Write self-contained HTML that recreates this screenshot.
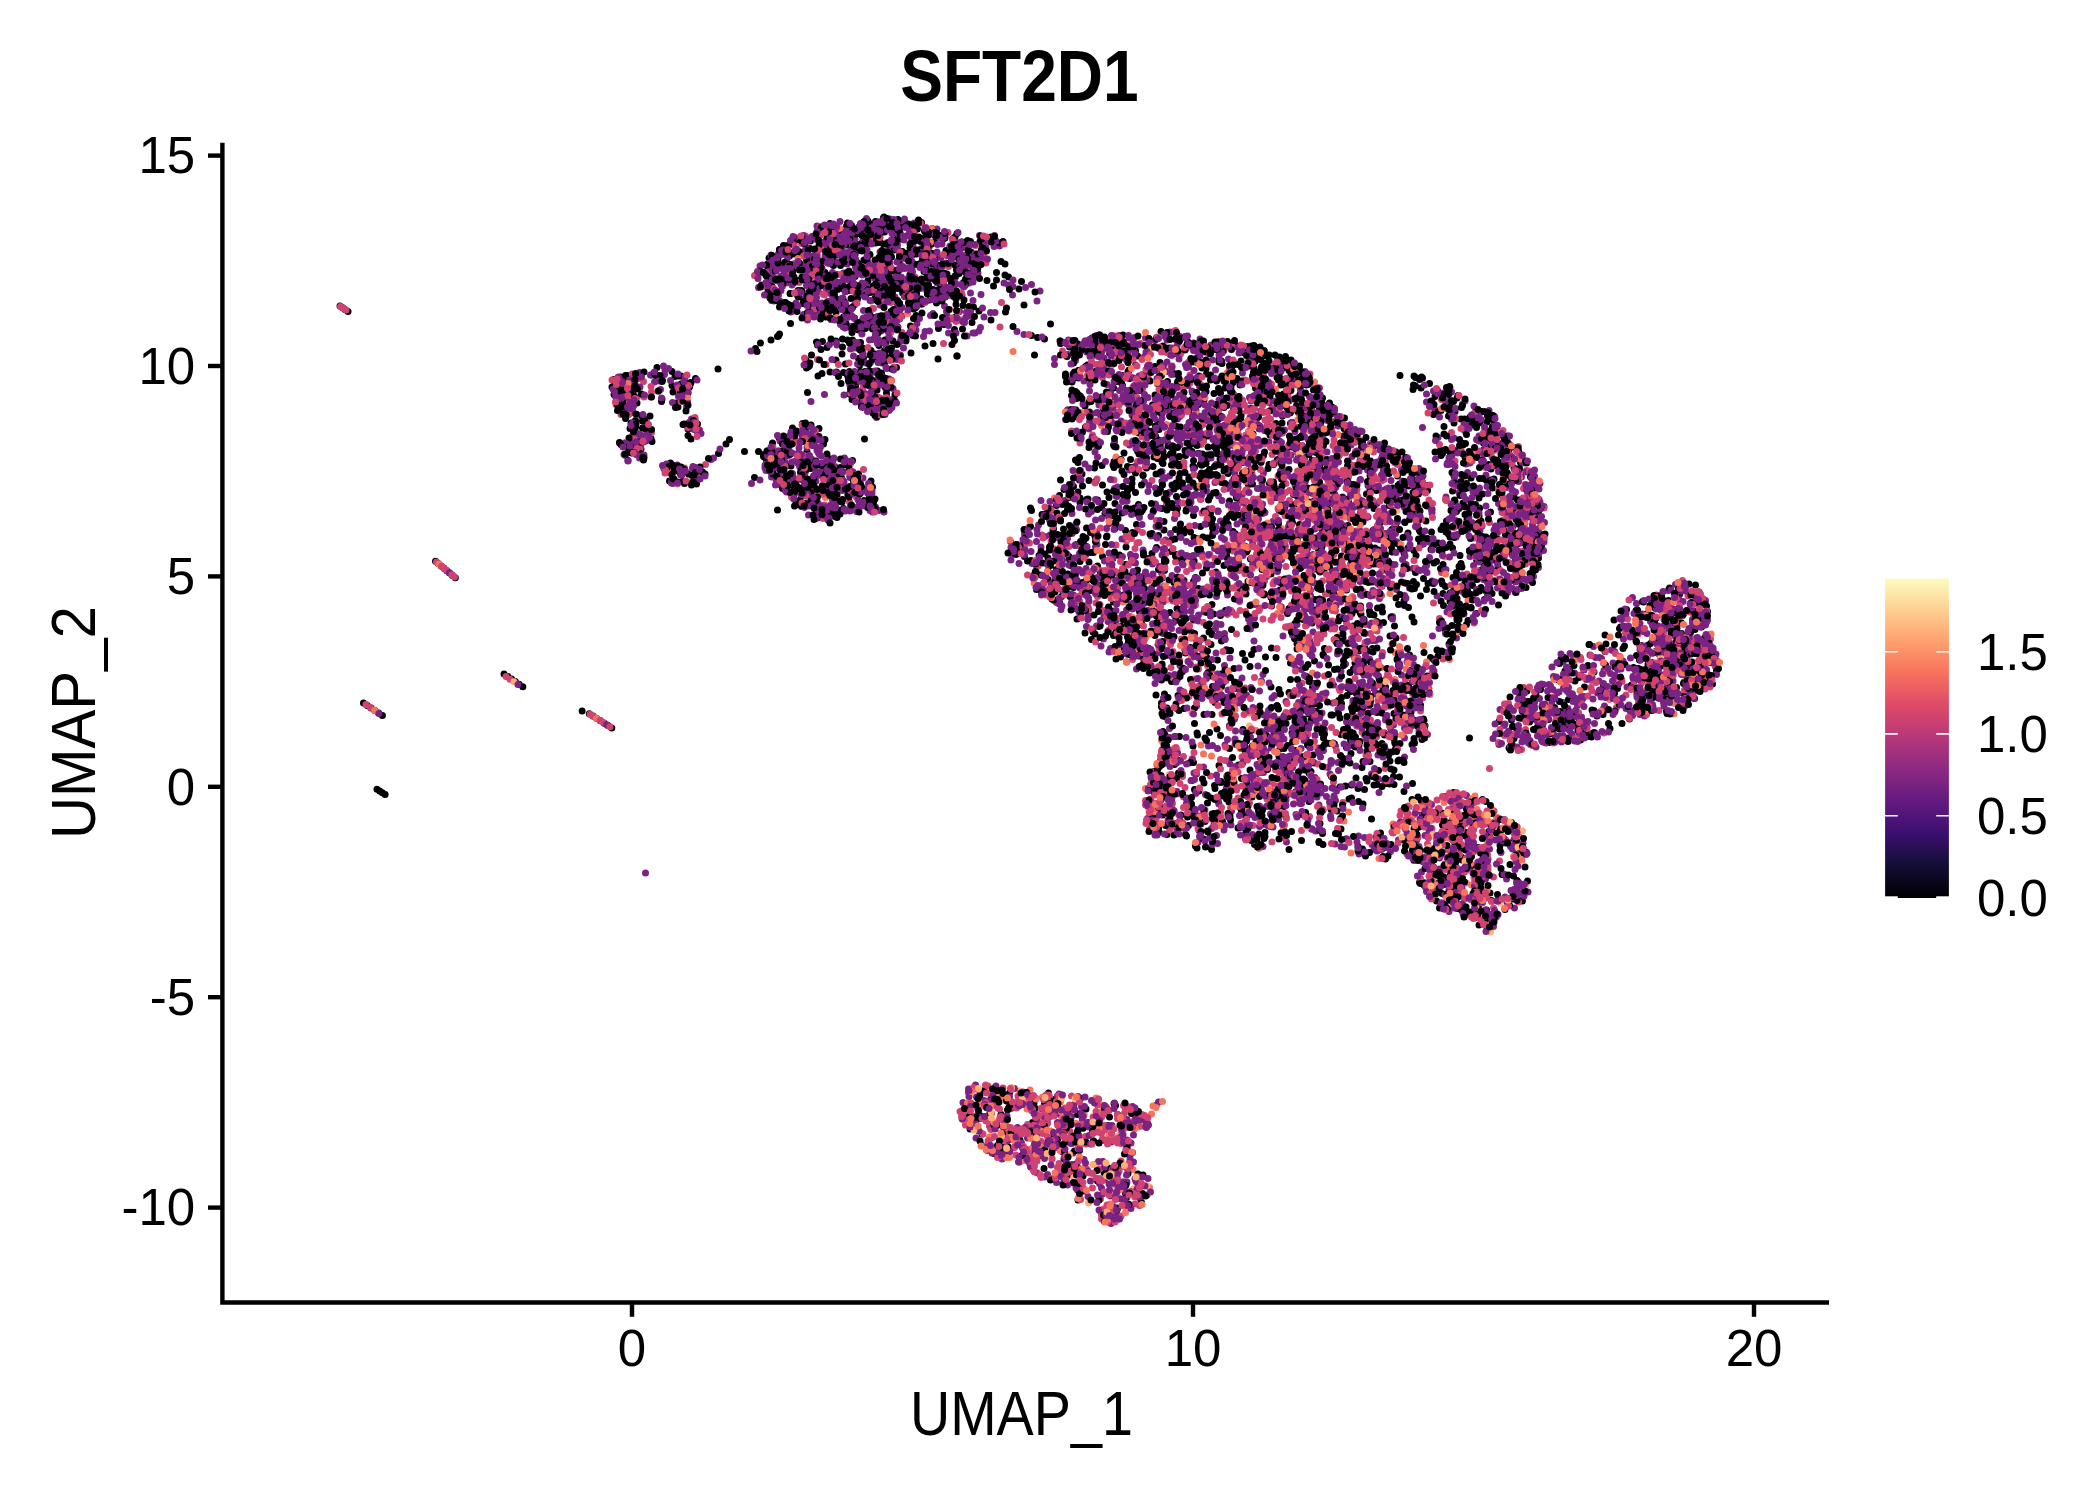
<!DOCTYPE html><html><head><meta charset="utf-8"><style>html,body{margin:0;padding:0;background:#fff;overflow:hidden}svg{display:block}text{font-family:"Liberation Sans",sans-serif}</style></head><body><svg width="2100" height="1500" viewBox="0 0 2100 1500"><rect width="2100" height="1500" fill="#fff"/><defs><linearGradient id="mg" x1="0" y1="1" x2="0" y2="0"><stop offset="0" stop-color="#000004"/><stop offset="0.1" stop-color="#140E36"/><stop offset="0.2" stop-color="#3B0F70"/><stop offset="0.3" stop-color="#641A80"/><stop offset="0.4" stop-color="#8C2981"/><stop offset="0.5" stop-color="#B73779"/><stop offset="0.6" stop-color="#DE4968"/><stop offset="0.7" stop-color="#F7705C"/><stop offset="0.8" stop-color="#FE9F6D"/><stop offset="0.9" stop-color="#FECF92"/><stop offset="1" stop-color="#FCFDBF"/></linearGradient></defs><g fill="none" stroke-linecap="round" stroke-width="7.00"><path stroke="#000004" d="M837 476.5h0m371.5 23.5h0m152.5 114.5h0m-67.5 16h0m-366-338h0m736 372.5h0m-803-293.5h0m771.5 258.5h0m-636.5 457h0m466.5-520h0m-290-82h0m-551.5-108h0m388-100h0m256 175h0m15.5-80h0m243 144.5h0m-528.5 577h0m211.5-702h0m199.5 108.5h0m-13.5 29.5h0m-191 126.5h0m77.5-261h0m121.5 348.5h0m-584.5-263h0m469.5-26h0m-629.5-79h0m780.5 478h0m-91.5-425h0m-133.5 202.5h0m-157.5-102.5h0m277.5 186.5h0m-205-168h0m92.5 142.5h0m78.5-46h0m-303 510h0m329.5-721h0m24.5 255.5h0m-476-200.5h0m-81.5-214h0m412 73.5h0m-561.5 102h0m250.5-200h0m-4.5 148.5h0m580 122h0m166 117h0m-556-17.5h0m568.5 88.5h0m-484.5 76h0m180-49h0m20.5-71h0m-524.5-146h0m-218.5-120.5h0m491.5-54h0m82 437.5h0m135.5-262.5h0m-4.5-45.5h0m-331.5 625h0m482-225h0m-173.5-478h0m179 121.5h0m-20 103.5h0m-170 230h0m-414-512h0m212.5 27.5h0m-305.5 86h0m460.5 11.5h0m-93-40h0m-72.5 54.5h0m-106-225h0m245.5 191.5h0m-139 688h0m-1-587h0m293.5-69h0m-134-14.5h0m-64.5 220.5h0m-30-42h0m151-217h0m153 164h0m-651.5-309.5h0m-106 158.5h0m171.5-70h0m820 229h0m-275 92.5h0m-167.5-290.5h0m-161-39.5h0m-193-94h0m431.5 255.5h0m-462-260h0m173 897.5h0m-158.5-654.5h0m-51-200h0m538.5 188.5h0m34 265.5h0m-69-50h0m186.5-269h0m-664-152.5h0m128.5-42.5h0m-350.5 141h0m743 283.5h0m-499-165.5h0m340.5-11.5h0m-278-238h0m238 247.5h0m353.5 334h0m-152-172.5h0m-70-280.5h0m8 259.5h0m-420-422h0m639.5 317.5h0m-687-251.5h0m323 511.5h0m-140.5-505.5h0m-79-53.5h0m274 589.5h0m-343-498.5h0m523.5 203.5h0m289 84h0m-290 162.5h0m-541.5-537h0m303.5 196.5h0m-342.5-148h0m154.5-32h0m193.5 193h0m-130.5 715h0m-51.5-853h0m251.5 339.5h0m-44-141h0m319 12.5h0m-348-138.5h0m35.5 362.5h0m-31.5-370.5h0m308.5 41.5h0m-282.5 143h0m-83 35.5h0m147.5 201.5h0m-278.5-490h0m631.5 344.5h0m-386-292.5h0m246 224h0m-448.5-31h0m126 102.5h0m-76 487.5h0m493-415.5h0m-416-124.5h0m-298-238h0m378 38.5h0m281.5 507h0m-444.5-566h0m-190.5 42.5h0m-63 65.5h0m388.5 394.5h0m111.5-143.5h0m-121.5-247h0m-308.5-188h0m-50 186.5h0m410 234.5h0m93-157h0m-47.5-115.5h0m-11.5 158h0m337.5 149.5h0m-453.5-311h0m-364.5-89h0m80.5 80.5h0m-52 24.5h0m509 81h0m25 224h0m-537-224h0m266.5-77.5h0m305 322h0m-568.5-527h0m633.5 421.5h0m-335 559.5h0m208-688h0m90-134h0m-240 143.5h0m-232.5-290.5h0m339.5 305h0m226.5 204h0m-568.5-511.5h0m197 193.5h0m-462.5-53.5h0m104 86.5h0m907.5 238h0m-736-445.5h0m501 645.5h0m-249.5-436h0m82 341.5h0m-476.5-414h0m478.5 404h0m-195-395h0m-101 711h0m245-598h0m99 283.5h0m-141.5-378.5h0m293 171h0m-392 550.5h0m67.5-341.5h0m-385-507h0m417 173.5h0m28.5-103h0m-336-73h0m379.5 64h0m-82.5 268.5h0m142-189.5h0m194 467h0m-308-386.5h0m-35.5-56h0m-247.5-163.5h0m204 329.5h0m79-247.5h0m287 518.5h0m-172.5-361.5h0m-260.5-19.5h0m22 33h0m301.5 14.5h0m-195.5-168.5h0m41 11h0m170.5 197.5h0m-57.5-11h0m139-22.5h0m-350.5-156h0m72.5 391.5h0m86-240h0m-16-102.5h0m398.5 182h0m-189 194.5h0m-212-348.5h0m-133.5 134.5h0m148-239h0m-128.5 381h0m-96.5-187h0m-253.5-267h0m477 406h0m-338.5-467h0m88 897.5h0m-179-789h0m602.5 123h0m-405 660.5h0m385-288h0m-362.5-476h0m211 58h0m-172 678.5h0m-4-726.5h0m500.5 232h0m-273.5 135.5h0m6.5-60h0m63.5-191.5h0m-159 288.5h0m76-382h0m-217.5 797h0m-264.5-891.5h0m384 410.5h0m-443.5-480.5h0m618 516.5h0m-223-298.5h0m-245.5-205h0m-293 162h0m292-179.5h0m141.5 289h0m188-167h0m-71 192.5h0m-115-158.5h0m-382.5-19h0m181-6h0m451 94.5h0m-493-172h0m-37 209.5h0m910 107h0m-656-14.5h0m161-61.5h0m172 197.5h0m83 112.5h0m-614.5-517.5h0m302 38.5h0m550.5 274h0m-824.5-354.5h0m445.5 457h0m-537-471h0m618.5 261h0m-487.5-269.5h0m127 300.5h0m40.5-65h0m-290-208.5h0m417 412h0m126.5-146.5h0m149.5-119h0m-298.5 5.5h0m27.5 237h0m-409-441h0m658.5 186.5h0m-200.5 338.5h0m-640-350.5h0m183-156.5h0m301.5 188.5h0m466 275h0m-171-112.5h0m-407.5 508.5h0m671.5-492.5h0m-382 56h0m-529-394.5h0m118 96.5h0m385.5 451h0m177.5-7.5h0m-284-385h0m325 10h0m-632.5 43h0m541.5 93.5h0m-409-327h0m317.5 118h0m-184 211.5h0m188.5-81h0m253 172h0m-324.5-201h0m-170 680h0m-199-912.5h0m456 205h0m63.5-8.5h0m-228 173h0m138 9h0m99.5 88.5h0m-505-463h0m434 404h0m76-110h0m-540.5-222h0m277 170h0m28.5 29h0m-37.5 77h0m-125.5 516h0m-16.5-856h0m213 99.5h0m118.5 94.5h0m-214 13h0m385 462h0m-624-641h0m787 319h0m-497.5-200.5h0m117 78.5h0m116.5-33h0m-89.5-9h0m-220.5 697.5h0m62.5-630.5h0m-9.5-138.5h0m-485.5 48h0m590 5.5h0m-221 709.5h0m565.5-402.5h0m-272 7h0m337.5-88.5h0m-455 176.5h0m123.5-357h0m333 146h0m-565.5-134.5h0m331.5 209.5h0m-351.5-87h0m117.5-176h0m245 298.5h0m-57.5-78.5h0m-53-65h0m-14.5-78h0m267 154h0m-777-166h0m89.5-249h0m193 317h0m-418.5-121h0m1056 223h0m-846.5-168.5h0m396-109h0m-619 66h0m505.5 725h0m-330-865h0m649 547.5h0m-271-360h0m-380-72.5h0m456 295h0m-38 82h0m66-80.5h0m27.5 112h0m194-254h0m-447-232.5h0m100 446h0m12.5-95h0m311-253h0m-6 471h0m-53.5-49h0m-570-472.5h0m486.5 368.5h0m-67 68h0m52-280h0m128-48h0m117.5 237h0m-265.5 55h0m-176-362h0m169.5-51h0m370 239.5h0m-130 98h0m-860-245.5h0m356 117h0m-261.5-148h0m433.5 146h0m-361-344h0m546.5 255h0m-304.5 681h0m360.5-307.5h0m-37-73h0m-547-429h0m643.5 517.5h0m-171.5-50h0m-266 260.5h0m617.5-417h0m-386.5-260h0m-179.5 135.5h0m209.5 271h0m-434.5-573h0m-122-5h0m499 285h0m-79.5-136h0m-50 371.5h0m-248-436h0m527.5 248h0m-553-265h0m361.5 490.5h0m-196.5-231h0m285.5-111.5h0m-55-43h0m-101.5 341h0m-96-394h0m107 464h0m-30.5-222.5h0m365.5 237.5h0m-45.5-356.5h0m-313.5-79h0m203 90h0m-158 153h0m-385.5-341h0m400 466.5h0m17-418h0m47 142.5h0m-181-163h0m293 315.5h0m-504.5-412.5h0m91.5 843.5h0m370-650.5h0m-497.5-59.5h0m28.5 32.5h0m458.5 316.5h0m102-200.5h0m-586-27h0m-91-32.5h0m510 239.5h0m-458-390h0m67.5-1h0m-20-97h0m16.5 129.5h0m247.5 133h0m-302-191.5h0m523.5 377h0m-484-164h0m653 396h0m-622-649h0m450 180h0m-576.5-162.5h0m54.5 238h0m599.5 76h0m-302.5 610h0m260-334.5h0m-389-586.5h0m104.5 78.5h0m3 152.5h0m-329-245h0m609 586h0m-321.5-340h0m312 88.5h0m-203.5-139.5h0m-23 105h0m68.5-177.5h0m84 154h0m-34 200.5h0m239-200.5h0m-375-75.5h0m-27-50h0m-9 755h0m279.5-549.5h0m-43 194.5h0m125.5-298h0m-292.5 221.5h0m-549.5-348.5h0m495-31.5h0m-37 26.5h0m36 197h0m405.5-108.5h0m-256.5 248h0m56-229h0m-322.5-250h0m520.5 241h0m-227 237.5h0m-168-379h0m-483 44h0m239 106.5h0m152 54h0m138.5 190.5h0m498-100h0m-210.5-178h0m164 240h0m-577 463.5h0m299-677h0m-118.5 31h0m-425-240h0m629.5 544h0m-103.5-244.5h0m-468-176h0m616 93.5h0m-636 25.5h0m71.5-175h0m559 107h0m-69 42.5h0m-458-230.5h0m47.5 876.5h0m-153-901h0m485 268h0m42 277h0m-27-314.5h0m-231 125h0m425 263.5h0m-267.5-464h0m18.5 344.5h0m-481.5-304.5h0m278 697h0m232.5-561h0m265.5 174h0m16-51h0m89.5-74h0m-717-257h0m95.5 743.5h0m86-595h0m176 95h0m336 44h0m-359.5-264.5h0m277 362.5h0m-419-93h0m-255-321h0m526.5 366.5h0m-607-205h0m531-71h0m-151 202h0m443 35.5h0m53 10.5h0m-192.5-200h0m-218-88.5h0m-448.5-76h0m639 121.5h0m40.5 274h0m-683-349.5h0m400 121h0m260.5 124.5h0m-149-90h0m-34.5 207h0m-100-364.5h0m159 375.5h0m-689.5-255.5h0m537 124h0m312 122h0m-73-254h0m-168 324.5h0m91-133.5h0m53.5-127.5h0m-403 577.5h0m156-338h0m275.5-260.5h0m-213 324h0m98-207h0m-202 8h0m427.5 46h0m-394-119.5h0"/><path stroke="#7B2382" d="M1165.5 787h0m22.5-401.5h0m-117.5 172.5h0m190 214.5h0m-446.5-455.5h0m103 6.5h0m229.5 324h0m116-117h0m-122.5 76.5h0m161 141.5h0m-413.5-506h0m-108.5 208.5h0m-136.5 4.5h0m608 63.5h0m254.5 205h0m-390 449h0m563.5-512h0m-380-292.5h0m-53 155.5h0m94 155h0m43.5 78h0m131 82.5h0m-167.5-117.5h0m-208 400.5h0m246-648.5h0m19 230h0m265.5-92h0m-314-71h0m-469.5-153h0m33-102.5h0m-92-39h0m502.5 165.5h0m202.5 72h0m-664-79h0m529.5 94h0m-556.5-174.5h0m455.5 344.5h0m-46-251.5h0m93.5 118.5h0m-260.5 577h0m604-456h0m-532.5-222h0m224.5 95h0m-107.5 217h0m207.5-176h0m-201.5-158h0m83.5 37h0m304 151h0m-798.5-382.5h0m547 481.5h0m-427.5-452.5h0m130 248.5h0m-469-64h0m712 422h0m-117-338h0m-11 309h0m-375-591.5h0m788 479h0m-227.5-200h0m187 150.5h0m-288-183h0m202 86h0m-891-169.5h0m1069 294.5h0m-515.5-25.5h0m-46.5-29h0m564 41.5h0m-412.5 104.5h0m398-181h0m-828.5-339.5h0m-13-24.5h0m800.5 441.5h0m-337-182h0m-452-235.5h0m569.5 600h0m9-57h0m-274.5-426h0m212 295h0m-65.5-236.5h0m400.5 226.5h0m-404.5-204.5h0m-71-100h0m298.5 221.5h0m-172 65.5h0m-21.5 39h0m-203.5 475.5h0m327-343h0m-233.5-135h0m59.5-221.5h0m85 56h0m71.5 341h0m235.5-248.5h0m-662-323h0m-89.5 50h0m757 297.5h0m-310-190.5h0m-248 58h0m-316.5 2h0m281.5-134.5h0m39.5 750.5h0m-182-883.5h0m211 582h0m241-329h0m-138.5 30h0m438.5 171.5h0m-295-116.5h0m-11.5 154h0m-427.5 374.5h0m304-738h0m234 218h0m-332.5-172.5h0m-308-116h0m615.5 615.5h0m-92-401.5h0m-137 240.5h0m80.5-249h0m-533.5-256h0m515 515.5h0m-21-207h0m-345.5-286h0m-174.5 26.5h0m682.5 107.5h0m37.5 459h0m-376.5-442.5h0m80 215.5h0m-45.5-206h0m361 476h0m-419-295h0m-97.5-294.5h0m452 590.5h0m-521-654.5h0m53.5 24.5h0m-128 188h0m833 155.5h0m-113 57.5h0m-933.5-271h0m711.5 253h0m-155.5 148h0m491-201.5h0m-18.5 24.5h0m-340-177.5h0m-71.5 179.5h0m87.5-87h0m-81 222.5h0m121-9.5h0m107.5 124h0m127.5-216h0m-58 75.5h0m-89-274.5h0m-348.5-124h0m79 366h0m-360-479.5h0m535.5 618h0m-63.5-116h0m-62 109h0m292-270h0m-5.5-79.5h0m-444.5 26h0m451 19.5h0m-703.5-23h0m694.5-25.5h0m-122 228h0m268-49h0m-878.5-367.5h0m24.5-10.5h0m424 409h0m60-70h0m-246.5 489.5h0m631.5-475.5h0m-301 60h0m-592.5-236h0m374.5 115h0m-548.5-123.5h0m767.5 277.5h0m141.5-236.5h0m-647.5-238h0m-38 54.5h0m505.5 160.5h0m-38 305h0m-179.5-221.5h0m-47 571h0m611-446h0m-605-89.5h0m531 23.5h0m-351.5 179h0m203.5-301.5h0m-819.5-101.5h0m923 339.5h0m9-75.5h0m-280.5-212h0m-450-192.5h0m670.5 463h0m-74-176.5h0m-138-77h0m-17.5-70h0m-498.5 41.5h0m310-27h0m13 782.5h0m223.5-532.5h0m349.5-55h0m-471.5-175h0m161.5 93h0m-24 16.5h0m-145.5 43h0m-345.5-340h0m244.5 250h0m291.5 201h0m-445.5-401h0m117 826h0m-299.5-822.5h0m449 473.5h0m-29-212h0m269-89h0m-13.5 175h0m48.5 201.5h0m-415-455h0m158 136h0m-272 617.5h0m69-601.5h0m628 144.5h0m-337.5-167h0m30 182h0m-103.5 98h0m-115.5 333.5h0m518.5-515h0m-514.5-204.5h0m-226-124h0m613 446h0m-262.5 67h0m-80-302.5h0m-62 157.5h0m129-116.5h0m-127 580h0m552.5-432.5h0m-231-159h0m-553-300.5h0m-24 135.5h0m485 218h0m175 121.5h0m-290.5-339.5h0m-424-102.5h0m677.5 194.5h0m-13-4h0m-140 17.5h0m-106 350h0m-611.5-372h0m1061.5 177h0m-389-9.5h0m-229-249.5h0m-216.5 19.5h0m791 323h0m-336-213.5h0m-693-77h0m578 418h0m64.5-357.5h0m-70-130h0m309 161.5h0m-610.5-189.5h0m597.5 603.5h0m-665-524h0m461.5 393.5h0m-28.5-240h0m216.5 31.5h0m-259-97h0m-359.5-217h0m324.5 71h0m-49 302.5h0m155.5-52.5h0m386.5 89h0m-548.5-61h0m359-35h0m-152.5 5h0m336.5 101.5h0m-371.5 128.5h0m-0.5-175.5h0m10.5-21h0m372.5-20h0m-113 118.5h0m-654-467h0m-49-8h0m-165 190.5h0m-21.5-45h0m417-12h0m396 554.5h0m-602-611.5h0m407 81h0m-348.5-135h0m369.5 471.5h0m-417.5-448h0m795.5 307h0m-515.5 84.5h0m25.5-24.5h0m67.5 159.5h0m-466-340.5h0m355-99h0m-267-149h0m323.5 301h0m97-94.5h0m-499 72h0m708-3h0m-392-91.5h0m196 124h0m351 132h0m-566 558h0m271.5-664h0m256.5 129h0m-377.5-260h0m243 391h0m11-237.5h0m-273-88h0m301 190.5h0m-117 173h0m80 21.5h0m-247.5-525.5h0m35 159.5h0m-130 239h0m288-235.5h0m35.5 66h0m-40-119.5h0m-134 14.5h0m-188.5 647.5h0m28-613h0m167 92.5h0m-383.5-309h0m330.5 444h0m416.5-73.5h0m-55-40h0m-207 246h0m268-180.5h0m-664-404h0m-47.5-19.5h0m119 276.5h0m-237-221.5h0m251 803h0m-253-615.5h0m826 171.5h0m-478-201h0m-172 665.5h0m249-675h0m-80 121h0m123-120h0m-25.5 60h0m-108.5-141.5h0m144 119.5h0m-224 708h0m2.5-22h0m-192.5-892.5h0m164.5 46h0m223 396.5h0m228-204.5h0m-224.5 27.5h0m-282.5 597.5h0m-232-734.5h0m58-147h0m258 156.5h0m252 75.5h0m80.5-53h0m-301.5 2h0m273.5 380h0m119.5-341h0m-367.5 276.5h0m484.5-182h0m-421-168h0m-158.5 92h0m300 313h0m-303 316h0m-107.5-868h0m533 555h0m-247.5-439h0m-278-100.5h0m-68.5-81.5h0m626 525.5h0m-652-369.5h0m280.5 278h0m-281.5-329.5h0m7.5 91h0m618.5 106h0m-220.5 240h0m-217-384h0m547 338h0m-218.5 27h0m-239-253.5h0m-247-198h0m324 482.5h0m-50.5-334.5h0m-403.5-143h0m295 887.5h0m-283.5-930h0m349.5 952.5h0m345.5-667.5h0m-182 164h0m-448-472.5h0m700 506.5h0m-132.5-58h0m71-106.5h0m-222-88.5h0m-52.5 321.5h0m117.5-208h0m-35.5 17.5h0m216 133.5h0m-85-166h0m-145.5 4h0m-248 3h0m126.5 4h0m-525.5-134h0m149-13h0m462 292h0m-470-435.5h0m741 209h0m-211 85h0m150.5-68h0m105 196h0m-409 59.5h0m80.5-364h0m-61.5-81h0m288 276h0m-340-271h0m412.5 173h0m-562.5-242h0m302 95.5h0m-446 136h0m53-212h0m696 444.5h0m61-78h0m-122.5 233.5h0m-79.5-49.5h0m-178.5-153h0m458-29.5h0m-762.5-383.5h0m-195-7h0m119 129h0m211-34.5h0m567.5 302h0m-215.5 212.5h0m-160-465h0m-139.5 167.5h0m-92.5-47.5h0m-87 575.5h0m641-440h0m-733.5-308h0m536 477h0m-318.5-220.5h0m582.5 39h0m-893-194h0m457.5 10h0m172 61.5h0m-47-75h0m-745.5-68.5h0m885.5 317.5h0m4-253h0m-276-9.5h0m-94 127h0m387-74.5h0m-678-201.5h0m90 15.5h0m-147-30.5h0m343.5 162h0m100.5 345.5h0m-115-195h0m-238.5-178h0m419.5 154h0m-148 235h0m273.5-111.5h0m-188-242h0m-124.5-102h0m326.5 537.5h0m124-152.5h0m-395.5-278.5h0m194.5 378.5h0m-468.5-541h0m31-30.5h0m-82.5-28.5h0m370 273h0m23.5-73.5h0m143.5 205h0m-61-57.5h0m-674.5-148.5h0m555 2.5h0m139-23.5h0m-234.5 770h0m-36.5-32h0m79-542h0m365.5-17h0m-212.5-107.5h0m-76-85h0m95.5 129h0m-210.5-160.5h0m556.5 288.5h0m-507.5 164.5h0m-307-577h0m139.5 861h0m-139-816h0m703 418.5h0m-507.5 401h0m34.5-579.5h0m467 21h0m-344.5-168h0m-1 57h0m204 251h0"/><path stroke="#D04371" d="M1192 599h0m-19 52.5h0m395 16.5h0m-446.5 456.5h0m261.5-561.5h0m195.5 151.5h0m-300.5-164h0m-462.5-119.5h0m637 388h0m-268-170h0m-302-331.5h0m522.5 504.5h0m-318.5 347h0m-453.5-786h0m198.5-124h0m662 563.5h0m-682-330.5h0m453 89h0m96.5-150h0m-241-79.5h0m548 269h0m-161.5-105.5h0m-366 97.5h0m36.5-208h0m85-2h0m97 104.5h0m-39-59.5h0m-208 769.5h0m266.5-632.5h0m-44.5-144.5h0m191 83h0m-35.5 290.5h0m20-359.5h0m-252.5-29h0m109 249.5h0m-231 529.5h0m6-604h0m111-127h0m16 16h0m46.5 31h0m234 222h0m-287-205.5h0m-346.5-259.5h0m458.5 448.5h0m-93-5.5h0m-5-356.5h0m-240 749h0m194.5-327h0m114.5-236h0m272 158h0m-450.5-154h0m59-1h0m92 227h0m-160.5 48h0m407.5-98.5h0m-245-315.5h0m-312.5 730.5h0m135-736.5h0m332.5 215.5h0m-103.5 10.5h0m220.5 54h0m-72.5 147.5h0m7-350.5h0m-565.5 627h0m313-395h0m83.5-222.5h0m-176.5 31.5h0m79.5-125h0m-282 708h0m47-562.5h0m403 309h0m-294.5-246.5h0m98.5-206.5h0m115.5 79.5h0m-101 349.5h0m453-214h0m-432 151.5h0m225 154.5h0m34.5-452.5h0m-145.5 197h0m112.5 209.5h0m-304.5-446.5h0m58-64.5h0m107 99.5h0m132 358.5h0m-402-479h0m-149.5-67.5h0m255.5 105.5h0m262 456h0m-458 311.5h0m447.5-578h0m-403.5-6.5h0m416.5 267h0m-32-135h0m-95.5-165.5h0m-514.5-100h0m175.5 653.5h0m533.5-336.5h0m168.5-137.5h0m-364-113h0m203.5 60h0m-58 260h0m-223-387.5h0m455 167.5h0m-466.5-107h0m9.5 97h0m75.5 159.5h0m-437-387h0m572.5 530.5h0m-199-509h0m-387-82h0m-227.5 96h0m768 443.5h0m35.5-8h0m-414.5 337h0m118.5-565.5h0m-140.5-52.5h0m-209.5-308h0m518 382.5h0m-138.5-221.5h0m323.5 62h0m-93 255h0m-100-176.5h0m-434-306.5h0m139 869.5h0m624-432.5h0m-790-212h0m472.5 347h0m20.5-270.5h0m-226 574.5h0m50.5-362h0m355.5-233h0m-99.5 167h0m-175.5-209h0m-483-191h0m446 383.5h0m87.5-299h0m81 206h0m-141-141.5h0m-123-81.5h0m166.5 194h0m104 130h0m58.5 135.5h0m-206.5-347h0m-93-45h0m38 207.5h0m-112 543h0m270-729.5h0m-194.5 23h0m-123.5 635h0m88.5 106h0m207.5-711.5h0m-355-175.5h0m364.5 199.5h0m-209 110.5h0m267.5 45h0m-43 60h0m-283 398.5h0m311-661.5h0m-193 191.5h0m535.5 3h0m-352-74.5h0m-179-129h0m-268.5-209h0m341 127h0m-253.5 707.5h0m251.5-741h0m-39.5 211.5h0m-403.5-285.5h0m474.5 439.5h0m119.5-33h0m-257.5-302h0m133.5 229.5h0m251 138.5h0m-337.5-94.5h0m-124.5 459h0m379-224h0m-149.5-424.5h0m-128 336.5h0m300.5-381.5h0m46 465.5h0m-249.5-482.5h0m-37 113h0m70 170.5h0m-134.5-249h0m175.5 136.5h0m94 229.5h0m-338-396.5h0m117.5 415h0m442.5-211.5h0m-310.5-117.5h0m167.5 364.5h0m-42-55h0m-271 13.5h0m171.5-125.5h0m-89-141h0m-414.5-50h0m377 301h0m-108.5-414h0m210.5 222h0m295 91h0m-268.5 41h0m-191.5 50.5h0m89-205.5h0m-72-69h0m116 213h0m10.5-208.5h0m94 212h0m-308-105.5h0m24.5-172.5h0m-283.5-125.5h0m511 248h0m-250.5-29h0m-37 592.5h0m282-677h0m9.5-14h0m-216 330h0m133-306.5h0m119.5 253.5h0m116.5-36h0m-674-185.5h0m-212.5-105h0m481.5 822h0m192-575.5h0m-64.5-108.5h0m120 220h0m-176.5-150h0m-85.5-245.5h0m138 397.5h0m-2.5-155.5h0m-165 4h0m400 197h0m-288 1.5h0m68-395.5h0m-45 287.5h0m78.5-300h0m-30.5 351.5h0m185.5-88.5h0m-95-112.5h0m141.5 222h0m-148.5-167.5h0m-28-83.5h0m-27-34h0m-111.5 109h0m142.5-130.5h0m159 354.5h0m-303-215.5h0m124-149h0m-75-107h0m101.5 113.5h0m-20 28h0m18-29h0m-220 757.5h0m305.5-361h0m-318-425h0m250.5 112.5h0m328.5 134h0m-450.5-114.5h0m107-87h0m-64.5 70.5h0m225.5-77h0m-727.5-191.5h0m416.5 97.5h0m-63.5 760.5h0m338.5-538h0m-56 107h0m-36-149.5h0m-288.5 584.5h0m112.5-499h0m425 32h0m-753.5-283.5h0m411.5-36.5h0m-149.5 45.5h0m68-7.5h0m-156.5 743h0m226.5-306.5h0m99-212h0m-245-251h0m75 262h0m101.5 149.5h0m-162.5 442h0m-62-70h0m396-685h0"/><path stroke="#F6735C" d="M989 1093h0m-94-857.5h0m-69.5 262h0m553.5 16.5h0m-299 683.5h0m201.5-669h0m-120.5-146.5h0m360 151.5h0m59 157h0m85.5-47h0m-283.5 57h0m86-100.5h0m207 97.5h0m-243 135h0m-286.5-44h0m365-80h0m-400 468h0m141.5-660.5h0m-96.5 260.5h0m369-254.5h0m-479.5 595.5h0m4.5-20.5h0m371.5-290h0m-420 326h0m474-337h0m-373 309.5h0m288-512h0m-255-161.5h0m213.5 136h0m-199 233.5h0m300.5-7.5h0m72 66h0m-396.5 352.5h0m124-499.5h0m268 121h0m-13-14h0m-403.5 292h0m202-531h0m-76-208h0m-88.5 754h0m432.5-433.5h0m-178 130.5h0m-175-482.5h0m130.5 470.5h0m156.5-264.5h0m-423.5 621.5h0m161-601h0m71-95h0m-154.5-103.5h0m153.5 303.5h0m-81-163.5h0m-98.5-149.5h0m338.5 525h0m-423.5 248.5h0m401.5-474h0m-304-21.5h0m253.5 61h0m-251 418.5h0m106-770.5h0m8 232h0m215 230.5h0m-82-157h0m-60.5-172.5h0m-460-244.5h0"/><path stroke="#FDAF74" d="M1311 761h0m-204.5 407.5h0m142.5-736.5h0m-229.5 659h0m52 84.5h0m95.5-359.5h0m-165.5 323.5h0m550-436.5h0m-438 468.5h0m56-397h0m25-213.5h0m-98 603.5h0m-24-23h0m-73 8h0m526.5-264h0m-26 17.5h0m-366.5 286h0m27.5-589.5h0m27-37h0"/><path stroke="#000004" d="M1310.5 555.5h0m110-12.5h0m-35.5-78h0m-319.5-91h0m150.5 74.5h0m259 454h0m227.5-289h0m-50.5 2h0m-502-234.5h0m-431.5 72.5h0m407 111h0m3 32.5h0m455.5 139h0m-278-0.5h0m76-149.5h0m-188.5-70.5h0m-125.5-105.5h0m-115.5-158.5h0m367 230.5h0m167-1.5h0m-622-233.5h0m172 342.5h0m-123.5-254h0m447 406h0m-382.5-466.5h0m420.5 210.5h0m-235-22h0m290.5 329h0m26-325h0m75 240h0m-391.5-256h0m-92 114h0m247-95h0m-74.5-47.5h0m168.5 194h0m-577.5-381h0m636.5 242h0m49.5-15.5h0m-383-106.5h0m281.5 471h0m-60-81.5h0m138-315h0m-728-172.5h0m506 477.5h0m54.5-330.5h0m142.5 438.5h0m-288.5-228h0m-365.5-324h0m274.5 839.5h0m-281.5-893h0m588 522h0m118-29.5h0m-109.5-147h0m-125.5 144.5h0m-423.5-254h0m399.5-77h0m260 113.5h0m-405.5 45h0m-85 538h0m-158-592.5h0m670 214.5h0m177-45h0m-235.5-149.5h0m-713-252h0m111 58h0m540.5 52.5h0m-625 126.5h0m24-235.5h0m379.5 216h0m-3 93h0m-71-105h0m-183-186.5h0m318 238h0m-386-130.5h0m-54.5 110.5h0m293.5 105h0m104-136.5h0m423.5 185.5h0m-764.5-400h0m802 335h0m-590.5-67h0m174 230h0m136-258h0m-42-69.5h0m-253 77h0m265.5 237.5h0m-347 395h0m418-597h0m-25 177.5h0m-80.5-5.5h0m124.5-97.5h0m50.5-181.5h0m-210.5 213h0m-208-201.5h0m-265.5 45.5h0m628 319.5h0m-328.5-180.5h0m441 93h0m-63.5 104h0m-309-25h0m-211.5-562.5h0m-91.5 139h0m434 219.5h0m169 300.5h0m190-267h0m-350 143h0m334.5-164h0m10.5 27h0m-731.5-401.5h0m396.5 459.5h0m120.5 162.5h0m-268-322.5h0m81-40h0m412 164h0m-489.5 73.5h0m291-270.5h0m-718 7h0m651.5 268h0m-282-105.5h0m40 187h0m184-188.5h0m90-209.5h0m-163.5-11h0m136.5 94h0m-37.5 194.5h0m-303-127h0m112-169h0m337 290.5h0m-398.5-181.5h0m304.5 67.5h0m-102 122h0m139.5-205h0m-211 301h0m-400.5-524.5h0m436 211.5h0m-67-139.5h0m-11 35.5h0m-384-131h0m587 309.5h0m212.5 85h0m-421.5-297.5h0m-388.5-107h0m277 103.5h0m-308-89.5h0m56.5-4.5h0m321 257.5h0m281 350h0m230.5-274h0m-362-124.5h0m-487 21.5h0m117-125h0m560 212h0m-218-198.5h0m-523.5 97h0m711 443.5h0m-239-360h0m-183 616.5h0m255.5-354h0m-623.5-336.5h0m619 134h0m-41.5 208h0m-13-458h0m-535 84h0m-90.5-23.5h0m761 266.5h0m-219.5-200.5h0m263 385h0m-7.5-196.5h0m-232-211h0m-520 10h0m830-28.5h0m-386.5-88.5h0m60.5 275h0m194-82h0m-334 42h0m-363.5-122h0m396 52h0m61 668h0m49-747h0m298 133.5h0m-386.5-229.5h0m384 113h0m6.5-47h0m-320 167h0m-353.5-64h0m335.5 115h0m-324-394h0m681 312h0m-138-59.5h0m311.5 133.5h0m-514.5 86h0m72-154h0m-395.5-182.5h0m423.5 388.5h0m183-356h0m-440.5 688h0m202.5-279h0m290 60.5h0m27-379.5h0m-646-199h0m269.5 488h0m390-59h0m-172.5 36.5h0m73.5-109.5h0m22 184h0m-602.5-517h0m-206.5 56h0m752 111h0m-553.5-209.5h0m662.5 223.5h0m-402.5 716.5h0m568.5-533h0m-702 417h0m728-465.5h0m-842-227.5h0m-100 43.5h0m471.5 248h0m-13-172h0m-378-286h0m690 323.5h0m-652-221.5h0m754.5 353h0m-639.5-434.5h0m430.5 270.5h0m-136 260h0m381.5-172.5h0m-778-316.5h0m483 160.5h0m152 255.5h0m-882.5-344h0m558 220h0m91.5-180.5h0m-281 131h0m192 169h0m-90-339h0m200.5 154.5h0m77-46h0m-277 98.5h0m-234-194.5h0m-19.5 118.5h0m381 248.5h0m-369.5-379.5h0m302 265.5h0m38 94.5h0m62.5-367.5h0m22 121.5h0m-617-96.5h0m685 54h0m-183.5-1.5h0m230.5 86h0m-254 124h0m231.5-179.5h0m-114.5-70.5h0m93.5 85h0m-197 334.5h0m-3-270.5h0m350-53.5h0m-95.5-98h0m-295 3h0m-129 731.5h0m441-526h0m-623-370h0m787.5 408.5h0m-447.5 85h0m19-342.5h0m233 280h0m-139.5-312h0m194 470h0m8-378.5h0m-38.5 77.5h0m244 143h0m-393 60.5h0m-19-364.5h0m79 65.5h0m184 259.5h0m-337 97.5h0m268.5-200.5h0m-5.5 23.5h0m-579-388h0m336 539.5h0m246-186h0m52.5-42h0m-668-143.5h0m235.5 12h0m253.5 294.5h0m78-19.5h0m-67.5-254h0m147.5 15h0m-596.5-156h0m160.5 194h0m134 228h0m-188-400h0m345 490h0m-266-431.5h0m443 335.5h0m-443-275h0m111 229h0m169.5-13.5h0m132.5-37.5h0m-634-166h0m182.5 683h0m112-290h0m541-151.5h0m-844-304h0m409 460h0m39-425h0m-425-66h0m-56-66h0m463 444h0m77-201.5h0m331.5 122.5h0m-611.5-91.5h0m329 191.5h0m-223-382h0m416.5 302.5h0m-810-160.5h0m653.5 139.5h0m-514.5-409h0m122.5 345.5h0m238 43h0m8-4h0m-175-248h0m327 40h0m60.5 147.5h0m-423.5-221h0m322 400.5h0m-26-239.5h0m-94.5 12.5h0m-69.5-40.5h0m241 36h0m184.5 177h0m-965.5-301h0m549 148.5h0m271.5-10h0m-671-274.5h0m487 173.5h0m-150 15h0m-323-212.5h0m651 225h0m-306-22.5h0m155.5 157h0m-119.5-97h0m-134-139.5h0m50 250h0m491 113h0m-423 130h0m73-440h0m247.5 105h0m-81-31.5h0m-62.5 221.5h0m71.5-275h0m-633-166h0m385 279.5h0m41.5 312h0m218.5 54h0m12-320.5h0m-293.5 14.5h0m12.5-155h0m-140 52h0m158-143h0m-44.5 110.5h0m-339.5-174.5h0m246 908.5h0m-4.5-733.5h0m117.5 275.5h0m461.5-35h0m-147 22h0m-541.5 409h0m173-654h0m301 409.5h0m-264.5-148h0m60.5-351.5h0m108 140.5h0m157-70h0m-639.5-221h0m810 398.5h0m-481.5-72h0m-341.5-100.5h0m465.5 23.5h0m-320.5 661.5h0m476-317h0m-616.5-533.5h0m300.5 538.5h0m-541-436h0m527 271h0m199.5-30.5h0m107-36.5h0m-66.5 21h0m38.5-141h0m-377.5-142.5h0m-64-97.5h0m509.5 347.5h0m-182.5 204h0m-457-515.5h0m816.5 436h0m-800.5-440.5h0m311.5 422.5h0m-341.5-443h0m385.5 187h0m-344-32h0m304.5 264h0m283.5 161h0m-814-391h0m994.5 204.5h0m-531.5-142.5h0m407.5 215h0m-118 132.5h0m-443.5-557.5h0m150.5 274h0m26.5 73h0m441 37h0m-345-101.5h0m-90 84.5h0m164.5-214.5h0m44.5 275h0m-234-256h0m442.5 247h0m-930.5-289h0m408.5 134h0m97-154.5h0m-454 79h0m538.5-1.5h0m27 348.5h0m208.5-15.5h0m-10.5 67.5h0m-346-255.5h0m387.5-209h0m-712 39h0m66.5-166.5h0m202.5 815.5h0m224.5-639.5h0m-176.5 115.5h0m216 128.5h0m-11-29h0m222 14h0m-3 147.5h0m-723-587h0m622 466.5h0m-25.5-84.5h0m-46-207.5h0m-24.5 156h0m-390.5-329h0m-236.5 227.5h0m615.5 181.5h0m-394-400.5h0m570 302h0m-116.5 175.5h0m-33-203.5h0m-531.5-234.5h0m367 309h0m164-82h0m-290 638h0m268.5-481.5h0m-160-34h0m538.5 1h0m-283-106h0m-775-154.5h0m678.5 56h0m-494.5-200h0m220.5 88h0m-199.5 139h0m-196.5-82.5h0m283.5-48h0m-100-73.5h0m219.5 320h0m440.5 327h0m-234.5-553.5h0m439 329.5h0m-622.5 473.5h0m-240.5-888.5h0m645 269h0m-814.5-182h0m799 158h0m197.5 138h0m-196 140h0m-608.5-513h0m321 164.5h0m186.5 62h0m-482.5-158.5h0m106.5 743h0m469.5-564.5h0m-41 269.5h0m-242-304.5h0m534.5 125h0m-519.5 64.5h0m189-153h0m-217.5 64.5h0m195-102h0m-202.5 153h0m29 26h0m-27 125h0m168.5-120h0m-131-277h0m134.5 57h0m370.5 179h0m-204.5-78.5h0m-54.5 317.5h0m-71.5-270.5h0m20-28.5h0m-238 40.5h0m112 25h0m-394-404.5h0m301.5 367h0m232 220h0m-387.5 320.5h0m94-581.5h0m604 91h0m-388.5-260.5h0m-188.5-5h0m-263.5-38.5h0m273 264.5h0m185-212.5h0m-217.5 762.5h0m195.5-378.5h0m352-131.5h0m-456-218.5h0m65.5-74.5h0m34 29.5h0m248 136h0m-252-111.5h0m-32 345h0m-376.5-366.5h0m608.5 67h0m-384 108h0m346.5 297h0m-473.5 241.5h0m-161.5-598h0m555 194h0m123.5-173h0m-55 274.5h0m5.5-185h0m-19 229.5h0m-286-347.5h0m73.5 62h0m-102-110.5h0m553 196h0m23.5 32.5h0m-563-65.5h0m195.5 220h0m314-151.5h0m-225-219.5h0m-387.5 83h0m82.5-20.5h0m-196-183h0m552.5 110h0m-297.5-115h0m85 121.5h0m-272.5-210.5h0m126.5 254.5h0m173 217.5h0m238-155.5h0"/><path stroke="#7B2382" d="M899.5 255h0m-46.5 133.5h0m25.5-11h0m658.5 350.5h0m-670.5-444.5h0m699.5 426h0m-711.5-404.5h0m404.5 403.5h0m-72.5-341h0m199 195h0m-496.5-225h0m-248.5 39.5h0m652 358h0m-471.5-259.5h0m306 25.5h0m98 244h0m241.5-159h0m-648.5-83h0m421 40h0m-130 641h0m-159-937.5h0m-126.5 241.5h0m541 349.5h0m-487-494h0m87-74h0m-65.5-19h0m481 595h0m-70.5-449h0m-20 127h0m340.5 187.5h0m-570.5 419h0m472-613.5h0m-8.5 12h0m-247.5-95.5h0m148.5 373.5h0m30 95.5h0m-649-662.5h0m95 30h0m371 328h0m-551-148.5h0m192-187.5h0m-31.5 42h0m-61 151h0m423-81.5h0m270 476h0m-369.5-299h0m-167.5-286.5h0m725.5 337.5h0m-584.5-177h0m3.5-71h0m296.5 349.5h0m-502.5-372.5h0m237 471h0m505.5-167h0m3.5-24.5h0m-767.5-338.5h0m271.5 428h0m-28.5-136h0m236.5 77.5h0m-176 54.5h0m-171.5-161h0m93-192h0m100 501.5h0m272.5 71h0m-108-65.5h0m-219.5-97h0m-184-496h0m284 257.5h0m123.5 334h0m-525-344h0m402 171h0m-177-120h0m-445.5-106.5h0m271-207h0m664.5 471.5h0m-620-428.5h0m462.5 391h0m-434.5 425.5h0m340.5-608h0m-391.5-227h0m-155.5 15.5h0m349.5 901h0m-301.5-674.5h0m670 410h0m-215-446.5h0m37.5 277h0m-103 68.5h0m-19-406h0m-243.5-171.5h0m360.5 275h0m-194-178.5h0m144.5 437h0m411.5-81h0m-345 82.5h0m65-278h0m-254-67h0m506 204.5h0m-66 102h0m-429 41.5h0m-459-310.5h0m731.5 261.5h0m25.5-340.5h0m-162 374.5h0m178.5 33.5h0m-382.5-414.5h0m60 230h0m301.5 295h0m-183-514.5h0m-551.5 68h0m115.5-227.5h0m506.5 471h0m-715-317h0m856.5 500h0m-433.5-385.5h0m-139.5-279h0m395.5 538h0m-425.5-387.5h0m657.5 174.5h0m-644-226h0m538 368.5h0m-410.5-394h0m474.5 560h0m17-297h0m-539-295.5h0m678 437h0m-269-166.5h0m96 23.5h0m-35.5-147.5h0m-418.5 730.5h0m-90-872h0m-226.5 162.5h0m144.5-167h0m473.5 433.5h0m-424-297.5h0m183.5 181.5h0m228.5-83h0m-263.5 623h0m1-530.5h0m296-80h0m343.5 145.5h0m-471.5-67h0m66.5-17h0m-377.5-308h0m275.5 135.5h0m241 441.5h0m84-312.5h0m-333-156.5h0m-283.5-88h0m243 856.5h0m44-713h0m-42.5 777h0m-215-919.5h0m340.5 356.5h0m-152.5 547h0m-156-909h0m-318 132.5h0m540.5 264.5h0m288-69.5h0m-661.5-324.5h0m504 476h0m-523-500h0m-139.5 130h0m862 513h0m-74.5-163.5h0m-346 429.5h0m181.5-399h0m-388-502.5h0m845.5 409h0m-121-17h0m-280 132h0m-323.5 348h0m126.5-785.5h0m-3.5 0.5h0m385.5 136h0m-218.5 275h0m418.5-136.5h0m-296 130h0m-626.5-502.5h0m117 42.5h0m83-24h0m273 414.5h0m50 17h0m-113.5-368.5h0m310.5 578.5h0m-26-392h0m-592-270.5h0m436.5 532h0m-199.5-287.5h0m93-20.5h0m80.5-85h0m-11.5 119.5h0m219.5-7h0m-297 50h0m-514-152h0m155.5 108.5h0m435 282h0m-166-448.5h0m-252.5 48h0m-28-154.5h0m406.5 250.5h0m-234.5 651.5h0m-1.5 20h0m685.5-548.5h0m-877.5-168h0m417.5 333h0m-262.5 343.5h0m-29.5-843h0m132.5 78.5h0m321 427.5h0m-50-326.5h0m170.5 109.5h0m-878.5-174.5h0m189-157h0m464 555h0m95.5-190h0m317.5 27h0m-670.5 532.5h0m281-416h0m81-254h0m-129.5 71h0m-91.5-64.5h0m455.5 166.5h0m-1000-257.5h0m914 101.5h0m-232.5 110.5h0m-69 115.5h0m32.5-14h0m-379-417.5h0m470.5 200h0m193 233h0m-781-255.5h0m79.5-93.5h0m691 357.5h0m-370.5-84.5h0m-135-84h0m95.5-157.5h0m134 336.5h0m-180-410.5h0m68.5 453h0m63-383h0m122.5 156h0m-148 27.5h0m-360.5-300h0m279.5 847.5h0m273-579h0m-145.5 119.5h0m-600-242h0m726 282h0m-284-326.5h0m427 104.5h0m28.5 246.5h0m-290.5 30.5h0m11-383.5h0m-418.5-146.5h0m307.5 90.5h0m321 527.5h0m-601.5-472h0m424 189h0m-432.5-89.5h0m666-30h0m-743.5-198.5h0m697.5 624.5h0m-392.5 270.5h0m125.5-463.5h0m-103-86h0m140.5 101h0m-406-475.5h0m-212 151.5h0m481.5 809h0m537-539.5h0m-233.5 204h0m-54-279h0m-211.5 543.5h0m-338-691h0m65.5-99h0m300.5 173.5h0m125 0.5h0m-162-2.5h0m77.5-76.5h0m-407.5 25.5h0m679.5-45h0m-633-115.5h0m19-16.5h0m663 236.5h0m-19 235h0m-401.5-406h0m290.5 314.5h0m-566.5-335h0m501 293.5h0m164-70.5h0m-102 181.5h0m-107.5-103.5h0m-111.5-260h0m-91.5-10.5h0m-311.5 108h0m65.5-236.5h0m784.5 490h0m-804-222h0m155.5-235h0m122.5 163h0m-194-166.5h0m375 106h0m159.5 251h0m-376 555h0m244-661.5h0m-36 237h0m-188-154h0m-214.5-266h0m-9-97.5h0m475 306.5h0m61.5 155h0m-597.5-226h0m473.5-94.5h0m-428.5-104.5h0m276.5 326h0m204-129h0m18.5 153.5h0m-115.5 128h0m429-120.5h0m-827-345h0m630 529.5h0m-581.5-581h0m477 425h0m-545.5-367h0m-22.5 213h0m352-114h0m126.5 141.5h0m145.5 198.5h0m-313-208.5h0m-164.5-225h0m730.5 390h0m-272-13h0m-115.5-110h0m-236 40.5h0m23.5 522.5h0m100.5-750.5h0m520 286h0m-736-376h0m565.5 312.5h0m149.5 88.5h0m-362 19h0m-168.5-278.5h0m381 429h0m0.5-140.5h0m-419.5 512.5h0m540-587h0m-15.5 55.5h0m-807.5-237.5h0m666 460.5h0m54.5-426.5h0m-531.5-198.5h0m-12.5 801h0m-190.5-607h0m619.5 356.5h0m-598-544.5h0m-14 210.5h0m419.5 32.5h0m-541-115h0m198.5-200h0m463.5 342h0m-487-72h0m399.5 77h0m-350-236h0m183.5 8h0m468.5 370.5h0m-109-216h0m-799-113h0m283.5-97h0m113.5 236h0m55-96h0m252 252.5h0m-50-212.5h0m248.5 253.5h0m78.5-16h0m-563.5 490h0m-54.5-86.5h0m540-379h0m-390-321.5h0m194.5 289.5h0m-320 482h0m211.5-526h0m-351-413h0m139.5 357.5h0m199.5-246.5h0m-393.5-112.5h0m126.5 26h0m369 484.5h0m127.5-305h0m-345.5 769h0m-111.5-46.5h0m119.5-786h0m495.5 299.5h0m-113-198.5h0m-360.5-2.5h0m-197.5-216.5h0m-89.5 123h0m571 415.5h0m-485-547.5h0m286 104h0m-186.5 251h0m55-115.5h0m457.5 245.5h0m-899-250.5h0m606 307h0m-150.5-364.5h0m41.5 66h0m-131.5 33h0m-3 614h0m289.5-350.5h0m-202-392.5h0m45 424.5h0m-395.5-550.5h0m536 381h0m-31.5 128h0m-467.5-295h0m442-122h0m-20.5 124h0m281.5 102.5h0m-117.5 147h0m-54 111h0m-162-216h0m-26.5-6.5h0m-339.5-321h0m541 306.5h0m-350.5 510.5h0m-150.5-834.5h0m35.5-37.5h0m172 93h0m483.5 389.5h0m-470-165h0m109.5 37h0m-283.5-292.5h0m203.5 28.5h0m-206-33.5h0m504 370h0m63 241h0m-770-434.5h0m265-170h0m-77-35h0m421 282.5h0m-433.5-247h0m72-68h0m405.5 328h0m-251-236.5h0m486 363.5h0m-418.5 80.5h0m-306.5-484h0m610.5 234h0m-318 85.5h0m320.5-162.5h0m-362.5-44.5h0m-179-160.5h0m183 878h0m386.5-679h0m-197.5 66.5h0m175 395h0m-693.5-622h0m34.5-60h0m652 291.5h0m-142.5 279h0m-458.5-534.5h0m-246 124.5h0m372-140h0m704 429h0m-896.5-179h0m491-123.5h0m-40 170.5h0m245-81.5h0m-350-49h0m-324.5 30.5h0m856 147.5h0m-831.5-334h0m509.5 469h0m14.5 48h0m177.5-89.5h0m-383.5-61.5h0m355.5-35h0m-202-44h0m292.5 106h0m-456.5 185h0m-303.5-359.5h0m543 51h0m-329.5-26h0m-10.5 647.5h0m399.5-731.5h0m-336.5 139h0m424-49.5h0m-298 80.5h0m172.5-65.5h0m-606.5-265h0m34 17h0m594 610h0m114.5-155h0m115-88h0m-281.5-182h0m-246.5-56h0m-348-90h0m-174.5 87h0m608 140.5h0m17-100h0m319 272.5h0m-131-154.5h0m-190-150.5h0m9 129.5h0m48-160.5h0m193.5 181h0m73 104.5h0m-52.5 164.5h0m-261.5-316h0m-194.5-151.5h0m212 218h0m45.5 35h0m-35-122h0m-339-213.5h0m-93.5 182h0m330 60.5h0m25-132h0m516.5 267.5h0m-463-29h0m-155.5-280.5h0m-31.5 10.5h0m-26-64h0m446.5 558h0m-278-154.5h0m-68.5 504h0m497-503.5h0m-839.5-430.5h0m497 181h0m-104.5 51.5h0m-265-218h0m449 570.5h0m-551.5-607h0m188.5 866h0m-159-792h0m306 105.5h0m257.5 270h0m-142.5 135h0m396.5-200.5h0m-777.5-219h0m-86 75.5h0m406 82h0m42.5-41h0m-290-201.5h0m-341.5 88.5h0m880.5 69h0m-404.5-75h0m566.5 257h0m-176.5-114h0m-413.5 27h0m-438-141.5h0m647 43h0m-23.5-14h0m234.5 361.5h0m-196-88h0m-172-332.5h0m336.5 443.5h0m140-160h0m-739.5-196.5h0m367 320.5h0m165.5-269h0m-593-290.5h0m889.5 372.5h0"/><path stroke="#D04371" d="M1143.5 421h0m-77 692h0m284-549h0m-125-104.5h0m147.5 179h0m-142.5 169.5h0m203-205h0m99.5-93h0m-599-249.5h0m744 442.5h0m-240 106h0m-309.5-463.5h0m56 265h0m318.5-90.5h0m13 377.5h0m-727-454.5h0m439.5-99.5h0m109 485h0m-194-445h0m179.5 153h0m-204 635h0m159-695.5h0m-185.5-41h0m255.5 170h0m277.5 28h0m-248.5-117h0m333.5 123h0m-271-20.5h0m-56.5-35h0m302.5 28.5h0m-105 45.5h0m-109.5 173h0m-122.5-353.5h0m157.5 363.5h0m-514.5 296.5h0m475.5-563h0m-2.5 325h0m-105-341.5h0m318.5 26h0m-434.5-72.5h0m24.5 294.5h0m-8.5-271.5h0m-260 620.5h0m292-442.5h0m-191.5-290.5h0m157.5 102h0m313.5 197h0m-399-365h0m-1 34h0m-48.5 167h0m121.5 158h0m-79 79.5h0m-147 302h0m144-697.5h0m350.5 140.5h0m-233 180.5h0m-439-445h0m188.5 252.5h0m320.5 53.5h0m-91-195h0m-116 3.5h0m112.5 144.5h0m27.5-100.5h0m239.5 105h0m-509 568.5h0m258.5-316h0m279.5-80h0m-194 33h0m-602.5-468h0m296.5 265.5h0m262.5-90.5h0m-295 648h0m437-207.5h0m-89.5-428.5h0m-239.5 78.5h0m1-191.5h0m-71.5 252.5h0m-107.5-335.5h0m581 229h0m-446.5 633h0m100.5-372h0m-238.5-479h0m184 153.5h0m-30.5 765.5h0m265-738.5h0m79.5 380.5h0m-342.5 360.5h0m14.5-838h0m360 520h0m181.5-247h0m-178.5 187h0m-494-568h0m623 457h0m-369-205h0m26.5 248.5h0m-170-332.5h0m-133.5-101h0m526.5 535h0m-369 335h0m211-596.5h0m83 100h0m-53.5-229.5h0m-317 71h0m-247.5-271.5h0m584.5 485h0m-278.5 463h0m42.5-554h0m-85.5 514h0m242.5-644.5h0m-241 636.5h0m193-324.5h0m400.5-161h0m-227 4.5h0m-328.5 438.5h0m267-386.5h0m-198 11.5h0m-49 446h0m280.5-482h0m-62.5-264.5h0m368 235.5h0m-582.5-62h0m201-143.5h0m11 135h0m-309.5 520h0m342-583h0m-168.5 93.5h0m103 87.5h0m156.5 108.5h0m69.5-308h0m-710-38h0m345 308h0m-31.5-155.5h0m146.5-49h0m125 128h0m-179-376.5h0m97 190.5h0m221 149h0m-717-191.5h0m319 632h0m505.5-471h0m-514.5 0.5h0m179.5-94.5h0m77 4h0m-41.5-80h0m-161 86.5h0m351.5-42.5h0m-273-131.5h0m-223 720h0m243.5-625h0m54.5-19h0m-160.5 186.5h0m213.5 173h0m-121-213h0m-88-153h0m156 223.5h0m-341 466.5h0m509.5-682.5h0m-63 395h0m-622.5-351h0m133.5-267.5h0m445 574.5h0m-88-317h0m402.5 155h0m-498.5-314.5h0m89.5 438.5h0m-129.5-444.5h0m412.5 324.5h0m-435.5 159.5h0m203-331h0m-49.5 238h0m63-290h0m-57.5 113.5h0m-67 253.5h0m54.5-293.5h0m404 171.5h0m-426.5-282h0m158.5 442h0m-400 296.5h0m-222-869h0m446.5 311h0m200 242.5h0m-134.5-355h0m-181.5 330h0m174-417h0m338.5 213.5h0m-402.5 107.5h0m-445-247h0m367-24h0m156 344h0m-143-184h0m241.5 75h0m-92-130h0m-282 56h0m121.5-196.5h0m469.5 276h0m-263.5-156.5h0m-265.5 96h0m-420.5-144.5h0m-72-72.5h0m743.5 46h0m149.5 96h0m-593.5-268h0m566.5 633h0m-134-213h0m43.5-235.5h0m-333 672h0m54-3h0m-118.5 5h0m-62-790h0m354 416h0m-211.5 384.5h0m-5.5-767h0m-195-77h0m323.5 131h0m44-10.5h0m385 213.5h0m-730-340h0m521 564h0m-777.5-466h0m641.5 347h0m-444-412h0m498 188.5h0m-87 92.5h0m-311.5-312.5h0m706 386h0m-456-2.5h0m111.5-305h0m328 315.5h0m-253 79h0m-494-545h0m449.5 277h0m87 343.5h0m-272-265h0m354-122h0m-128 60.5h0m-152-148.5h0m-238 744.5h0m254.5-623.5h0m84 316.5h0m51.5-211h0m-12.5-149h0m-525.5-119.5h0m561.5 391h0m-33.5-243h0m-198-84.5h0m-93.5 52.5h0m57.5 18.5h0m233 258.5h0m7.5-58.5h0m-77.5 98.5h0m-67-362h0m-95.5 714.5h0m303-209h0m-118-295h0m-277 498.5h0"/><path stroke="#F6735C" d="M1205.5 562.5h0m-151-64.5h0m421 351h0m-324 265h0m517.5-468.5h0m-220.5 192.5h0m-305 277h0m357.5-683h0m-475 660.5h0m-143.5-712.5h0m151.5 203h0m165.5 12.5h0m-8.5 63h0m155 103h0m-78.5-238.5h0m-151.5-66h0m279 222.5h0m-427.5 423.5h0m350.5-488h0m162.5 285.5h0m-374.5 206h0m23.5-472.5h0m-6.5-32h0m38.5 138.5h0m-336-478.5h0m306.5 851.5h0m224-616.5h0m-55.5 120h0m-134 24h0m316 252.5h0m-130-189.5h0m338-75.5h0m-224.5 195h0m-132-202.5h0m162.5 196.5h0m-241-375h0m40.5 318.5h0m-151.5 360.5h0m175.5-607h0m-65 51.5h0m-225 524h0m266.5-607.5h0m-236 619.5h0m461-560.5h0m-716.5-305h0m233.5 884.5h0m73-755.5h0m197.5 232h0m-516-358h0m603.5 235h0m-295-131.5h0m-35 839h0m283-695.5h0m170-9h0m-226-104.5h0m-120.5 304.5h0m292.5 235h0m-86.5-54h0m-19-333.5h0m-350.5 632.5h0m160-419.5h0m305 79h0m-378.5 281h0m64.5-284h0m95.5-83.5h0m216 68h0"/><path stroke="#FDAF74" d="M1054 1177.5h0m379.5-302h0m-151.5-397h0m219 357.5h0m-393 300.5h0"/><path stroke="#000004" d="M1368 725.5h0m-149-363.5h0m191.5 339h0m-647-246.5h0m397-105.5h0m120.5 381.5h0m-144.5-206h0m60-80h0m293.5 38h0m-430.5 13h0m390 395.5h0m-355-423h0m43.5-24.5h0m-300.5-203h0m290 250.5h0m547.5 212h0m-354.5-217h0m-179-66h0m358.5 425.5h0m-190-420h0m-99 219h0m-83.5-7.5h0m-92.5-64h0m72-81h0m354.5 390.5h0m-101-340h0m33.5 227.5h0m-303.5-217.5h0m392.5 302h0m-15.5 6h0m-321-392.5h0m117.5 88h0m-491.5-113h0m523 5.5h0m-417-63.5h0m284 430h0m514.5-155.5h0m-543-20.5h0m-307-326h0m559 470.5h0m269.5-111.5h0m-213.5-120.5h0m31 1.5h0m-161 276h0m-415.5-461.5h0m-79-22.5h0m370 462h0m-336-499h0m506.5 543h0m-255.5-294.5h0m72.5-182.5h0m117.5-8h0m-448-64h0m343.5 99h0m50.5 364h0m212.5 87h0m-299-318.5h0m-19.5 46.5h0m-276.5-335h0m-192 223.5h0m640.5 255h0m-72-258.5h0m271 61.5h0m-431.5-107.5h0m17.5-7h0m340.5 93.5h0m-596.5-240h0m174 844.5h0m171-337h0m36.5-364h0m131.5 352.5h0m142.5-188.5h0m45-79.5h0m-442.5 146h0m74.5 99h0m538.5-100.5h0m-595.5-230.5h0m50 85h0m138.5-122.5h0m64 335h0m-1-116h0m84.5 40h0m-68 19h0m-528-180h0m437.5-101h0m144 527.5h0m-550.5-652h0m411.5 122h0m-151 830h0m90.5-807.5h0m-142-9h0m78 132h0m81.5-25.5h0m-159.5 77.5h0m352 39h0m-138-220.5h0m-91 224h0m177.5-99h0m-126 231h0m297.5-77.5h0m-270.5 134.5h0m-20.5-261.5h0m71 28h0m-535.5-131h0m764 240.5h0m-640-369.5h0m548.5 547.5h0m-699-410h0m389-104.5h0m451.5 295.5h0m-322-250.5h0m-537-35h0m311.5 47h0m-30.5 202h0m-159-292h0m258 210h0m301 111h0m-366.5-280.5h0m-201-110.5h0m425 137.5h0m-194 227h0m-474.5-200h0m723.5 37.5h0m-1.5 208h0m-455-322h0m227 27h0m376.5 240.5h0m-130.5-124.5h0m-92 343.5h0m-471.5-563.5h0m452 107.5h0m431.5 284h0m-211.5-123.5h0m-232 229.5h0m-405.5-260.5h0m100.5-205h0m380.5 330h0m-550.5-308.5h0m687.5 293h0m-188.5 9.5h0m-40.5-205.5h0m-195.5-99.5h0m-179 91.5h0m350.5 184.5h0m-379.5-252.5h0m570.5 141h0m-523.5-139h0m40.5-37.5h0m283.5 407h0m405.5-1.5h0m-914-298.5h0m531.5 394.5h0m-85.5-390.5h0m-22 100h0m-203-165h0m161.5 276h0m397-94h0m37.5 74.5h0m-292.5-136h0m-373.5-181h0m421.5 304h0m53-147h0m-364-135.5h0m-126 180.5h0m-70.5 10h0m630.5 218h0m-221-165.5h0m48.5 156.5h0m-297-350.5h0m-90.5 103.5h0m605.5 218h0m-321-294h0m171 34h0m-128.5 428h0m-267.5-439.5h0m270.5 249.5h0m147 97.5h0m72-63h0m58-160.5h0m-150 283h0m81-31h0m-431.5-517.5h0m447 526.5h0m-23-23.5h0m-0.5-84h0m145.5 168h0m-85-453.5h0m106 139.5h0m-360 245h0m-337-485h0m372 218h0m-102 40h0m-462.5-125.5h0m538 344h0m-38.5-265.5h0m310-36h0m-252 54h0m-370.5-69.5h0m531.5 303h0m-248.5-390.5h0m157 23.5h0m-405 6.5h0m844 294.5h0m-221.5-60h0m-403-26h0m51.5-242.5h0m-82.5 808.5h0m418.5-246h0m-615-601h0m623.5 244.5h0m-350-121.5h0m364 13.5h0m-511.5-120.5h0m545 558h0m167.5-294h0m-174.5-42h0m163 147h0m-213-136h0m-589-70h0m631 107.5h0m-666-233h0m487.5 85.5h0m152 10h0m-310.5 261h0m109.5 62h0m-451-334.5h0m385-8h0m447 215.5h0m-975.5-258.5h0m875.5 335h0m-574-478.5h0m346.5 269.5h0m-8 44h0m-462.5-270h0m10.5-12.5h0m391 534h0m-181 385.5h0m242.5-615h0m218.5 141.5h0m-248.5-63.5h0m-505.5-212h0m495-73h0m-311-71.5h0m393.5 542.5h0m30.5-158.5h0m81.5 124.5h0m-263 34.5h0m20.5-380h0m-421-167h0m566 391.5h0m-478.5-433.5h0m380.5 198.5h0m178-61h0m-209 408h0m-327.5-564.5h0m232 539h0m-282-272.5h0m74.5-211h0m288 64h0m-16 368h0m33-296.5h0m421.5 265.5h0m33.5-97h0m-597.5 524.5h0m288.5-487.5h0m-175.5-193h0m227 381.5h0m-170.5-35h0m423-187.5h0m-598-256.5h0m-24 144.5h0m57.5-19h0m208-37h0m-529.5-120h0m-3.5-75h0m549.5 264h0m135.5-70h0m-11.5 15.5h0m-21.5 177.5h0m-182.5 178h0m-114-400h0m104 29h0m-427.5 36.5h0m551.5 313h0m-167-227h0m1-33.5h0m-84-109h0m131-60h0m219 124h0m-492-236h0m297.5 281.5h0m110-57h0m-417 660.5h0m274-772h0m-374-63.5h0m576.5 159h0m-255.5 162.5h0m64-154.5h0m-423.5 34.5h0m627-82.5h0m-212-56.5h0m261 352.5h0m-211 135h0m-228.5-314.5h0m331-151h0m-245 183.5h0m489.5 117.5h0m-448.5-116.5h0m-347.5-245.5h0m360 233h0m188.5-62h0m-248.5 226.5h0m94 125h0m53-200.5h0m-40 85h0m-110.5-46h0m-248.5-412.5h0m-87.5-17h0m-18.5 195.5h0m498 98.5h0m380.5 62h0m-450 199.5h0m-389-513h0m655 173.5h0m-377.5-63h0m234 403.5h0m-448-496h0m432.5 420h0m-146-255h0m75.5 91.5h0m31.5-9h0m-375.5-212h0m715 302h0m-88.5 18h0m-398 39.5h0m127.5-10.5h0m52.5-242h0m-228 146h0m536 113.5h0m-821-198.5h0m66.5-117h0m416 325.5h0m-13 56h0m98.5-316.5h0m-83.5 49h0m-70.5 235.5h0m-80.5-98h0m166.5-235.5h0m-278 690h0m21.5-718.5h0m27 818h0m92.5-789h0m274.5 195h0m-143-187h0m-473.5-47.5h0m639 80h0m-421 135.5h0m550 101.5h0m-459 140h0m-294-446.5h0m183.5 176h0m-163.5-330.5h0m825.5 453.5h0m-36.5 12h0m-21.5-25h0m-228.5-89.5h0m-550.5-292.5h0m206.5 864.5h0m85.5-756.5h0m137.5 42.5h0m162 386.5h0m70-254.5h0m-322.5-94h0m317.5 247.5h0m-304.5-9.5h0m-287-353.5h0m-147.5-89h0m403.5 75h0m91.5 11.5h0m181.5 250.5h0m-203-256.5h0m-168.5 187h0m-42.5-7.5h0m203.5-111.5h0m256 477h0m-291-413h0m229 392.5h0m-249-512.5h0m-18 306h0m252-8h0m-28-163.5h0m-512-181h0m458 520.5h0m106.5-341h0m-597-172h0m613 499.5h0m-401.5 342h0m220.5-414.5h0m-151.5-117h0m-293.5-160.5h0m172 682.5h0m-402-769h0m487.5 45h0m398.5 35h0m-688-90.5h0m546.5 413.5h0m-554-551.5h0m703.5 259h0m-207 260.5h0m-142.5-196h0m-6-26h0m-277-282h0m550 328.5h0m-60-136.5h0m38 209.5h0m-128-176h0m-399.5-216.5h0m-22.5 139h0m5.5-159.5h0m329.5 201h0m239-28.5h0m-173.5-24.5h0m156 457h0m-508-562h0m140 294.5h0m195.5-120h0m-473.5-162h0m885.5 389.5h0m-456.5-311h0m253.5 172h0m-554-318h0m722 397h0m-237.5 54.5h0m-374.5 465.5h0m490-683h0m-467-128.5h0m427.5 173h0m4-63.5h0m-24 105h0m85-47h0m-67.5 89h0m-677-258h0m470 238.5h0m220 165.5h0m67.5-19.5h0m-248 61h0m352-65.5h0m-842.5-417h0m639.5 115h0m-172.5 245h0m-196-171.5h0m396.5 427.5h0m-6-64h0m-742-480h0m317 739h0m457-514.5h0m-138.5-109h0m-437.5-169h0m570.5 530.5h0m-44.5 47.5h0m-505.5-590.5h0m111.5 268h0m-13.5-216h0m441 468h0m-412 288.5h0m-219-647h0m128.5-193.5h0m562.5 281.5h0m-445-20h0m90.5-150h0m297 141h0m-242.5 10.5h0m68.5 107.5h0m-622.5-166.5h0m809 358h0m-189 7.5h0m2.5-103h0m-426.5-366.5h0m364 441h0m-188-251h0m247.5 6h0m-244.5-15h0m422 354h0m-628.5-430h0m52-195.5h0m-39-51h0m648.5 323h0m-19.5 368.5h0m-373.5-569.5h0m361 127h0m-791.5-49.5h0m653.5 86h0m70.5 74h0m-4.5 97h0m-32.5-221.5h0m-180.5 169h0m56-162.5h0m159-8.5h0m-159 120h0m-225.5-44.5h0m634 142.5h0m-536-345.5h0m287 171.5h0m-321 84.5h0m-287-111.5h0m441.5 35.5h0m-160.5 613h0m-171-841.5h0m234.5 171.5h0m261 190.5h0m-745.5-249.5h0m446.5 208h0m-254-289h0m43-90h0m623 296.5h0m20-5.5h0m-269 129h0m-55-197.5h0m333 283.5h0m-750.5-482.5h0m-10 27.5h0m696.5 154.5h0m-692-150.5h0m306 52h0m259.5 316h0m182.5-105.5h0m-206.5-9.5h0m-661-57h0m139 2.5h0m93-190h0m392.5 166h0m-498.5-218.5h0m493.5 308.5h0m359.5 150h0m-293-125h0m-33-163.5h0m166.5 143.5h0m-206 221.5h0"/><path stroke="#7B2382" d="M1079 612h0m-244-126.5h0m534.5 165.5h0m43.5 198.5h0m-724-427h0m743 122h0m-349-140.5h0m-228.5-32.5h0m249 267.5h0m212.5-111h0m-153 282.5h0m371.5-102h0m-438-363.5h0m138 215h0m70.5-188.5h0m-223.5 735h0m54-741.5h0m552 274.5h0m-1046-265h0m1059 243.5h0m-316.5-72h0m-670.5-88h0m555.5 32h0m-633.5-46.5h0m257.5-41.5h0m306 0h0m51 136h0m287.5 10h0m-302.5 191h0m133.5-33h0m35.5-199h0m-633-252h0m519 514h0m-71.5-350h0m-25.5 76.5h0m168 70.5h0m36 149h0m-504-326.5h0m438 430h0m-163.5-376.5h0m-256.5-195h0m259 85h0m168.5 142h0m-525.5-186.5h0m266.5 837.5h0m518-432h0m-715.5-330h0m659 159h0m-269 176h0m-397-426.5h0m301 346h0m-27.5 171h0m-285.5-435.5h0m580.5 40h0m-392 204h0m-18.5-20.5h0m72.5-115h0m300.5 103h0m-329 36.5h0m377-163h0m-664.5-169.5h0m394 340h0m329 109.5h0m-368.5-65h0m-523.5-274.5h0m211-137h0m-136.5 178h0m706.5 50h0m-185 154h0m-54.5-251h0m-215-117h0m189 387.5h0m-99.5-101.5h0m52.5-73.5h0m249-42h0m-177 22h0m485.5 260.5h0m-357.5-307.5h0m113.5 80h0m-245 102h0m-296-182h0m-51.5 25.5h0m590.5 395.5h0m-336 335.5h0m151.5-693h0m36.5 376.5h0m-426-552h0m245.5 295.5h0m-30.5 10.5h0m484.5-79.5h0m-251.5 38h0m8 43h0m-268-46.5h0m0 538.5h0m261-507h0m-420.5-326.5h0m660 308.5h0m-644-236.5h0m248 47.5h0m-69 742h0m395.5-715h0m-508.5-118.5h0m306.5 190h0m282.5-1h0m-361-136h0m535 329.5h0m-403.5-182.5h0m-246.5 18.5h0m219-59.5h0m354.5 174.5h0m-986.5-202h0m30 55h0m756 15h0m252.5 152.5h0m-845-381.5h0m225.5 883h0m-255-669h0m425.5 318.5h0m149-114.5h0m4.5-115.5h0m-80-81h0m-108.5-133h0m-57-6.5h0m-484 37.5h0m412 185h0m467.5-26.5h0m-41 5h0m-439.5 22.5h0m154.5 51h0m74-182.5h0m-443 50.5h0m507 107h0m-396-324h0m578.5 250.5h0m-188-54.5h0m-221 164h0m181.5-112h0m366.5 170h0m-882-195.5h0m265.5 635h0m210.5-374.5h0m336-99.5h0m-417-26h0m186-119.5h0m-276-134h0m395.5 497h0m-325.5-526.5h0m-7 492h0m155-326.5h0m-166.5-89.5h0m380.5 153h0m-66.5-111h0m-566-231h0m566 613h0m-75 13.5h0m-83.5-336h0m193.5-28.5h0m-242 268.5h0m-485-483h0m578 230.5h0m-508.5-158h0m442 403.5h0m-70.5-63h0m-325.5-326.5h0m175.5 159h0m614.5 97.5h0m-518 203.5h0m323.5 46h0m-369.5-346h0m434 40.5h0m-711-88.5h0m258 650.5h0m-234.5-625.5h0m529.5 227h0m-605.5-445.5h0m362.5 366h0m460 80.5h0m-450-64.5h0m-300-381.5h0m220 65h0m-151.5-96h0m-272.5 200h0m1044 260h0m-25-100.5h0m-788.5-234h0m821.5 247.5h0m-354.5 90h0m-266-176h0m225 264.5h0m-16.5-252.5h0m-39.5-1h0m-26.5 4h0m233.5-19.5h0m86.5 10h0m-403.5 604h0m-158.5-880.5h0m265 290.5h0m-362-328h0m-67 80h0m236.5 822h0m475.5-234.5h0m-369.5-65h0m142-92.5h0m-313.5-499.5h0m322.5 369.5h0m-501-163h0m318.5-51.5h0m170.5-24.5h0m-69.5 155h0m-22-67.5h0m81.5 22.5h0m-424.5-209h0m651.5 245h0m-733-211h0m106.5 97.5h0m267.5-1h0m375 340.5h0m-707-250h0m248.5 643h0m82.5 64h0m-351-892h0m341 274.5h0m-178.5-324h0m-17 34.5h0m-292 149.5h0m744 287.5h0m-37.5 41h0m-205-169.5h0m-7.5-195h0m-333.5-140h0m157.5-19h0m522 606.5h0m-376.5-502h0m73.5 56h0m142.5 163.5h0m-42.5-176h0m191 472h0m-600-477.5h0m362.5 306h0m62-245.5h0m-133 230h0m-19-96h0m-264.5-258h0m232.5 251.5h0m124.5 254.5h0m-30.5 17h0m131.5-319h0m-71 282h0m-295 307.5h0m287.5-509.5h0m-270.5-370h0m581.5 420h0m-255.5-31h0m-216.5-266.5h0m579.5 225.5h0m-808-76.5h0m304.5-94.5h0m-70 238h0m-311.5-357h0m466 445.5h0m-308-482h0m275.5 355h0m-382-360.5h0m206.5 335h0m-281-101.5h0m543.5-97h0m62.5 87h0m-22-20h0m-352 685.5h0m228.5-737h0m-181.5-39h0m61.5 246h0m-265.5-102h0m61.5-239h0m268.5 505h0m75.5-352.5h0m253.5 14h0m-619.5-173h0m160.5 849.5h0m425-498.5h0m-90.5-151h0m-125 25.5h0m46 94.5h0m201-71h0m-173 276.5h0m349.5-124.5h0m-631.5 486h0m-236.5-857h0m512 127.5h0m-360.5-84.5h0m-123.5-18.5h0m542 377h0m-297.5 476.5h0m589.5-520.5h0m-243.5 20.5h0m92 183.5h0m-628-527.5h0m169.5 211.5h0m20.5 77h0m288.5-51.5h0m-151-132h0m-141-89h0m150 376h0m-63 87.5h0m64-17h0m68-292h0m-215.5 122h0m316.5-114h0m-518-240.5h0m-6 146h0m-51.5-128.5h0m622.5 136.5h0m43-2.5h0m-389.5-77.5h0m400 558h0m-55.5-251h0m-111 124.5h0m-110-9.5h0m263.5-222h0m-341 249h0m-38.5-164.5h0m-426-216.5h0m828.5 440h0m-414.5-432h0m280.5 44.5h0m151.5 65.5h0m-458-175.5h0m244.5 403.5h0m-177-378h0m290 138h0m-522-239h0m470.5 573h0m124-298h0m3-100.5h0m-192 93.5h0m-80-64.5h0m-334-200h0m491 339h0m-393-370.5h0m270.5 580.5h0m210-296h0m-223.5 33.5h0m-38 238.5h0m194.5-234h0m-644-102h0m133.5-173.5h0m403 259h0m-429.5-141.5h0m216-70.5h0m-264.5-79h0m312.5 858.5h0m-305-653h0m742.5 239h0m-509-365.5h0m604 348h0m-198.5 226h0m-623.5-521.5h0m507.5 168h0m148-73h0m-311.5 292h0m-90.5 439.5h0m273-757h0m-34.5 35h0m-493-114h0m-78-82.5h0m674.5 269h0m-71-83h0m-176 67h0m-355-158.5h0m137.5 750h0m-86-910h0m-14.5 96h0m785.5 279h0m-0.5 18.5h0m-188.5 268.5h0m-158.5-274h0m198-88.5h0m-358 93h0m443.5 46.5h0m-79.5 169.5h0m-484 310h0m204-704.5h0m195-11.5h0m-82-1h0m-124.5 264.5h0m109-178h0m-209-128h0m-499-12h0m-12 2.5h0m577.5 456.5h0m-7-61.5h0m-348-500h0m679.5 174.5h0m-390 651.5h0m-260-880h0m659.5 302h0m51.5 168.5h0m-257.5-224h0m-444.5-215h0m398 202.5h0m-191-117h0m122.5 1.5h0m-152.5 193h0m310.5 158.5h0m-86-292.5h0m15 143.5h0m-51 238.5h0m128-121h0m-731.5-223h0m596.5-43h0m-376 103.5h0m776 212h0m-752-383h0m417.5 133h0m-344.5-216h0m740.5 418h0m-410.5 115.5h0m164-315.5h0m-353-120.5h0m60 404h0m376-232.5h0m-475.5 73h0m273 50.5h0m-12 109.5h0m-50 66h0m433-144h0m-863.5-192h0m387-83h0m179.5 190.5h0m-440.5-342h0m260.5 479.5h0m93-227.5h0m-701-95.5h0m688.5-5.5h0m109.5 337.5h0m-15-139h0m-32-57.5h0m-293.5 47.5h0m406-156.5h0m-206.5 390.5h0m-159-174.5h0m272-132.5h0m137 4.5h0m-56.5 323.5h0m-302.5-425h0m-536.5 19.5h0m699 26h0m-322.5 636h0m450-252h0m-570.5-434.5h0m419.5 29.5h0m-203.5-23h0m217 296h0m270 20.5h0m-487.5 446h0m116.5-740h0m148 126h0m-256-7h0m420.5 18h0m-454-23h0m231 36.5h0m-117-79.5h0m98 283.5h0m-438.5-555.5h0m26 272h0m573-2.5h0m-269 57h0m290 304.5h0m-524.5-536.5h0m767 322h0m-900.5-363.5h0m445 473.5h0m-578-291.5h0m604.5 305.5h0m-182.5-162.5h0m373-62.5h0m-180.5-5h0m181 331.5h0m-599-658.5h0m-261 173h0m260-78.5h0m430.5 204h0m325 156h0m-313-141h0m-43.5 275.5h0m88.5-177.5h0m118.5 189h0m223-153h0m-614.5-232h0m-242 73.5h0m500 89h0m-414.5-319h0m497 355h0m-119-252.5h0m-451-148.5h0m364 414.5h0m-78.5-158h0m-18.5-85h0m-311 46.5h0m513.5 95.5h0m320 69h0m-819.5-331h0m594 115.5h0m-793.5 34h0m931.5 282h0m-352-358h0m25 239.5h0m-44 213.5h0m-119-236h0m177 209h0m31.5-150h0m255-131.5h0m-488 4.5h0m610 127h0m-681-305h0m-70-48h0m363 441h0m-26.5 30h0m63-51h0m-328-375.5h0m468.5 562.5h0m-627.5-434h0m263.5 8h0m441 42.5h0m-58.5-34h0m-136-43.5h0m191.5 419h0m-636.5-501h0m363 50.5h0m-136 809h0m238-515.5h0m-109.5-237.5h0m16.5 56h0m-445.5-10h0m527.5 102.5h0m-388-347h0m562 214.5h0m-508.5 678h0m346-714.5h0m6 216.5h0m25.5-71h0m-97.5 182h0m-427.5-464h0m629 543.5h0m151-147.5h0m-566.5-179h0m-442.5-66.5h0m175.5-148.5h0m176-4h0"/><path stroke="#D04371" d="M1383 551h0m-111.5-167h0m-239.5 764.5h0m-399.5-712.5h0m495 670.5h0m555-526h0m3.5 94h0m-570 508h0m393-738.5h0m-241.5 130.5h0m204.5-113.5h0m-256 125.5h0m123 102h0m-129-340.5h0m316 160h0m-169-18.5h0m-219 148h0m23.5-19.5h0m122.5-69.5h0m433.5 114.5h0m-1101-275h0m528.5 247.5h0m-28-32h0m474.5 77h0m-445.5-238h0m187.5-32h0m-5.5 70h0m-45.5 130h0m-457.5-142.5h0m461 98.5h0m156.5 230h0m-20-314.5h0m-325.5 105.5h0m64.5 28.5h0m-36.5 506h0m135.5-652.5h0m244 266h0m-434.5-204h0m342.5 317h0m-102-417.5h0m198.5 131.5h0m-413.5 79.5h0m137.5-91h0m5 134.5h0m283-125.5h0m9.5-3.5h0m-185 27h0m282 35.5h0m-326 211.5h0m-215.5-418h0m112 416h0m56.5-374h0m-380-161h0m280.5 375.5h0m46-252h0m367.5 311.5h0m-465.5-330.5h0m288.5 172h0m223 142h0m-304.5-171.5h0m294 192.5h0m59.5-99.5h0m-349.5 113h0m-83-136h0m-245 510.5h0m-3.5-880h0m125 981h0m-438-749h0m787 319.5h0m253.5-138h0m-638-54.5h0m-57 546.5h0m379-315h0m-111.5-335h0m-126.5-157.5h0m273 349.5h0m152.5 15h0m-458.5 415.5h0m297-414.5h0m46 154h0m-102.5-346.5h0m-49 229.5h0m-13.5-296h0m231.5 105.5h0m-437-213h0m63 44h0m87 127h0m-173.5 95h0m596.5 11.5h0m-143-51.5h0m-227-151h0m140 443.5h0m264-178.5h0m-312-114h0m-9-83h0m-141.5 54.5h0m457 56.5h0m-508 104.5h0m-353-226.5h0m297.5 116.5h0m536 62h0m-471 20.5h0m29.5 147h0m458.5-113.5h0m-544-170h0m217.5 13h0m54.5 269h0m-153.5-237h0m-8.5-135h0m-195 725h0m277-369.5h0m-317.5 338h0m686-473h0m-170-145h0m-482.5 660.5h0m37-574h0m121-49h0m101 261h0m347-221.5h0m-424-138.5h0m135 108.5h0m57 240h0m-453.5 298h0m488.5-261h0m-205-124.5h0m51-91.5h0m1.5-138h0m-188.5 710h0m138.5-667.5h0m-227 577h0m-205.5-602.5h0m657.5 372h0m-125.5-160h0m82 121.5h0m-216.5-360.5h0m399.5 201h0m-281-262.5h0m-128 284h0m-569-319h0m844.5 488.5h0m-246-327.5h0m42.5 9.5h0m34.5 37h0m-66-229.5h0m81 195h0m-386-322h0m272.5 579.5h0m418-110.5h0m-362.5 35h0m-158.5 406.5h0m0 35.5h0m-277.5-691.5h0m275 735h0m149-663h0m223 299h0m-110-372h0m-50 121h0m24.5 31.5h0m4.5 50.5h0m-31.5-13h0m-121-24.5h0m-23-297.5h0m-28.5 55.5h0m107.5 183h0m-21-54.5h0m-366-300.5h0m315.5 125h0m-209.5 768.5h0m328.5-620.5h0m222.5-39.5h0m-227.5 262.5h0m-119.5 43h0m-104-231h0m197.5-1h0m386.5 84.5h0m-329.5-183.5h0m-83 101.5h0m5.5-96h0m-25.5 276.5h0m-203.5 424h0m165-583h0m-578-188.5h0m864.5 504.5h0m-441.5-317.5h0m656.5 129h0m-444-256h0m202 145h0m-629.5-73.5h0m504-10.5h0m-74-32h0m-384.5-73h0m443 22.5h0m3.5-35h0m-153 423h0m35-212.5h0m-221.5 522.5h0m79-589.5h0m80 594.5h0m-121.5-32h0m99-529h0m-466-120.5h0m673.5 127.5h0m-498.5-73h0m868.5 101.5h0m-519-6.5h0m134.5-64.5h0m-137-21h0m-275.5-201.5h0m591 513.5h0m-550-517h0m308.5 449.5h0m-243 409h0m83 42h0m173-777h0m72.5 77.5h0m-160 292.5h0m180.5-319.5h0m-176 171.5h0m153.5-126h0m-70.5-19.5h0m-471-46h0m488.5 117.5h0m223 240.5h0m-249-319h0m-173.5-61h0m298.5 41.5h0m-105 264.5h0m-132-379h0m321 449.5h0m-371 363h0m153-690.5h0m298.5 22.5h0m-70 301h0m-83-232h0m-82 17h0m-296.5 554.5h0m75.5 2.5h0m-95.5-11.5h0m597.5-459h0m-98 228h0m-386 224h0m152.5-689.5h0m422.5 173.5h0m-425.5-129.5h0m-139.5 632.5h0m-88.5-565h0m199.5 275h0m272-301.5h0m-503.5-259.5h0m364.5 229h0m-290 602.5h0m149.5-540h0m40.5 20.5h0m-365.5-302.5h0m-7 124.5h0m-29-34h0m400 109h0m417.5 228h0m-433.5-283h0m-593.5 32h0m560.5-14h0m124.5 261.5h0m-47.5-130h0m-612-93.5h0m436.5-134h0m21.5 827.5h0m-272-773h0m504.5 58h0m-117 96.5h0m-48.5-173h0m80.5 120.5h0m232 91.5h0m112 91.5h0m-390.5-328h0m-123 6h0m-105 749.5h0m699-511.5h0m-9 42.5h0"/><path stroke="#F6735C" d="M1303 637.5h0m-228.5 546h0m358-303.5h0m-293-228.5h0m65.5-254h0m-170.5 727h0m140-376.5h0m60.5-43.5h0m-48.5-356h0m-124.5 770h0m399-303.5h0m-137-328.5h0m-140-80h0m-82.5 19h0m-258.5-171h0m146.5 882.5h0m417-292.5h0m2.5-138.5h0m-55-164h0m-302 617.5h0m164.5-614h0m259-91h0m-64 363.5h0m-404 283h0m30.5 51h0m262.5-354h0m181.5 40h0m-122-152.5h0m-211 126.5h0m-24.5 371h0m183-422.5h0m-59.5-340h0m-52.5 373.5h0m249.5-237h0m-167.5 56.5h0m-76.5 131.5h0m269 114h0m81-127h0m-473 466.5h0m52-662.5h0m305.5 321h0m-608.5-550h0m418.5 500.5h0m182-117.5h0m-26.5-145.5h0m-52-38.5h0m-216 663.5h0m42-356.5h0m322-233.5h0m-454.5 517.5h0m452.5-646.5h0m-444 680.5h0m-235-842.5h0m536.5 308h0m-430-309.5h0m596.5 570.5h0"/><path stroke="#FDAF74" d="M1429 847.5h0m-283.5-213.5h0m-107.5 513h0m616-474.5h0m-565.5 530.5h0m27.5-74.5h0m-6-726.5h0m139.5 324h0m228.5 98h0m-138.5-189h0m-234.5-285.5h0m321.5 458.5h0m-315.5 382.5h0m30-845.5h0m324.5 526.5h0m-414.5 264h0m406-312.5h0m30.5 20h0"/><path stroke="#000004" d="M810 363h0m424.5 236h0m-63.5-207.5h0m-363 113.5h0m388-61.5h0m435.5 241.5h0m-144-109.5h0m-857.5-147h0m1036 215.5h0m-770-361.5h0m-60.5-35h0m407 154h0m87.5 199.5h0m-541.5-296.5h0m-118 158.5h0m600 258.5h0m-197-358.5h0m320.5 464h0m-259.5-196.5h0m9-75.5h0m-292-329.5h0m81.5 69.5h0m-110.5 193h0m356.5 337h0m237-269.5h0m-65.5-1h0m-370 537h0m655.5-450.5h0m-547-239h0m-173-176h0m597.5 650h0m17.5-364h0m-653-285.5h0m368 606.5h0m-278.5-592.5h0m283.5 168h0m206 192.5h0m-346-8h0m305.5-8.5h0m104-52h0m-245 233.5h0m-439.5-453.5h0m874 371.5h0m-178-130.5h0m-22.5 289.5h0m-193.5-401h0m145.5 165h0m-6.5-105.5h0m-245.5 122.5h0m73.5-164.5h0m-363.5-209.5h0m218.5 924h0m133-608.5h0m-279.5 534.5h0m589-378h0m-434-269h0m545 149.5h0m-667.5-73h0m514-10.5h0m130.5 98h0m-813-230h0m328.5 321.5h0m86-312h0m6 366.5h0m-25.5-414.5h0m-596 24h0m226-56.5h0m815 269h0m-987-126.5h0m599.5 253.5h0m-53-245h0m-116 188.5h0m508.5-38.5h0m-439.5 55.5h0m-311-433h0m484.5 512.5h0m-237-170.5h0m83 32.5h0m-154-127.5h0m-257-222.5h0m703.5 423.5h0m-634.5-301h0m357 267h0m-349-344h0m361.5 151.5h0m-406-190h0m104.5 25.5h0m276.5 354h0m137 100.5h0m-520.5-525h0m344 421.5h0m-291-328.5h0m533.5 572.5h0m-518-612.5h0m-92.5 206.5h0m75.5-266h0m236 199.5h0m190.5 229.5h0m-447.5-258.5h0m527.5 72h0m-315.5-84h0m216.5 435h0m-60-54.5h0m165.5-46h0m90.5-218h0m-158.5 4h0m27 116h0m-128.5 194.5h0m46-195.5h0m-145 51.5h0m334-105.5h0m-327.5 272h0m-354-342.5h0m446-128h0m-336-64.5h0m418 174h0m-400.5-216h0m32.5 10.5h0m699 330.5h0m36.5 50h0m-368.5 86.5h0m-710-345h0m738 188h0m-2-24h0m-562.5-274h0m33.5-43h0m868 438.5h0m-469 7.5h0m173-63h0m-185.5-265h0m-83.5 161h0m-320-222h0m602 275h0m-231-114h0m210 404.5h0m-506-440h0m-257.5-10h0m430 140.5h0m194.5 22h0m417 97h0m-331-163h0m-489.5-44h0m747 277.5h0m-133 113h0m-74-16.5h0m-29-48h0m-6.5-271h0m-390.5-173.5h0m482 560.5h0m113.5-193h0m-351.5-119.5h0m-569.5-150.5h0m555 142.5h0m-23.5 180h0m146-84h0m20-244h0m-152.5 204h0m282 225h0m-147-284.5h0m-141-131h0m156.5 165.5h0m-553-142.5h0m306.5 655.5h0m128.5-652h0m-137.5 25h0m103-107h0m32 120.5h0m-90 83.5h0m572.5 101h0m-530-114h0m540 21.5h0m-396-35h0m-139.5-236.5h0m31 476h0m-117.5 343.5h0m382.5-552.5h0m-47.5-79h0m-286.5 112h0m336.5-27.5h0m-351 564h0m390.5-724.5h0m-332 264.5h0m84.5-362h0m112 319.5h0m-139.5-81.5h0m-30.5-123.5h0m239.5 412.5h0m-9-152.5h0m-373.5 418h0m-138-899h0m798 423h0m-487.5 133.5h0m-93-220h0m177-124h0m-178.5 190h0m383 180.5h0m-202.5-49.5h0m139.5-115.5h0m7.5 209.5h0m-369.5-367.5h0m380.5 337h0m11-303h0m-567-303h0m-297 164h0m550 62h0m3.5-75h0m321.5 450h0m-354.5-323.5h0m157 323.5h0m-655.5-386h0m546 169.5h0m147.5-212h0m179.5 46.5h0m-175.5 143.5h0m-440.5-252h0m349.5 11.5h0m137 171h0m308 156.5h0m-555-169.5h0m141 268h0m-398.5-453h0m437.5 251h0m-92-232.5h0m173.5 356h0m-149-350h0m-428 168h0m539.5-12.5h0m-37.5-47.5h0m-121.5 80.5h0m-282.5-237.5h0m-230.5 182.5h0m372 16.5h0m421 51.5h0m-556-247.5h0m-104-71.5h0m550 519h0m316-165h0m-178.5-146.5h0m-194 331.5h0m68.5-220h0m-44 282h0m-57-325h0m201 31h0m-423 30h0m629.5 80.5h0m-180-119h0m-446.5 614.5h0m257-434h0m117.5-307h0m-576.5-105.5h0m793 373h0m-798-416h0m397 361h0m136 70h0m-51-108.5h0m-102 130.5h0m-298.5-410.5h0m-2.5-32.5h0m257 363.5h0m505-18.5h0m-99.5 99.5h0m-287.5-283.5h0m-366-142.5h0m430 417h0m-8 8.5h0m27 74h0m301.5-180h0m-616.5-232h0m2.5 209h0m555.5 54h0m-773.5-348h0m385 192.5h0m-391.5-139.5h0m537 440.5h0m-201.5-352.5h0m-6.5 195h0m460.5 79.5h0m-789.5-395h0m609.5 601h0m211.5-221h0m-310-142.5h0m-453.5-269.5h0m402.5 229.5h0m-76.5-10h0m-32.5 344h0m285-423h0m-236 330h0m-28.5-43.5h0m174.5-49h0m-147.5 77h0m-183-156.5h0m399-153.5h0m-615-169h0m312.5 319h0m-383.5-119h0m-83.5-27.5h0m582.5 166h0m106.5-49h0m-62.5-47.5h0m-60.5-38h0m71 64.5h0m-372-191h0m355.5 93h0m-156.5 258h0m-76-171h0m-308-172.5h0m-5-36.5h0m148.5-46.5h0m397.5 316.5h0m207.5 17.5h0m-99.5 2h0m-524.5-309.5h0m385.5 347h0m-209.5-164.5h0m-4-45.5h0m475 325.5h0m-355.5-161h0m142.5-74h0m-75 251h0m284-224.5h0m111 159.5h0m-830.5-376.5h0m40.5-22.5h0m796.5 352h0m-988-176.5h0m565 214h0m216.5-80.5h0m-24-202h0m-178-33.5h0m-219.5 785.5h0m306.5-626h0m-123.5 285.5h0m-15-240h0m-137-196.5h0m232 345h0m7.5 59h0m-165.5-124.5h0m-287-349h0m860 377h0m-400.5-61h0m-379-333.5h0m140.5 846.5h0m350.5-483.5h0m-349.5-242.5h0m316.5 359h0m125-249.5h0m-588.5-226h0m590.5 274h0m-676-65.5h0m122 610.5h0m471-716h0m-300.5 233.5h0m257.5 122h0m73.5 98h0m-304-202.5h0m465-38h0m-778-230.5h0m557.5 78.5h0m70.5 460h0m-253-460h0m-350-225.5h0m609 262h0m-57.5 374.5h0m-197-160h0m-150.5-313.5h0m18.5-24h0m306 81h0m-162.5 136.5h0m-65.5-6h0m242.5-110.5h0m-524.5-118h0m340 369h0m-134.5-157h0m-47-0.5h0m-155-336h0m581.5 350h0m-73-26.5h0m94-91.5h0m-137 72h0m-501-261.5h0m519.5 174.5h0m-185-46.5h0m196.5 444.5h0m53-410.5h0m200 276.5h0m-398 81h0m-65.5-262.5h0m-541-76h0m1059.5 139h0m-120.5 134.5h0m-464-280h0m232 301h0m-524-406h0m472.5 100.5h0m189.5 157.5h0m-801.5-175h0m272.5-107.5h0m387 311.5h0m82.5 97h0m-2.5-188.5h0m-83 114.5h0m236 60.5h0m-774-205.5h0m772.5 159h0m-668-324.5h0m254 21.5h0m-242.5-133.5h0m539.5 660.5h0m-4.5-398.5h0m-3.5-101.5h0m-380 167h0m-12.5-51h0m399.5 391h0m-252-182h0m-424.5-407.5h0m627.5 261.5h0m-442.5-232.5h0m689.5 337h0m-421.5 84.5h0m-422-316h0m51-35h0m-235-11h0m501.5 778h0m382-309h0m-395.5-426h0m194.5 63.5h0m-129 32h0m-376.5-232.5h0m296.5 336h0m137-259h0m-67.5-30.5h0m-290-90h0m187 870h0m-185-755h0m369.5-19.5h0m230 534.5h0m-60.5-183h0m-93-3h0m-520.5-406h0m608.5 276.5h0m-162.5-138.5h0m239.5 491.5h0m-358-340.5h0m223.5 203.5h0m-150-441h0m473.5 317.5h0m-33.5-52h0m-368.5-256h0m-3.5 11.5h0m12.5 19.5h0m82 83.5h0m-254.5-135h0m233 462.5h0m-297 307.5h0m-128-840.5h0m574 301.5h0m-680.5-70.5h0m343.5 278.5h0m36 72.5h0m208-382.5h0m19 419.5h0m-10.5-500h0m-316 182.5h0m11-196.5h0m150 440h0m-332.5-578.5h0m272.5 221h0m244.5 140h0m-574.5-186h0m505 156.5h0m-64-119.5h0m4.5 256h0m224.5-142.5h0m-299.5-161.5h0m67 200h0m147.5 265h0m-134-376h0m78.5 275.5h0m278.5-98h0m-488.5-321h0m-232-37.5h0m-17-5.5h0m511.5 116h0m-268.5 255.5h0m-44.5-219.5h0m60.5-90h0m-342 35h0m582 260h0m-215.5 165.5h0m-89.5-175.5h0m238-32.5h0m19.5-26h0m-178-68.5h0m-23.5-42h0m-275-196.5h0m304.5 501.5h0m-384-289h0m25.5-119h0m251-24.5h0m9 775.5h0m192.5-707.5h0m-526-155.5h0m179 17h0m276 68.5h0m-97.5 228.5h0m64 49.5h0m-68.5-14h0m-35 558h0m174-612.5h0m-208-66.5h0m428.5 231h0m-385-358h0m209.5 266.5h0m-400.5-348h0m-36.5 111h0m631.5 131h0m-653-297h0m206.5 168.5h0m255 103h0m-513.5-196.5h0m273.5 278h0m-36 600h0m462-335.5h0m-459.5 295h0m401-663.5h0m-124 15h0m-131.5-60.5h0m-517 43h0m169.5-221h0m668 437.5h0m-297.5-3.5h0m-65.5 419h0m485-404h0m-717.5-453h0m405 426h0m-141 142.5h0m-344-580h0m367 138h0m-48.5 332.5h0m5-207h0m331 82h0m-262.5-159.5h0m159.5 320.5h0m265.5-67.5h0m-205.5 182h0m-183.5-331h0m226.5 373h0m-108-139h0m-194.5-350.5h0m-347.5 84h0m534 249h0m-146-321.5h0m434 261.5h0m-155.5 142h0m-370-237h0m-103.5-13.5h0m190.5 54.5h0m-326-403.5h0m789 472.5h0m-350-249h0m-665.5-73.5h0m533.5 465.5h0m-35.5-233h0m315.5-182h0m-657.5 90h0m289-63.5h0m324.5-43.5h0m-275 48h0m190 97h0m-131.5-210.5h0m-155.5 54.5h0m602.5 217.5h0m-679-373h0m-76 28.5h0m530 266h0m-233.5 78h0m-146-257.5h0m334 317.5h0m-474-402h0m399.5 250h0m362.5 116.5h0m-595-243h0m349.5 113.5h0m-47.5 329.5h0m-110.5-302.5h0m244 10.5h0m-28.5-64h0m-383-130h0m-204-131.5h0m379 563.5h0m-619.5-410h0"/><path stroke="#7B2382" d="M701 433.5h0m558.5 372.5h0m49.5-231.5h0m294.5 109h0m-714.5-385.5h0m594 278.5h0m-38 318.5h0m-539-607.5h0m441 551.5h0m-35.5-10h0m-680.5-423.5h0m735.5 299.5h0m-562-439.5h0m390 327h0m219 72h0m-325.5 532h0m264-740h0m-469-79.5h0m-108.5 91.5h0m300.5 77h0m-266-305.5h0m431 259.5h0m341.5 217.5h0m-315 89.5h0m49-119.5h0m-73.5-305.5h0m438.5 274.5h0m-562.5-194.5h0m58.5 301.5h0m31-49h0m-88.5-206.5h0m182-112h0m-464 85h0m620.5 406.5h0m-386-507.5h0m-258 50h0m55.5-43.5h0m-41.5-84.5h0m575 258h0m-44.5 99h0m156.5-144.5h0m-260.5-66h0m113.5 22h0m105.5-52h0m-657-152h0m251 288h0m-279.5-98h0m254 673h0m-423.5-738h0m686 349.5h0m-234-327h0m-224.5-175h0m423 321.5h0m-188.5 539h0m82-627.5h0m68 308h0m-566.5-413.5h0m505 272h0m117.5 63.5h0m171 189.5h0m199.5-224.5h0m-432.5-30.5h0m-101-260h0m-267-110.5h0m244.5 110h0m32.5 65.5h0m-361.5-166h0m801.5 384.5h0m-343-205.5h0m-298-183.5h0m142 315.5h0m-84 540.5h0m417.5-470.5h0m44.5 238h0m243.5-296.5h0m-820.5-326h0m367 422h0m-425.5-454h0m-36.5 201.5h0m179-189h0m210.5 224h0m-90-99h0m-290.5 73.5h0m65.5-132h0m447.5 98h0m330.5 181h0m-257 95.5h0m300-108.5h0m-836-350.5h0m559 606h0m272.5-152h0m-445-342.5h0m264.5 222h0m-627-186h0m616 162h0m-415.5 575.5h0m174-564.5h0m191 276.5h0m-22-169h0m113.5-145.5h0m-332-149.5h0m-68.5-15.5h0m212.5 113.5h0m-148 127.5h0m294.5-151.5h0m-509.5-125h0m574.5 190.5h0m-581.5-185h0m405 143.5h0m163.5 81.5h0m-205-11h0m-229.5-186h0m-475.5 94h0m799 375.5h0m181-128.5h0m-646.5-449.5h0m564 488.5h0m-188 86.5h0m49.5 33h0m9-143h0m-120.5 4.5h0m200 137h0m-525.5-554.5h0m431 288h0m297 67h0m-526-263h0m29 425.5h0m186.5-216h0m-244.5-165h0m123-76.5h0m-554 24h0m283-104.5h0m285 506.5h0m392-66h0m-743-405.5h0m407.5 416.5h0m-138-349.5h0m98.5 153h0m-413.5-16h0m-32.5-235.5h0m222 300.5h0m11.5 519.5h0m-271.5-654h0m341.5 706.5h0m309.5-552.5h0m-219-84.5h0m-122-98.5h0m-117.5 704h0m389.5-631.5h0m-587.5-14h0m671-32h0m-118 27.5h0m-396-222.5h0m234.5 331h0m138 78.5h0m-170.5-136.5h0m-28 27h0m404.5 317h0m-299.5-26h0m-121-288.5h0m-469.5-149.5h0m630-19.5h0m-21 100.5h0m49.5 31.5h0m16 246.5h0m-18.5-306.5h0m-113.5 176h0m50.5-271h0m119.5 107h0m-71.5 267.5h0m-12 18h0m-161-373h0m147.5 147h0m42 274.5h0m-222.5 380.5h0m593.5-557h0m-262-55h0m127-5.5h0m-397 623h0m14.5-583.5h0m173.5 24h0m-58 163h0m167.5-215h0m-155.5 224.5h0m114.5-2.5h0m-189.5-305.5h0m-304.5-164h0m456 273.5h0m-526-150.5h0m257 38h0m-261.5-168h0m103.5-30.5h0m-63.5 63.5h0m442 187h0m57.5 147h0m234-13h0m-432.5 109h0m404.5-58.5h0m31 6.5h0m-484.5 467h0m202.5-628.5h0m-41.5-5h0m-279.5-312h0m506.5 197.5h0m-645.5-214h0m336 538.5h0m79-244h0m-442.5-61.5h0m417.5-36.5h0m410 229.5h0m-259.5-99h0m-151.5-87.5h0m239.5 371h0m-618-568h0m454 514.5h0m-507-316h0m52-99h0m203 229h0m-241-85h0m171.5 627h0m368-584.5h0m-144 132.5h0m204 116.5h0m-224.5-209h0m-127.5-49.5h0m613 104h0m-454-201.5h0m-200 638.5h0m334-424.5h0m-234.5 514.5h0m-81.5-635h0m135.5 161.5h0m-41 412h0m27.5-708.5h0m-255.5-176.5h0m259 521.5h0m495-146.5h0m-75 69h0m-282-221h0m-245.5 635.5h0m555.5-442.5h0m-160 187h0m258-185.5h0m-193-142.5h0m-357.5 44.5h0m234.5 34.5h0m142.5-36h0m-232-176.5h0m-98.5 369h0m302-165.5h0m159.5 115h0m-558.5-360h0m-94 792h0m-152.5-843.5h0m309.5 390.5h0m367-148.5h0m-601.5-243.5h0m761.5 366.5h0m-353-39h0m-412-317.5h0m275 536h0m-78 298h0m22.5-600h0m-330-294.5h0m253 903.5h0m-16.5 16.5h0m522-414h0m-200.5-242.5h0m48 365h0m46.5-305h0m0.5 326h0m191.5-222h0m-405.5-147h0m199.5-82h0m-189.5 18.5h0m99 239.5h0m-709.5-314h0m603.5 448h0m114-365.5h0m88.5 126h0m-641.5-299.5h0m509 200.5h0m185.5 252.5h0m-701.5-468h0m-5-12h0m-173 198.5h0m712 238h0m286-79h0m-872-347h0m764.5 440h0m-404-306.5h0m-67 720h0m-431-708h0m453.5-69.5h0m161.5 67.5h0m-114.5 699.5h0m73.5-624h0m172.5 88h0m-90.5-47.5h0m-176.5-189h0m537 368h0m-295-50.5h0m-175.5-42.5h0m-81.5-273h0m203.5 59.5h0m400 275h0m-508-111h0m94-112.5h0m-324.5-155.5h0m405 211h0m-190-95h0m-19-11.5h0m337 25h0m-450 752.5h0m-157-876h0m245.5 109.5h0m379.5 116h0m-897-124.5h0m839 133h0m-295 142.5h0m-315.5-369h0m266 97h0m-258.5-14.5h0m279.5 123.5h0m-224-235h0m65.5-2h0m361.5 254h0m77 194.5h0m82.5-196h0m-402.5-18.5h0m381.5 362h0m-340.5-527.5h0m446.5 370h0m-912.5-252h0m817.5 137h0m-285.5 43.5h0m184.5-108h0m102 298.5h0m-520.5-588h0m390 243.5h0m109 102h0m115.5 141.5h0m-10.5-41.5h0m-117-300.5h0m-378-48.5h0m-448 112h0m448.5 123.5h0m208.5 184.5h0m-119 45h0m67.5-115.5h0m413.5 23h0m-134.5-256.5h0m-436.5 35h0m163-57h0m35.5 377.5h0m-54-15h0m-435.5-333.5h0m325.5 164.5h0m164-86.5h0m119.5 160.5h0m55.5-108.5h0m-651.5-163.5h0m905 221h0m-545.5 29.5h0m26-106h0m118.5 108h0m-10.5-28.5h0m174 248h0m-594.5-663.5h0m-57 217.5h0m513 270.5h0m-104-322.5h0m74.5 126.5h0m26 11.5h0m25.5-57h0m-507-237h0m587 314.5h0m28-87.5h0m-121.5 147h0m-388.5-319h0m732 320.5h0m-855-118h0m417.5 35h0m-461-92.5h0m604.5 4.5h0m-94.5 338h0m-152 397.5h0m-91.5-62h0m321-486.5h0m-221-286h0m30 259h0m10.5-279h0m-22.5 241.5h0m295-43.5h0m-102 186.5h0m-84 94h0m-114-9.5h0m137.5-427h0m-422-146h0m309 364h0m-302-359h0m-27 7.5h0m-21 226.5h0m5 13h0m122.5-218h0m375.5 577.5h0m-501.5-562h0m-19.5-32.5h0m251.5 170h0m-12.5 688h0m320-656.5h0m-140 96h0m279.5 198h0m-177.5-250.5h0m-66 230h0m7.5-282h0m126.5 381.5h0m246-114h0m-191 138h0m21-412h0m51 304.5h0m-352.5-321.5h0m-302.5-33.5h0m156.5 780.5h0m605-562.5h0m-316-84h0m-225.5-67.5h0m164-9h0m37 5h0m4 343h0m62-195.5h0m-98 119.5h0m-257 401h0m550-423h0m-45.5-184.5h0m-379.5 53.5h0m132.5-131.5h0m-56 124h0m-322-284h0m109.5-29.5h0m-175.5 64.5h0m395 64.5h0m170 163.5h0m283 112.5h0m17.5 13.5h0m-306.5-34h0m-40-121.5h0m-474-273.5h0m344 607.5h0m313-309.5h0m-714-259.5h0m582 582.5h0m-261.5-314h0m-244.5-263h0m-78 215h0m471.5 308h0m-169-145.5h0m165-189h0m267 259h0m-332-264.5h0m240 7h0m-201 70.5h0m129 198.5h0m-297-116h0m592.5 57.5h0m-858.5-168.5h0m749 196h0m-257.5-221.5h0m-673-58h0m339.5-157h0m-114.5 98h0m225 209h0m-87.5-260.5h0m414.5 226h0m-73.5-51.5h0m155.5 73.5h0m-402 12h0m346-113.5h0m-97-42.5h0m-558-140h0m188 812.5h0m363.5-301h0m-131-289h0m123-83.5h0m-39.5 129h0m102-53.5h0m-461.5-159.5h0m514 297h0m-223.5 0h0m434.5 69.5h0m-715-444.5h0m78 26.5h0m-205 2.5h0m53.5 5h0m283 289h0m362.5 157.5h0m-726.5-467.5h0m578.5 453h0m-38-166.5h0m-478.5-80.5h0"/><path stroke="#D04371" d="M1249 536h0m269.5-89.5h0m-208 328h0m-225 362h0m-54.5 22.5h0m-174-856h0m172 848h0m198.5-720h0m421 253h0m-317.5-63h0m-504-150h0m350-85.5h0m68-5.5h0m216.5 415h0m-280.5-194h0m-171.5 534h0m338-492.5h0m-275.5 501h0m179.5-539h0m-162.5 5h0m276.5 80h0m-189.5-349.5h0m-292.5-38h0m426.5 287.5h0m52 142.5h0m-62-279h0m367.5 218.5h0m-615.5-121.5h0m531 118.5h0m95-1h0m-583.5-100h0m264.5 152.5h0m-151-77.5h0m258-119h0m-316 131.5h0m168.5-128h0m-21-15.5h0m25.5 298h0m64.5-229.5h0m-135 109.5h0m-195-191.5h0m94-150.5h0m124 422.5h0m9.5-254.5h0m-327.5-203.5h0m474 587h0m269-305h0m-235 302.5h0m-163-401h0m-119 301.5h0m156-220h0m-183.5 19h0m247.5 100h0m-426.5 410h0m198.5-544h0m-96 39h0m228.5-88h0m-58-88.5h0m211.5 420h0m-136-250.5h0m-65.5 197h0m-382.5-391h0m487.5 322.5h0m-150-298h0m-449-152h0m889.5 365.5h0m-666 488h0m602.5-435h0m-701-359h0m486 299h0m260.5 45h0m-556-81.5h0m500.5 140.5h0m-206-271h0m-82 247.5h0m59.5-162h0m-297 552h0m406.5-307.5h0m-172-165h0m187 288.5h0m66-409.5h0m-321.5 75.5h0m287.5 260.5h0m-411.5 255h0m286.5-637h0m4.5 113h0m-586.5-119h0m464 343h0m243-292.5h0m-312.5-125.5h0m133.5 84h0m61 179h0m-255.5-46.5h0m63.5-201h0m-35.5 383.5h0m455.5-123.5h0m-189.5 154.5h0m-104-205.5h0m55-19h0m-26.5-33.5h0m-180.5 273.5h0m160.5-216.5h0m-73 161h0m60.5-190h0m-163 201h0m-9 2.5h0m475.5-89.5h0m-232 27h0m-590-266.5h0m593.5 9h0m-266.5 727h0m14.5-73h0m25.5-687h0m184 292h0m-82.5 59h0m60-211.5h0m-211.5 563h0m523.5-456.5h0m-297.5-92.5h0m-62.5 197h0m-87.5-190h0m-120-47h0m265-72h0m-211.5 693h0m533.5-556h0m-664-283h0m-195 150.5h0m-158.5-56.5h0m807 431.5h0m-154-323.5h0m235 29.5h0m-433.5 12h0m427.5-15h0m-370 211.5h0m133 26.5h0m193 23h0m-205-237h0m129.5-96h0m-300-108.5h0m-109.5 744.5h0m366-495h0m-194.5 43h0m96-276.5h0m-114.5 40h0m518.5 219.5h0m-619 508h0m382-270h0m69-400h0m-42 405.5h0m-74-200.5h0m-59-44h0m-77.5-219.5h0m-48 8.5h0m-93.5 756.5h0m-403.5-730.5h0m-68-85.5h0m1035.5 296.5h0m-341.5 52h0m60.5 104.5h0m-314 316.5h0m186-704.5h0m68 237h0m-165.5-293.5h0m210.5 446h0m137.5 1h0m-258.5-316h0m-142.5 665.5h0m43.5-585h0m305.5 228h0m-571-446.5h0m173.5 742h0m487.5-425.5h0m-88 125.5h0m-174-196.5h0m81 57h0m166.5 36.5h0m-694.5-401h0m363 115h0m194.5 377.5h0m-54-270.5h0m-29.5-112.5h0m104 91.5h0m-147 24.5h0m-237 629h0m329.5-618.5h0m-220-180h0m210.5 169h0m-295-192.5h0m203 144h0m442.5 144h0m-809-320h0m299.5 32.5h0m9 314h0m83.5-150h0m138 294h0m-264.5-179h0m145-207.5h0m-515.5-179h0m419.5 576h0m-105 398h0m387-645.5h0m-622-264h0m706 421.5h0m-141.5 158.5h0m69.5-63.5h0m-199-312h0m-57.5 14h0m-142 103h0m2-41.5h0m402.5-97h0m-321-83h0m259.5 475.5h0m-313-293h0m21.5 165h0m103-380h0m193 467h0m-28-357.5h0m-311 102h0m-297.5-361h0m82 106h0m771 332.5h0m-407.5-109.5h0m-113.5 216.5h0m389-57h0m-421.5-367h0m584.5 331h0m-359-142.5h0m81 327h0m-122.5-134h0m-103.5-365h0m308.5 339h0m-139-254h0m-228 665h0m175.5-694.5h0m372 265h0m-652 450h0m269.5-670.5h0m175 146h0m-160-159.5h0m-458 18.5h0m236.5 135h0m-278-99h0m313.5-87.5h0m251 299.5h0m-500-320h0m427.5 170.5h0m166 7.5h0m-326.5 209.5h0m-152-482.5h0m645 412h0m-564.5 409h0m153.5-407.5h0m264 145h0m-292-254.5h0m248.5 188.5h0m-358.5 310h0m98.5-679.5h0m71 0h0m30 390h0m-204-459.5h0m158.5 44h0m20.5 8h0m40 130h0m-37.5 246h0m26-142.5h0m-406.5-274.5h0m263 226.5h0m136.5-60h0m-48 78h0m-388.5-117.5h0m396.5-113h0m272 348.5h0m-246.5-301h0m-146-41.5h0m566.5 224.5h0m-594.5 518.5h0m-149-808.5h0m91.5 802h0m105.5-544.5h0m179-147h0m84 136h0m242.5 86h0m-491.5-301.5h0"/><path stroke="#F6735C" d="M1305 641h0m-92.5-233h0m-131 761h0m245-657h0m-266.5 638.5h0m19.5 6.5h0m46 50h0m320.5-393h0m-609-496.5h0m309 484h0m31-52h0m135.5-2.5h0m334.5-89h0m-316-236.5h0m-221 755.5h0m-286-946.5h0m443.5 342.5h0m-101 27h0m45 156h0m-69.5-160h0m281.5 49.5h0m-289 483.5h0m527.5-513.5h0m-409 179h0m46.5-337h0m-149.5 365.5h0m-148.5 274.5h0m297.5-347h0m60.5-311h0m-210 748h0m281.5-337h0m-359.5 317.5h0m122.5-489h0m109-150h0m344 182h0m-286-101h0m-411.5-300.5h0m153 852h0m275.5-453.5h0m-538-479.5h0m468.5 201.5h0m115.5 295h0m-76.5-238h0m-232 111h0m205-139h0m-47.5-27h0m73 125h0m-237.5-137.5h0m-337.5 44.5h0m492 283.5h0m81 73.5h0m-320 339.5h0m-147.5-874h0m233 848.5h0m356.5-252h0m-375.5-533h0m421.5 140.5h0"/><path stroke="#FDAF74" d="M1163.5 372h0m-79 742.5h0m193-335h0m-160 357h0m347.5-275h0m-124.5-282h0m-43.5 221.5h0m-194 324h0"/><path stroke="#000004" d="M1216.5 453.5h0m-42.5 381.5h0m418-125h0m-127-195.5h0m-65-139h0m-262.5 194.5h0m47.5-220h0m117 378.5h0m179.5-180h0m-387-201h0m129.5 33.5h0m38.5-11.5h0m213.5 40.5h0m-89.5 56h0m-219.5 318.5h0m199-49h0m91.5 173h0m-118.5-332.5h0m-141.5 121.5h0m159.5-212.5h0m29 279h0m41 86h0m-212-508h0m-326-97.5h0m197 897.5h0m137.5-797h0m57.5 40h0m25.5 0h0m-211 156.5h0m-136.5-268h0m450.5 274.5h0m-126 37.5h0m189 0h0m-548-341.5h0m350 556h0m246.5-100.5h0m-490.5-173h0m210.5 282.5h0m-79-145h0m-117.5 462h0m46.5 74h0m395.5-641.5h0m-125-111h0m-208 63h0m336.5 382.5h0m-338-339.5h0m31-66h0m139.5-89.5h0m30.5 228h0m-152.5-99.5h0m116.5 88h0m-506-122h0m603 367h0m-458-566.5h0m577.5 195.5h0m-110 230.5h0m-338.5-86h0m55-242.5h0m318 506.5h0m-277-82h0m324.5-265.5h0m-655.5-263.5h0m235.5 324.5h0m-73.5-63.5h0m462.5 344h0m6-38h0m-134.5-308.5h0m-131.5 276h0m-60.5-148.5h0m-327.5-356.5h0m610 530h0m-631-606h0m311.5 341.5h0m159.5-42.5h0m-394-156h0m331.5 431h0m197.5-335h0m225.5 154h0m-410.5 151h0m326-54.5h0m-245.5 39.5h0m-630.5-365.5h0m198.5-6h0m650 163h0m-331 257h0m48.5-343.5h0m-367.5-119.5h0m835 323.5h0m-445.5 45.5h0m-471-224.5h0m-21.5-243h0m-144.5 120h0m472.5 24h0m228.5 8h0m-146 387h0m-403-545h0m428 581.5h0m-363.5-586h0m15 133h0m321.5 30h0m34 377.5h0m51-115h0m-185.5 427.5h0m327-379.5h0m-333.5 464h0m328.5-678.5h0m-512-123.5h0m-5-40.5h0m435 63.5h0m184.5 73.5h0m-610.5-227h0m5.5 8.5h0m143 304.5h0m650.5 116h0m-316-118.5h0m93.5 16.5h0m-549-276h0m142 228h0m380 296.5h0m-602.5-524h0m587.5 238.5h0m-319 577h0m-365-665.5h0m133.5-128h0m-68.5-29.5h0m891 371h0m-26-17h0m-299 95.5h0m58-84h0m-660-368h0m348.5 179.5h0m-261-120.5h0m243 240h0m390-156.5h0m-89 149h0m-476-327h0m418.5 225h0m145 7h0m-276-67.5h0m464 249h0m-601.5-299h0m-220.5-40.5h0m-61 159h0m486 236h0m-12.5-38h0m-454.5-345h0m49-79.5h0m298.5 302.5h0m-65.5 61.5h0m-25-273.5h0m551.5 311.5h0m-313-254h0m276 255h0m-811.5-365h0m559.5 340.5h0m-74-153.5h0m180.5 96.5h0m-78.5 77h0m-12-47.5h0m-483.5-287.5h0m361 175h0m-378-251.5h0m589 319h0m-99 107.5h0m160.5-119.5h0m134 54h0m-460.5 213h0m-376-560.5h0m73 96.5h0m532.5 239h0m250 31h0m-367.5 116h0m-146 457h0m-119.5-47h0m504-454h0m-205-279.5h0m-36.5 157h0m113.5 92.5h0m-23-123.5h0m-168-89h0m209.5 235.5h0m-222-227h0m-2.5-68h0m-224-149h0m-120.5 125h0m421.5-14.5h0m212 209.5h0m44 134.5h0m-347.5-128h0m-119.5 11.5h0m-423-204h0m329-84.5h0m-162-45h0m875.5 384h0m-311-145h0m161 387h0m-654-378.5h0m438.5-42h0m-59 103.5h0m212-33.5h0m-187 259h0m90.5-235h0m-39 35.5h0m61-88.5h0m-564-198.5h0m525 257.5h0m-414.5-264h0m743.5 346.5h0m-463 17h0m-162.5-68h0m656.5 64h0m-246-61.5h0m-300 218h0m-249-558.5h0m795 400.5h0m-147 33.5h0m-349.5 1h0m319-127h0m-381 255.5h0m15-468h0m-284.5-131.5h0m-92 35h0m603 373h0m-78-122h0m252 195.5h0m-640.5-409h0m8.5-19.5h0m534.5 542h0m-514-579.5h0m34 8.5h0m171 266.5h0m-18.5 44.5h0m58.5-185h0m84 211h0m-210.5 1.5h0m292-99h0m-437-191.5h0m524 552.5h0m-63-295.5h0m-26 187.5h0m-737.5-274h0m55.5 9.5h0m207.5-158.5h0m414 72h0m-61 134.5h0m-82-36.5h0m31.5 281h0m266 59.5h0m-366-269.5h0m121.5 236h0m75-260.5h0m247.5 37h0m-257.5 17.5h0m116 135.5h0m52.5 105h0m-227.5-445h0m304.5 337h0m-274 125.5h0m191.5-276h0m208 127h0m-416-234h0m-48.5 240.5h0m-344.5-463h0m161 6.5h0m375 427h0m4 118h0m-503-529h0m686 468h0m-765-225.5h0m511.5-61.5h0m9 345.5h0m-128.5-332.5h0m-277.5-153.5h0m248.5 418h0m1-332h0m97.5 359.5h0m70.5-274h0m-116-65h0m204 72h0m91.5 103.5h0m188.5 111.5h0m-181.5-169.5h0m-516.5 568h0m302-333.5h0m368.5-94h0m-434.5 137h0m-24-406h0m-406 94.5h0m665-65h0m-589.5-42.5h0m676.5 331h0m-745.5-452.5h0m552 197h0m-145.5 218h0m88-219.5h0m-112.5-62h0m-103 748.5h0m-298-661.5h0m682.5 435h0m179.5-273.5h0m-402.5-279.5h0m61 138.5h0m-145 152.5h0m-104 523h0m618.5-527h0m-750-368.5h0m250 373h0m434 51.5h0m-537.5-230.5h0m-14.5 35.5h0m138.5-149.5h0m-322-136h0m532 605.5h0m-306-437.5h0m-256-118h0m294 548h0m-34.5-186.5h0m446 93.5h0m-480-374h0m-238-114.5h0m351.5 242.5h0m507 205h0m-439.5-175h0m135.5 10.5h0m244.5 146h0m-765.5-371h0m-220 76h0m869 161h0m-388-90.5h0m385 57h0m-48 324h0m-801-440.5h0m700.5 117h0m-293 691h0m361.5-783h0m-659.5 51h0m509-84h0m-454-5.5h0m616 499h0m-338.5-355h0m-278-175h0m473 460.5h0m-390.5-548h0m223 331h0m68.5-88h0m439 182.5h0m-158.5-248.5h0m-189.5 75h0m-33 21.5h0m-340-291.5h0m212 218h0m-372.5-170.5h0m876 319h0m-5.5 104h0m-671-442.5h0m110.5 294.5h0m222-120.5h0m325 208.5h0m-508-264.5h0m-223-153.5h0m159 312h0m143 37.5h0m92.5-190.5h0m368 231h0m28.5 76.5h0m-929-346h0m606.5 419h0m119-180h0m-146.5 156.5h0m-265.5-237.5h0m60-96h0m95-11.5h0m-37 400.5h0m33.5-406.5h0m193.5 229h0m-482-393.5h0m336 173.5h0m230.5 147.5h0m-29 1h0m-70 226.5h0m-619-307h0m142-210.5h0m-112 223h0m640 159h0m-379-114h0m533.5 107.5h0m-774.5-393.5h0m466 164h0m-174 190h0m159-84h0m278 190h0m147-95.5h0m-536.5-189.5h0m194 203h0m3 161.5h0m-398-499.5h0m-94 217.5h0m268.5-122h0m-13 247.5h0m34 69.5h0m136-282h0m-498 75.5h0m359 219h0m103-112.5h0m-438-83.5h0m184.5 628.5h0m492.5-662h0m-225.5 251.5h0m183.5 181.5h0m-220-529h0m-328-72h0m419.5 171.5h0m18.5 227.5h0m102-306.5h0m-345 25.5h0m-474-30h0m426-42h0m319.5 482.5h0m74-231.5h0m-544-306.5h0m299.5 433h0m-378.5-470.5h0m390.5 99h0m70.5 143.5h0m-131.5-61.5h0m-56 666h0m174.5-419.5h0m141 36h0m-136.5-2h0m192.5-170.5h0m-552-266.5h0m-62.5 120h0m329 125.5h0m-240.5-239h0m-93.5 107h0m826 215.5h0m-894-338h0m413 201.5h0m-291.5-190.5h0m-276.5 143.5h0m619 52h0m-167 69h0m-318-275.5h0m389 216h0m303.5 415h0m-260-87h0m-366-351.5h0m110-197h0m521 542h0m-598.5-544h0m194 250h0m-271-265h0m99.5 3.5h0m360 87.5h0m263 163h0m-836.5-41.5h0m479.5-73.5h0m284.5 513h0m-194.5-158h0m167.5-58.5h0m-710-219.5h0m838 217.5h0m-283-130h0m-63 230h0m255.5-196.5h0m6 308h0m-276.5-238.5h0m494-10h0m-259.5-170h0m-452.5-215.5h0m-100.5 82h0m-230.5 101.5h0m510 174h0m324.5-167.5h0m-297.5-54h0m370 324h0m-655-453.5h0m293 282.5h0m-497.5-149h0m370.5 686h0m107-647.5h0m45.5-97.5h0m322 194h0m-417.5-124.5h0m307 433h0m-296.5-327h0m389.5-62h0m-303.5-74h0m-371.5 71.5h0m245.5 705h0m183.5-367.5h0m70-229.5h0m116.5-67h0m233.5 160h0m26.5-38.5h0m-141.5 84h0m-329-136.5h0m126 103h0m-172.5-192h0m-77.5-140h0m-211-112.5h0m423 510.5h0m-53.5 26.5h0m99.5-34h0m117.5-281.5h0m-93 289h0m-431-432.5h0m496 261h0m-181.5 140h0m-182-225h0m-13 101h0m147-217h0m-114.5 11.5h0m239.5 182.5h0m103.5 287.5h0m-116-206h0m371.5 21h0m-844-160.5h0m-20.5-4.5h0m397.5-147h0m-444 73.5h0m88.5-167h0m423 427h0m-626.5-258.5h0m265-132h0m-123-65.5h0m557.5 441h0m-53.5-257h0m198 300h0m-327.5 71.5h0m75-26.5h0m-67-122h0m-131.5-93h0m-215-218.5h0m-28.5 178h0m500 136.5h0m-176.5-165.5h0m483.5 176h0m-776.5-391h0m-175.5 218.5h0m463 183h0m47.5-204.5h0"/><path stroke="#7B2382" d="M1014.5 545.5h0m505 338h0m-676.5-557h0m498 344.5h0m-34-196.5h0m375 188.5h0m-112 55.5h0m-322-310h0m371.5 210h0m-402-153.5h0m310 271h0m-645-323.5h0m467.5 276h0m-39-87.5h0m-677.5-212h0m652.5 411h0m-469-291h0m696 337h0m-689-536h0m504 457.5h0m-514.5-261.5h0m478 243h0m-429.5-466h0m276.5 363.5h0m347.5-140.5h0m188 145.5h0m-483.5 13h0m-4 139h0m7.5-147h0m-80-275h0m325.5 487.5h0m141.5-172h0m-559.5 446h0m205-445.5h0m-442-395h0m841.5 311h0m-329.5-153.5h0m179.5 443.5h0m-47.5-209.5h0m-485.5-398.5h0m425 464.5h0m-136-278h0m-272-235h0m720.5 387h0m25-9h0m-21-41.5h0m-332.5-113.5h0m-190-51.5h0m-332.5 67.5h0m533 322h0m-80-37.5h0m-419-452.5h0m794 318.5h0m-555.5 504h0m19.5-11.5h0m-222-825.5h0m530 238.5h0m-301-206.5h0m267 198h0m170 144.5h0m-780-215.5h0m919 159h0m-777-359.5h0m773.5 350h0m-408-102h0m-403-239h0m423 361h0m80.5-121.5h0m-603.5-45h0m432.5 86.5h0m32 66h0m-389-255h0m549.5 123h0m-365 24.5h0m419.5-24h0m46 65.5h0m8 297h0m-334-341h0m133-20.5h0m211.5 18.5h0m-412.5 693h0m-355-737h0m283 58h0m145.5 22h0m-158.5 578.5h0m235-398h0m-235.5 376h0m101.5-514h0m353 239.5h0m-508-516h0m-156.5 161h0m696.5 229.5h0m-97.5-130.5h0m-597-48h0m313.5 94.5h0m-33.5 7h0m-231-356h0m-22.5 77h0m453 182h0m45.5 114h0m-409.5-401h0m-74 102.5h0m295.5 440.5h0m109-284.5h0m-496-197h0m176-61h0m419 207h0m-560 0h0m321.5 211h0m229.5-108.5h0m-204.5 56.5h0m176 142h0m157-296h0m-376 179h0m371 247h0m-378-526.5h0m-12 63h0m83 348.5h0m-133-196.5h0m472 16.5h0m-57-177h0m-590.5 6h0m578 197.5h0m-642.5-113.5h0m428 11h0m316 222.5h0m-722.5-420h0m181.5 234h0m492-97h0m-726.5 35h0m630 21.5h0m91.5 31.5h0m-50.5 325h0m-181-95h0m-444-459.5h0m69-58.5h0m653 297.5h0m-718-54.5h0m340-150h0m126.5 430h0m-13.5 29.5h0m351-160h0m-17.5 44h0m-393.5-255h0m-394.5-166h0m92 41.5h0m223 83.5h0m141.5 70.5h0m-118 146.5h0m-348-318.5h0m233.5 830h0m210.5-267h0m-96.5-364.5h0m124 360h0m-385.5-565h0m-45.5 9.5h0m566 184.5h0m4 416h0m-163.5-135h0m78.5-242.5h0m5.5-69h0m-123-42h0m63.5 186h0m-243.5 568.5h0m121.5-759h0m-132 182h0m195-87.5h0m-69.5 186.5h0m-101.5-103h0m-431-176h0m714 130.5h0m174 184h0m-380.5-151h0m22-219h0m-277 22h0m-83.5 76h0m531 87h0m-507.5-85.5h0m502 276.5h0m-408-450.5h0m400.5 425h0m-243.5-126h0m531.5 129h0m-420.5-277.5h0m-103 141.5h0m100 233.5h0m-148.5 370h0m504-602.5h0m2-89h0m-21.5 427.5h0m-717.5-436.5h0m249 695h0m-107.5-927h0m259 564h0m-63-452.5h0m12.5 57h0m239 115.5h0m-484-158h0m565.5 144.5h0m205 115h0m-213 258.5h0m-548.5-643h0m-78.5 88h0m588 150.5h0m-290-130.5h0m-145-21h0m586 336.5h0m-393-139.5h0m-189.5 636.5h0m-182-679h0m359.5 309h0m9 11h0m-1.5-385.5h0m520 266.5h0m-556-3.5h0m-1.5 440h0m347-583h0m-168.5 158h0m-310 467.5h0m-62.5-894h0m161 868.5h0m597.5-482.5h0m-338.5 70h0m154.5-221.5h0m-347.5 257h0m344-292h0m167 126h0m-780.5-239.5h0m277 170h0m351.5 197h0m-409-283.5h0m397.5 462h0m-612.5-622.5h0m225 87h0m-354.5-87h0m448 271h0m334.5 186h0m-349.5-49h0m-20.5-75h0m-32.5-148h0m127.5-80.5h0m-0.5 235.5h0m95.5-67.5h0m-97.5 61h0m377.5 65h0m-567-64h0m78-261h0m489 337.5h0m-1016-221h0m613.5 21h0m121.5 73.5h0m-7-15.5h0m-557-134h0m602.5 348h0m-509-481h0m635 241h0m-689.5-286h0m583 316.5h0m-228 301h0m48-133.5h0m-333.5-389h0m413 253.5h0m28-92.5h0m-559-25h0m211 99.5h0m283.5 198.5h0m-670.5-309.5h0m719 404h0m-168-53h0m-317.5-507h0m-66 21h0m121.5-14.5h0m278 110.5h0m101.5 35h0m-203.5 742h0m-262.5-689.5h0m-55-211h0m849.5 417.5h0m-100.5-239.5h0m-43.5 97.5h0m-641.5-211h0m-29.5-83h0m878.5 421h0m-784-367h0m549 188h0m-197.5-146.5h0m357 316h0m67.5 20h0m-648.5-159h0m289.5 71.5h0m-109-183.5h0m-47.5-56.5h0m169.5 195.5h0m-197-95h0m426.5 275.5h0m-465-116h0m42.5 40.5h0m-201-401.5h0m261 393h0m-318-380h0m331.5 301.5h0m469 95h0m-411.5 34.5h0m-635.5-326h0m1037 250h0m-835-260h0m-56 82.5h0m754 20.5h0m-250.5-62h0m-532.5 69.5h0m783 219h0m-417 471.5h0m33.5-638h0m-79.5 67.5h0m445.5-66.5h0m-251.5 259h0m-41.5-216h0m-388.5-342h0m81.5-15h0m601.5 258.5h0m-217 322h0m31-274h0m166.5-59h0m15.5 437.5h0m-199-77h0m-224-477h0m303 187h0m-103-63.5h0m189.5 397.5h0m-76.5-176h0m-527.5-368h0m21-103h0m339.5 340.5h0m-593-173.5h0m643.5 390h0m-185 376.5h0m434.5-440h0m-180.5-185h0m-171 49.5h0m499.5 1.5h0m-381 211h0m-243.5-189h0m155.5-13h0m-229-337.5h0m-54-28h0m186 148h0m-194-100h0m-248.5 186h0m830-26.5h0m-343.5 174h0m259-185h0m-571.5-101h0m346 25h0m163.5 161h0m-163 166h0m108.5 31h0m125.5-200h0m248 142h0m-514-35h0m142 152.5h0m-36.5-31.5h0m-610.5-348h0m867 103h0m-447-22h0m576 196h0m-680 430.5h0m189-712h0m-14-14h0m6.5 307.5h0m105.5 70h0m113.5 96.5h0m184.5-130.5h0m-703.5-228.5h0m213-122h0m623 334.5h0m-627-354.5h0m-63.5 811h0m126-685h0m181.5 94h0m-301 575h0m320.5-608.5h0m309 145.5h0m-270.5-135.5h0m57 126h0m-551-295.5h0m826.5 284.5h0m-397.5-51.5h0m-2.5-56.5h0m69 78h0m-303-215.5h0m415 491.5h0m138.5-232.5h0m-691-416h0m305.5 513.5h0m122.5-263.5h0m306.5 153h0m-112.5 45.5h0m-746-198.5h0m300.5 25.5h0m-40 48.5h0m-215-261.5h0m451.5 476h0m164.5-366h0m-640.5 53h0m244 665h0m-95.5-58.5h0m474-224h0m29-299h0m-589-224h0m534.5 153h0m-486.5-225.5h0m447.5 276.5h0m-206.5 48.5h0m-80 535h0m240.5-549h0m-462.5-347h0m239.5 969h0m388-473h0m-326-224h0m472.5 120h0m-78 96.5h0m-69-170.5h0m-115.5-93h0m-147-53.5h0m93 89h0m-268 56h0m272 31h0m-265.5-176.5h0m104.5 431h0m-300.5-499h0m338.5 353.5h0m-263.5-367h0m178 310.5h0m-19 19h0m198-40h0m-516-366.5h0m330.5 187h0m556.5 276.5h0m-340-61h0m338.5-1h0m-893.5-341h0m698 246.5h0m-690.5-264h0m28 0.5h0m624.5 535h0m-407.5-291h0m409-32.5h0m-221 328.5h0m25-202h0m24.5 72h0m212-244.5h0m50.5 82h0m-393 70.5h0m-70-24h0m119.5 4.5h0m-73 553h0m576-454.5h0m-528-346h0m-205.5-72h0m-60.5 23.5h0m192 815h0m17.5-760h0m457 380.5h0m-378-221.5h0m192.5 55h0m232.5 107h0m-807.5-158h0m690.5-16h0m-322.5-104h0m294.5 452.5h0m-148.5-280.5h0m-391.5-287.5h0m363 394h0m221.5-217h0m-33.5 412.5h0m138-159.5h0m-539-284.5h0m323.5 106h0m92 394.5h0m171.5-326h0m-150-114h0m-257 258.5h0m34-303.5h0m25-37h0m-393.5-160h0m391 329h0m-14-61h0m245 216h0m34.5-51.5h0m-259.5-228h0m174 149h0m-38 298h0m-480.5 245h0m310.5-366h0m-254.5 407h0m-392.5-736h0m174.5-181.5h0m284.5 98h0m-284.5 98h0m481.5 252h0m10 25.5h0m-291-183.5h0m130.5-199h0m21.5 383h0m-22 394.5h0m-178.5-840h0m-157-46.5h0m-52 243.5h0m621 369.5h0m-128-285h0m433.5 109h0m-69.5 26h0m-72.5-177h0m-418 131.5h0m368.5-226h0m-194.5 342.5h0m-312 330.5h0m424.5-430h0m-213-244h0m42-81.5h0m90 131h0m-63.5-94.5h0m-629-9.5h0m357 727h0m-26-787.5h0m350.5 481h0m344-142.5h0m17-9.5h0m-793-304.5h0m446 291h0m133 213.5h0m-141.5-411h0m-209.5 162.5h0m234.5 152.5h0m-255-213h0m203 125h0m-324.5-403h0m226.5 95h0m302.5 525h0m-293-420h0m108-8h0m-94.5 187.5h0m-328-385h0"/><path stroke="#D04371" d="M1047.5 1136.5h0m-31-4.5h0m85 87h0m-485.5-814.5h0m743 141.5h0m115.5 347h0m-139-282h0m-86-154h0m-204 138h0m508 148h0m-174-12h0m300-125.5h0m-386-64h0m-279.5 563h0m-174-593h0m67.5-232.5h0m503.5 541.5h0m-370.5 354.5h0m-421-732h0m515.5 754h0m293.5-359h0m69-297h0m-305.5 52h0m-127 545.5h0m-76 2h0m357.5-551.5h0m308.5 74h0m-420 81.5h0m97.5-205h0m-116.5-58.5h0m302.5 421h0m-606-574h0m536 481.5h0m-83.5-166.5h0m84.5 225h0m-206-501.5h0m265 155h0m-318-162h0m-63 767.5h0m-1-684h0m-276 47.5h0m-186.5-23h0m809.5 362.5h0m-300.5-281.5h0m90.5 234h0m247-247.5h0m-28 290h0m-45.5-10h0m66.5-103.5h0m-111.5-127.5h0m-246 76h0m304.5-46h0m-101.5-152h0m331.5 154.5h0m-191-72.5h0m-99-39.5h0m-527.5-117h0m440.5 200.5h0m20.5 46h0m-6.5 3h0m-258.5 458.5h0m200-355h0m110-42h0m5-222.5h0m-204-121.5h0m4 111h0m-80-129h0m-15 233h0m167-134.5h0m70-16.5h0m-183.5 241h0m167.5-46.5h0m-6-170.5h0m-205 680h0m246-560h0m379 96h0m-359 20h0m-224-301.5h0m106 74.5h0m0 134h0m-368.5-187h0m610.5 52.5h0m-379.5 718h0m322.5-499h0m-308-190h0m352.5 390h0m-341.5 237.5h0m-265.5-716.5h0m413.5 35h0m404.5 218.5h0m-468.5 47.5h0m211.5 19h0m-70.5-193h0m-24-111.5h0m-161.5 264h0m-52.5 499.5h0m227.5-715.5h0m-191.5-89.5h0m352 364.5h0m-382.5 450.5h0m115.5-820h0m-68 453h0m251.5 46.5h0m-606.5-392h0m-4.5-191.5h0m686.5 555.5h0m-56 6.5h0m-208.5-224h0m63 81.5h0m-93.5-8.5h0m55-248h0m414.5 229.5h0m-376-129h0m126.5-36.5h0m-22.5-50h0m-184 323h0m221 94h0m-331.5-447.5h0m145 265.5h0m-10.5-100h0m-309.5-285.5h0m519 497h0m90-256.5h0m-226.5 34h0m116.5 250h0m5-327h0m-380 595h0m433-556.5h0m-245-70h0m5.5-68.5h0m63.5 199.5h0m-27-137h0m-477-37.5h0m598 390.5h0m-78.5-269h0m5.5-36h0m-185.5 136.5h0m196-102h0m-371 570h0m112.5-641.5h0m104.5 334h0m-36.5 311h0m-246.5-866h0m363 160h0m-30.5 126.5h0m199.5 273.5h0m-181-355h0m146.5 261h0m-181.5-24.5h0m-59 70.5h0m81.5-194h0m279 180h0m-241-102h0m-8-99.5h0m-574-131.5h0m991.5 258h0m-900-189.5h0m727.5 29h0m-120 189.5h0m201.5 28.5h0m-424.5-366h0m165 273.5h0m-160-59.5h0m332-130.5h0m-395-114.5h0m399 207.5h0m-516.5 559h0m484-254.5h0m-300-294h0m-51-179h0m92 394h0m-77-172.5h0m127.5-38h0m-170.5-30.5h0m-7.5 589h0m427-646h0m151 241.5h0m-391.5-303.5h0m-76.5 15.5h0m251 103h0m-370.5 661h0m-42-80.5h0m250-517h0m-470.5-342h0m450 474.5h0m40.5-179.5h0m-6.5 148h0m-156-132h0m-28-132h0m-12 682.5h0m134-544h0m280.5-78h0m-381.5-129h0m261.5 278h0m-158.5-64h0m53.5 140.5h0m-33.5-294h0m110 48h0m-306 28.5h0m73.5-122h0m88.5 200h0m-233 533.5h0m70.5 10.5h0m276.5-675h0m-26 283.5h0m50.5 110h0m-17-121.5h0m-99.5-351.5h0m403.5 237.5h0m-324.5-170.5h0m-464.5-177.5h0m147 894h0m-153-883h0m441.5 186.5h0m197.5 119.5h0m-52.5 279.5h0m-66-164.5h0m-100 128h0m-22.5-264h0m-41-137.5h0m-394.5-185h0m667.5 674.5h0m-635-504.5h0m309.5 409h0m130-314h0m143 316.5h0m267.5-197.5h0m-1020.5-130h0m-1.5-13h0m497-53h0m89 116h0m14 294h0m258-116.5h0m-193.5-235h0m-697.5-41h0m426 739h0m43.5-10.5h0m42-455.5h0m184-277h0m-529.5-69h0m288.5 257.5h0m-273.5-154h0m215.5 634h0m91.5 108.5h0m62.5-820h0m4 32.5h0m-64 19h0m-336 59h0m511.5 179h0m137-189h0m161 167.5h0m-259.5-122h0m9.5-75.5h0m-241.5 729.5h0m272.5-722h0m-342.5 85.5h0m97.5 223.5h0m290.5 59h0m-248-79h0m-35-350h0m-48-63.5h0m114 421.5h0m13 37.5h0m-43.5-382.5h0m278 181h0m149.5 85h0m-137 243h0m-350-376h0m377 29h0m166.5 69h0m-586 541.5h0m406-370h0m-361 365.5h0m270.5-370h0m-166.5-400h0m-99.5 239h0m194.5 98h0m-239-154h0m481 116h0m-486-141.5h0m-236.5-74.5h0m146 646h0m106.5-15.5h0m64-323.5h0m10.5-300.5h0m-197 599.5h0m143-742h0m-13-9h0m-428 76h0m435.5 678h0m207.5-636.5h0m-454-136h0"/><path stroke="#F6735C" d="M1356 577h0m-72.5 252h0m23-44h0m-150.5-182h0m74-230h0m246.5 197h0m-799-86h0m776 392.5h0m-314-254.5h0m532.5 75h0m-745-428.5h0m647.5 392.5h0m-446-122h0m517 76.5h0m-491 196h0m79.5-266.5h0m219 271h0m88-291h0m-97 277.5h0m81-304.5h0m-372 608h0m145-686.5h0m-187.5 784.5h0m242.5-638.5h0m-49.5-21.5h0m-8 22h0m10-68h0m88.5 14h0m64 327h0m16 39h0m-254.5-187h0m-289-449h0m170.5 309h0m-74 558h0m272-476.5h0m-242.5 504h0m281.5-702h0m-192.5-102h0m89 454h0m-182.5 356h0m27 3h0m87.5-721h0m341 283h0m-272.5 2h0m-303.5-481h0m341.5 368h0m25 194h0m-186.5-447.5h0m535 347.5h0m-298-192h0m-16 278h0m-333 366h0"/><path stroke="#FDAF74" d="M1040.5 1146.5h0m65.5 72h0m555-562h0m-170.5 275.5h0m-479 155.5h0m295-260.5h0m-237 327.5h0m327.5-644h0m-97.5-57h0m213 440.5h0"/><path stroke="#000004" d="M1225.5 610.5h0m-96.5 594h0m284.5-623h0m-50.5 124.5h0m-243.5-63h0m-266.5-164h0m72.5-248h0m430.5 378.5h0m88-183h0m-121 301.5h0m-49-242.5h0m-642.5-32.5h0m334-169.5h0m104.5 311h0m91.5-210.5h0m-92 100.5h0m-425.5-112.5h0m446 70.5h0m136.5 113h0m293-87h0m102.5 255h0m-304.5-40.5h0m172-126h0m-820-76h0m188.5-218h0m-37-35.5h0m510 301h0m-66-158h0m254 197.5h0m-602.5-261.5h0m441.5 158.5h0m-128.5 50.5h0m-319.5-267.5h0m215 855h0m-114 28.5h0m39-568h0m483.5 134.5h0m-457.5-118h0m-138-305h0m225.5 381.5h0m100 167.5h0m99-357.5h0m-153 3h0m121 89h0m-39.5-198.5h0m92 498h0m285-251.5h0m-385.5-64.5h0m72 204.5h0m-482-417.5h0m281.5 128h0m159.5-67h0m-21 132.5h0m376 172h0m-226.5-149.5h0m-235 148.5h0m72 121.5h0m334.5-127h0m-608.5-413h0m224 193h0m303.5 67.5h0m-369.5-189.5h0m303.5 88.5h0m-50 53.5h0m92 45h0m-132 212h0m127.5-261h0m-309.5-140.5h0m471 353.5h0m-394-91h0m262-100.5h0m-38.5 318h0m-75.5 59h0m-322.5-528h0m-143.5-112h0m164.5 276h0m255 12h0m-66-152h0m-390-90.5h0m363.5 406h0m40-267h0m-342 683.5h0m257.5-765h0m-392.5-28.5h0m318.5 349h0m265 10h0m231.5-80h0m-519 71h0m-76.5-132.5h0m240.5 184.5h0m106-48.5h0m-533-431h0m631.5 286h0m-223.5 243h0m-11-304h0m35.5 249.5h0m-126.5 79.5h0m-52-284.5h0m88-164h0m473.5 317h0m-155 68.5h0m-96.5-280.5h0m-458.5-205h0m-140 255h0m672 238.5h0m-109.5-257h0m-260.5 96.5h0m-374-284h0m585 160h0m234 190.5h0m-309 104.5h0m51-262h0m-509-113.5h0m277.5-38.5h0m277.5 286.5h0m-82.5 138h0m12.5-214.5h0m-231.5 597h0m83.5-717.5h0m297 455h0m-165.5-456h0m-52 141h0m-318.5-313.5h0m33-1.5h0m450 465.5h0m-95-330.5h0m345 216h0m-344 81h0m-81.5-91h0m-339.5-347.5h0m181.5 282.5h0m12.5 80h0m196-162h0m-70.5 94.5h0m459 173h0m-445.5-246h0m199.5 131h0m-181.5 147.5h0m-255.5-494.5h0m542.5 484h0m-645-378.5h0m537 506h0m-119.5-88.5h0m-602-288h0m876.5 239.5h0m80-70.5h0m-505-222h0m212.5 124.5h0m-10.5-71.5h0m156 78.5h0m-636.5-65.5h0m632 50.5h0m-67 301h0m-203-139h0m27-292.5h0m-182.5-7h0m418.5 507h0m-7.5-495h0m-862 32h0m1025 209.5h0m-704-413h0m468 125.5h0m-170.5 161.5h0m84.5-24.5h0m-197-45.5h0m221.5 115h0m-671.5-115.5h0m621-31.5h0m10 125h0m-188 89.5h0m349-232.5h0m-652.5-134h0m441 534.5h0m-10-163.5h0m-3.5-73h0m141-108h0m-273.5 159.5h0m-496-190.5h0m661.5 20h0m21 318.5h0m64-324h0m286 219h0m-486.5 87h0m192.5 83.5h0m-261.5-307h0m-299.5-53h0m292-6h0m-173-228.5h0m561 205.5h0m-117 191h0m-577-365.5h0m657 561h0m-120-13.5h0m114-267.5h0m-383.5-239h0m-220.5-100.5h0m824.5 384h0m-799-115.5h0m215.5 629.5h0m412-222h0m-198.5-496.5h0m103 167.5h0m-194 245.5h0m302.5-374h0m-398.5 58h0m62 266.5h0m-286-379h0m221 737h0m-422.5-650h0m748 36.5h0m-56 111h0m133-61h0m-177 262.5h0m-206-208h0m268 68h0m313.5-11h0m-740.5-435.5h0m488.5 157.5h0m251 220.5h0m-503-235.5h0m-211-143.5h0m142.5 333.5h0m-188-337h0m486 312h0m208.5 174.5h0m-738.5-430.5h0m452 241.5h0m-186.5-191h0m135 108h0m31.5-39.5h0m-99.5 32.5h0m37.5-29h0m248 51h0m-437.5 46.5h0m354 53h0m-592-300.5h0m464 287.5h0m-425.5-168.5h0m343-30.5h0m11 301h0m468.5 3h0m-248-132.5h0m-673-47h0m531 227h0m334-32.5h0m-661-399.5h0m-131 44.5h0m442.5 57h0m18.5 374.5h0m51 56.5h0m119.5-251h0m-236.5 228h0m359.5-86h0m-536.5 459h0m227.5-633.5h0m190.5-53h0m-389.5-21h0m191.5-50h0m236 137h0m-433 593.5h0m283.5-428h0m-81.5-326.5h0m-629 9.5h0m625.5 438h0m-463.5-331.5h0m497 113h0m-22.5 21h0m167.5-131h0m-46 360h0m101-395h0m-362 4.5h0m355 440.5h0m-648.5-677.5h0m168.5 901h0m-269-666h0m655.5 73h0m-350-43h0m310 209.5h0m-521.5-451.5h0m173.5 316h0m347-2.5h0m255.5 109.5h0m-272.5 20.5h0m-67.5-206.5h0m42 80.5h0m-387.5-272h0m153.5 68h0m106.5 89h0m309.5 97h0m-139 78.5h0m-309.5-128h0m301 210h0m-166.5-66.5h0m302.5 205h0m-723.5-399h0m202.5-206h0m424.5 272.5h0m-229 13.5h0m66 258h0m-448.5-501.5h0m42.5 187h0m854.5 162h0m-834.5-287h0m222.5 194h0m-155-291h0m409 176h0m-494.5-120.5h0m606 115h0m-606-69h0m525 304h0m174.5 55.5h0m-72 205.5h0m68.5-401h0m29.5 208.5h0m-679.5-443h0m386 154.5h0m-132 762.5h0m287.5-342.5h0m-335-506.5h0m-414 39.5h0m589 410h0m176.5-406.5h0m-287.5 206.5h0m-33.5-63.5h0m-84-9h0m521 157h0m-406-48h0m513-42.5h0m-205 294h0m-692-594h0m17.5 5.5h0m102.5 19h0m-81 42.5h0m59.5-4.5h0m622.5 230.5h0m-632.5-314h0m384.5 260h0m-265.5 614h0m238.5-752.5h0m244 489.5h0m53.5-23h0m-384-376h0m-17 167.5h0m189.5-115.5h0m113 195h0m36-135h0m-161 151h0m-118.5-80.5h0m173.5-35.5h0m-460.5-330.5h0m498.5 259h0m-206.5-88.5h0m211.5 32h0m-151.5-78h0m-182.5 132.5h0m237-58h0m30-84h0m99 324h0m-181.5-318h0m63.5 112.5h0m192 304h0m-108.5 23h0m139-165h0m3-117.5h0m-290-225h0m210 195.5h0m-607.5-205h0m482 395h0m-449-491h0m555.5 638h0m-456.5-564.5h0m718 370h0m-851-379h0m17-43.5h0m343.5 155h0m36.5-72h0m94.5 396h0m264-27h0m-938.5-325h0m765.5 148h0m-528.5-227h0m348.5 483h0m173-315h0m68.5 375h0m5-375h0m-668.5-14h0m597 386.5h0m-11-354h0m-278-108h0m147-13h0m-462.5 98h0m-14-3h0m404.5 349h0m199.5-336.5h0m-74.5 258.5h0m-178-134h0m-361.5-345h0m413 384.5h0m30.5 133.5h0m56-420h0m5 372h0m11.5-8.5h0m-362.5-401.5h0m557 147h0m164.5 150.5h0m-404 201h0m255.5 77.5h0m-596-601.5h0m-243 167h0m744 213.5h0m-529.5-382h0m-250 130.5h0m655 68.5h0m-424.5-83.5h0m803.5 199.5h0m-363.5 142.5h0m103-67h0m-197.5-98.5h0m-393-338h0m-4 27h0m146-5h0m540 261h0m-565.5-233.5h0m280.5 143.5h0m-342-211.5h0m421 166.5h0m18 34.5h0m-413-180.5h0m622.5 448h0m-84.5 203h0m-157.5-497h0m-455.5 71.5h0m450.5-30h0m-41.5 352.5h0m231 55h0m69.5-349h0m-414.5 0.5h0m-352.5-48.5h0m836 269h0m-261-198.5h0m114.5-24.5h0m-837-125.5h0m630.5 459.5h0m-386-615.5h0m802 426h0m-637.5-86h0m100-213.5h0m277 504.5h0m22.5-403h0m83.5-1h0m-101.5 35.5h0m69 315h0m-19.5 7.5h0m-122.5-198.5h0m374.5 58h0m-421-257.5h0m-44-38.5h0m-420.5-108h0m428 197.5h0m-441-176h0m8.5 199h0m-17.5 15.5h0m420-125.5h0m-84 243.5h0m101-255.5h0m205 214.5h0m-244-102.5h0m-58-43.5h0m-259.5-160.5h0m491.5 418.5h0m-513-435h0m203 242.5h0m-151-184h0m-123.5-73.5h0m635.5 634.5h0m-178.5-522h0m23 171.5h0m94 49.5h0m-286.5 536h0m-261-596h0m816 199.5h0m-743-441.5h0m-92.5 191h0m641 64.5h0m-313.5 96.5h0m-299.5-384.5h0m485.5 168.5h0m-39 390.5h0m60-254.5h0m-306 560h0m213-287h0m58.5-423h0m216.5 172h0m-563.5-319.5h0m169 243h0m-276.5-199h0m567 507.5h0m-534.5-468h0m466.5 343.5h0m-189-45h0m-236.5-357h0m198 916h0m-222.5-830h0m396 375.5h0m-136-343.5h0m375.5 145.5h0m-493.5-19.5h0m246.5 251.5h0m0-250h0m-26.5-130.5h0m-416-140.5h0m807.5 450h0m-1029-250.5h0m664.5 164h0m125-58h0m-607.5-290.5h0m115 19h0m207.5 375.5h0m165.5-16h0m-412.5-388h0m239 325h0m251.5 107.5h0m-3-137h0m-29.5 172h0m-506.5-412h0m471.5 203.5h0m-191.5 92.5h0m-43-109.5h0m-218.5-160h0m94.5-40.5h0m281.5 358.5h0m-398-278.5h0m543 280h0m113 239h0m-652-661.5h0m394 244h0m-3 165.5h0m-2.5-205.5h0m-11.5 364.5h0m68-74h0m-488-418h0m749 412h0m-420.5-163h0m-38.5 57.5h0m2-69.5h0m76 245.5h0m347-237.5h0m-20-105h0m-588.5-175.5h0m1 86.5h0m308.5 255.5h0m20-207h0m-130-6h0m451 298h0m-496-98.5h0m62 504.5h0m-12.5-519h0m-48 15.5h0m-111-306h0m380 439h0m-516.5-373h0m472.5 20h0m-452.5 93h0m-185.5-31h0m860.5 107h0m-719.5-90h0m298-26h0m-442.5-30h0m677 47h0m176 121h0"/><path stroke="#7B2382" d="M804.5 507.5h0m302.5 601h0m287.5-376h0m116.5-195.5h0m-568-214h0m549 596h0m-598-699.5h0m350 283.5h0m-131 665h0m204-493h0m348.5-22h0m-738.5-408.5h0m-255.5 238.5h0m773.5 381h0m-811.5-475h0m144.5 63h0m894 156.5h0m-906.5-334.5h0m509 534.5h0m240.5-216.5h0m8-63h0m-212 247h0m-510.5-297h0m404.5-74h0m-523.5 70h0m392 631.5h0m188.5-623.5h0m-136.5 709h0m-479.5-751h0m113-168.5h0m555 444h0m-263.5-208h0m72.5 626h0m-18-734.5h0m-208-40.5h0m755.5 345h0m-878-426.5h0m216.5 850.5h0m-112-773.5h0m-208.5 25.5h0m146-110h0m79 6.5h0m730.5 431.5h0m14.5-48.5h0m-407.5 28h0m14 148h0m104-391h0m-158.5-29h0m104.5 245h0m231.5 82h0m-166-58.5h0m-177.5-196h0m-109 120h0m274-183.5h0m179.5 63h0m-270.5-47h0m-91 279.5h0m145-166h0m-441-233.5h0m352 509h0m306-299h0m-258 60.5h0m-423.5-360h0m278 269h0m356 348h0m-132-353h0m-123 207h0m-317.5-369h0m412.5 360.5h0m301-55h0m-349 87h0m-165-202.5h0m194 175h0m-110-271h0m328 103h0m-33.5-37h0m-143.5-19h0m-526.5-130h0m308 778.5h0m193.5-660h0m-175 19h0m-365.5-5h0m448.5 262.5h0m-9.5-165.5h0m132.5-21.5h0m-45 55h0m191.5 293.5h0m141.5-272h0m-476.5 14.5h0m336.5-172h0m-298-38.5h0m-397 60.5h0m375.5-53.5h0m424.5 268.5h0m-445.5-312h0m-465.5 72h0m114.5-21h0m707 442h0m-359-297h0m-50.5 574.5h0m348.5-363h0m125-87h0m-497-278h0m338.5 262h0m92.5 196.5h0m-401.5-504h0m184.5 361h0m57.5-13.5h0m-181.5 21h0m133-159.5h0m-613.5-218.5h0m167 123h0m445 259h0m-137.5-153h0m273-222h0m-92.5 117h0m-212-165h0m227.5 107.5h0m344.5 150h0m-870.5-228h0m683 134h0m-347.5 27h0m-534.5-79.5h0m861.5 110h0m-62.5 97h0m-232 24.5h0m-307-401h0m525.5 448.5h0m112.5-203.5h0m-478 616.5h0m-167.5-885h0m719 425.5h0m-15.5-9h0m-762.5-447.5h0m411.5 154h0m252.5 542.5h0m-643.5-449h0m-156-48h0m587 341h0m38 34.5h0m219.5-284h0m-720.5-229h0m308.5 68h0m274.5 338h0m-236.5-293h0m-140.5-70.5h0m-166 165h0m403.5 58.5h0m-155.5-145.5h0m107 169.5h0m-82 22.5h0m196.5-116.5h0m56.5 350.5h0m122.5-105h0m-31.5 143h0m-117.5-270h0m-532.5-90.5h0m-38.5-24h0m725.5-2h0m-638-134.5h0m-70.5-41h0m269.5 281h0m-240-135h0m302.5 719h0m-332-718h0m298-104.5h0m445 362h0m-7.5 3h0m-434.5 383.5h0m219.5-571.5h0m-236.5 588.5h0m-191.5-873.5h0m729 360h0m-478.5-237.5h0m379 127h0m-1.5 397.5h0m-410.5-300h0m-4-31h0m408.5 134h0m-461-195h0m-194.5-148.5h0m520.5 123.5h0m-757.5-99.5h0m1045.5 210.5h0m-161 156.5h0m-599-450h0m399 451.5h0m-521-297.5h0m-166.5-50h0m1004 228h0m-712-378.5h0m-43.5 132h0m507.5 294h0m-479-438.5h0m522.5 574.5h0m-140-48h0m234.5-227h0m-117.5 130.5h0m-528-295h0m-246.5 70.5h0m407-158.5h0m-162.5-56.5h0m311 367h0m-88.5 505.5h0m64-596.5h0m-337-31h0m-60-185.5h0m618.5 216h0m-197 196.5h0m126.5 69.5h0m-148 332.5h0m214.5-511.5h0m85-84h0m-333 5.5h0m-41.5 79.5h0m228.5 53.5h0m324 65.5h0m44-101h0m-562 556h0m-116.5-10h0m224.5-363.5h0m124.5-183.5h0m166.5 287h0m-220.5-287h0m287.5 98h0m-68-192h0m-262.5-118.5h0m54.5 424h0m-104.5-472h0m-337.5-109.5h0m408.5 314.5h0m379 119.5h0m-394.5-270.5h0m-59-63h0m17.5 409.5h0m-36-195.5h0m266 99.5h0m-188 174h0m22-90.5h0m-205-127h0m-165-355h0m398 308h0m168.5 330.5h0m-235-130.5h0m261.5-320.5h0m-150.5-7.5h0m-566.5-176.5h0m55 233h0m-202.5-103.5h0m649 74h0m-171 138.5h0m-280.5-113.5h0m-51.5-11h0m444 183h0m-169.5-78h0m539 110h0m-800-223.5h0m495.5-96.5h0m115.5 108.5h0m197.5 215h0m-590 410.5h0m-211-863h0m356.5 457h0m-279.5-186h0m780.5 91.5h0m-824.5-382h0m133 60.5h0m318 493h0m-104.5 53h0m35.5-327.5h0m333 213.5h0m-348-150h0m-61-156.5h0m472.5 277h0m-752.5-356.5h0m689 414h0m-398 93h0m346.5-332h0m-80.5 354.5h0m-542.5-568h0m208.5 846h0m442-637h0m-146 15.5h0m77 390h0m-645.5-606.5h0m292.5 316h0m52.5 61.5h0m148.5-34h0m18-106.5h0m333 98h0m-282-70h0m-191.5-218.5h0m35 184.5h0m-24.5 287.5h0m267-415h0m220.5 190h0m-864.5-307.5h0m7.5-58.5h0m879.5 437.5h0m-53 5h0m-353.5-20.5h0m196-221.5h0m176.5 235h0m-787-292h0m435 165.5h0m-285 623h0m643-502h0m-158.5-78h0m-38-123h0m-314 362.5h0m38-396h0m-145.5 185.5h0m17.5 543h0m296.5-686.5h0m253 205.5h0m-247-207.5h0m-508-234.5h0m611.5 646.5h0m-225-315.5h0m-136.5 625h0m491-506.5h0m-484.5-121h0m232-107h0m153 244h0m-41.5-285.5h0m-264.5-52h0m-158.5 230h0m58-31h0m15-54h0m545 162.5h0m-67.5-3h0m-556.5 489h0m25-37.5h0m-153.5-815h0m203 280.5h0m-419.5-96.5h0m486.5 62.5h0m486.5 131h0m-172 180h0m-685-371.5h0m569 221h0m-567-391h0m328 322h0m-313.5-133h0m551 197.5h0m-251-88.5h0m-209-370.5h0m-75 135h0m49-128.5h0m491 327.5h0m-149 130.5h0m-621-298.5h0m349-139h0m287.5 524.5h0m168.5-246h0m-6-27h0m-328.5-88.5h0m-97 724.5h0m-232-887h0m91.5 119.5h0m732 336h0m-942-344.5h0m821.5 536.5h0m-275.5-549h0m-278-139h0m636.5 517.5h0m-730.5-489h0m541 383h0m-540.5-134h0m29.5-187.5h0m348 240h0m236 127h0m-303-20.5h0m260-78.5h0m-92-209.5h0m24.5 25h0m130 512.5h0m-548.5-570.5h0m411.5 360h0m-457-461.5h0m271 352h0m-229.5-238.5h0m738 316.5h0m-62 24.5h0m-542.5 470.5h0m498-272.5h0m4-174h0m-223-254h0m-254 645.5h0m449.5-649.5h0m-249-44.5h0m353 316.5h0m-436-306.5h0m343 132h0m-403.5-170.5h0m302 108h0m-121.5 47.5h0m92 203.5h0m-733.5-349h0m164.5 41h0m643 360.5h0m-201-310h0m164 182.5h0m-89-237h0m178.5 395.5h0m12.5-278h0m-390.5 53h0m223-15.5h0m-68 184h0m-157-350.5h0m-157-164.5h0m739.5 405h0m-851-432.5h0m244.5 154h0m88.5 425h0m256-205h0m-257-38.5h0m-46.5 44.5h0m186-84h0m259.5 139h0m-413.5 24.5h0m-387.5-215.5h0m513.5 146h0m-235-16h0m362.5-213.5h0m-172 290h0m-394-357.5h0m584.5 140h0m108.5 256h0m-456-158.5h0m152 18.5h0m159 233.5h0m-246-75.5h0m-316-381.5h0m290.5 763.5h0m561.5-507.5h0m-35.5 31h0m-411 205h0m-303-606h0m568.5 337h0m-123 106h0m-44.5 9h0m-226-77h0m136 99.5h0m-125-316.5h0m271.5 304.5h0m-524.5-325.5h0m-46.5-138.5h0m818 411.5h0m17.5 49h0m-41-4h0m-53-0.5h0m-509.5-300.5h0m70.5 201.5h0m156-99.5h0m-370.5-182.5h0m254 296.5h0m-69-31.5h0m-265.5-195h0m637 212h0m-388 12h0m30-179h0m578.5 189.5h0m-739 472.5h0m247-561h0m26.5 146.5h0m-89.5-114h0m81-118.5h0m-72 332.5h0m-35-387.5h0m255.5 100h0m-151.5 69.5h0m-37-209.5h0m321 156h0m-227 24.5h0m-209.5 565.5h0m111-469.5h0m335 107h0m-180-202.5h0m-102.5-181.5h0m-79 275h0m-30-183h0m-326-156.5h0m56.5 192.5h0m454 21h0m-370-183.5h0m63 836h0m319.5-570.5h0m76 248h0m-362-245.5h0m-175-93.5h0m220 108h0m-119.5 498.5h0m204-438h0m186.5 24.5h0m-260.5-343h0m-333 130.5h0m320.5 156h0m569.5-17.5h0m-461-83.5h0m136 238h0m355-79h0m-557.5-106h0m215-137h0m39 254.5h0m-66-258h0m-88 171.5h0m41.5-242h0m-107 32h0m-319 62.5h0m417 320.5h0m267-251.5h0m-443.5 78h0m191-208h0m94 258h0m127 164h0m-664.5-357.5h0m-25-30.5h0m868.5 161.5h0m-583-245.5h0m62 67.5h0m342 445.5h0m3.5-285h0m-705-328.5h0m345.5 210.5h0m213 46.5h0m-105.5 11h0m-180.5 666.5h0m436-612.5h0m-402-0.5h0m272-39.5h0m-21.5 190h0m-493.5-495.5h0m206.5 922h0m-37-618.5h0m78.5-188.5h0m-183-40.5h0m406.5 302.5h0m352-13h0m-377-66.5h0m-231.5 70.5h0m618.5 13h0"/><path stroke="#D04371" d="M1699.5 659.5h0m-493 160h0m62-401.5h0m28 340.5h0m-307 389.5h0m-324.5-679.5h0m196.5-136.5h0m499.5 122.5h0m-498-73h0m-11 90h0m-220-97.5h0m644.5 192h0m-103 184.5h0m77.5-248h0m-4-12.5h0m56.5 88.5h0m-144.5 70h0m-63-45.5h0m6.5 7.5h0m-2.5 517h0m149.5-324.5h0m59.5-226.5h0m-12-74h0m205 10h0m-405-33.5h0m232.5 3.5h0m-52.5-44.5h0m-240 718.5h0m648-458h0m-367.5-77h0m-200 5h0m265 26h0m311.5-36.5h0m-598 495.5h0m395.5-645.5h0m7 22h0m-6.5-31h0m-15.5 435h0m49.5-171h0m-891-322.5h0m882 428.5h0m-380-429.5h0m-24 13h0m285 432.5h0m-268.5-226.5h0m-27-239h0m66.5 428.5h0m-526.5-364.5h0m812.5 410h0m-349.5 274h0m237.5-655h0m0 332h0m160.5-322h0m-667-252.5h0m533 270h0m-570.5-215.5h0m857.5 315h0m-486.5 41.5h0m-397-191.5h0m326.5 731h0m433.5-642h0m149.5 165.5h0m-369.5-236h0m-76.5 168h0m-309.5-385h0m379 356h0m328 76.5h0m-78 38h0m-72.5 98.5h0m-492.5 311.5h0m113 62.5h0m-30.5-21.5h0m-100-83h0m57.5 74h0m40.5-65.5h0m-54.5 44.5h0m307-522.5h0m-185.5-206h0m-509.5 2h0m871 304h0m-49.5 106h0m-151.5-228h0m-159.5-186.5h0m-282-27.5h0m244 735.5h0m-175.5-890h0m-234.5 255h0m1007.5 163h0m-386-27.5h0m-249.5 552.5h0m314.5-470h0m18-7h0m-306-295h0m9.5 226.5h0m177 118h0m263.5-23.5h0m-219.5-81h0m21.5-77h0m263.5 90h0m-17.5 44.5h0m-430.5-359h0m32 288.5h0m-145 488.5h0m287.5-566.5h0m-86-102.5h0m-202.5 654.5h0m232-583h0m79.5 15h0m-172.5 242.5h0m-185.5 351h0m198.5-520h0m-40-43h0m-91 564h0m227-601h0m228-69.5h0m139.5 255h0m-374.5-168h0m-33-34.5h0m-95 318h0m135-221h0m233-86.5h0m-281.5-18h0m107.5 18.5h0m-191-172h0m235 115.5h0m-116.5 46h0m-419-31h0m536.5 45.5h0m-45.5 19h0m111.5-90.5h0m-176 338h0m-14.5-184h0m92-48.5h0m-120.5-95h0m164 357h0m-95-411h0m201.5 326h0m21.5-42h0m-419 489h0m337-378h0m50.5-305.5h0m-469 674h0m541.5-433h0m-208-25.5h0m-83.5 125h0m-2-382.5h0m-64.5-19.5h0m301 77h0m-63 287.5h0m-79 39h0m-277-467.5h0m50 440.5h0m186-362h0m167.5 56.5h0m-387.5-171h0m188.5 125h0m117.5 30.5h0m-633.5-216h0m231 272.5h0m225-17h0m140-34h0m-592-252.5h0m847.5 401h0m-345-67h0m-1.5-43h0m-227 638h0m45-575h0m432.5-61h0m-385 129h0m-183-421h0m529 458.5h0m-49-285.5h0m-588.5-153.5h0m650.5 185h0m-281.5-15h0m93 143h0m-203 571.5h0m179-554h0m-61.5-49h0m-415-319.5h0m9 23.5h0m244 367.5h0m302.5-138.5h0m36.5 399h0m127.5-145.5h0m-308-122.5h0m257-53h0m-417.5-138h0m171 279h0m-49.5-254h0m231.5 73h0m-328.5-86h0m360 362.5h0m21 122h0m-42-39h0m-115.5-352.5h0m70.5 300.5h0m-171.5-48.5h0m7.5-332h0m221.5 461h0m60-334h0m-637-302.5h0m424.5 191h0m-12.5 70.5h0m59.5 86.5h0m346 21h0m-436-100h0m-5.5-4h0m-205 570.5h0m67.5-725.5h0m-3 272.5h0m-88 497.5h0m-383-708h0m384.5 683.5h0m346-529h0m83.5 273h0m-491.5 256.5h0m380.5-637h0m-200-71.5h0m188 159.5h0m-141 113h0m175.5 66.5h0m-125.5-209h0m-173.5 625.5h0m340-441.5h0m-267.5-281.5h0m187.5 93.5h0m9.5 38.5h0m125.5 291h0m-49.5-35h0m-385.5-294h0m404.5 329h0m-434.5 237h0m373-529h0m-198 20h0m-5 159h0m519.5-116.5h0m-367 56h0m-35.5 120h0m-466-583.5h0m506.5 262h0m-275.5 13.5h0m36-135.5h0m151 431.5h0m-179.5-306h0m100.5 107h0m263 128.5h0m-188.5-341.5h0m240 457h0m-442.5 259h0m474.5-406.5h0m-77.5-26.5h0m-548.5-262.5h0m242 203h0m-98.5 528.5h0"/><path stroke="#F6735C" d="M1020.5 552.5h0m457-37h0m-397 662h0m377.5-545.5h0m-625-349.5h0m262.5 286h0m167.5 0h0m240-94h0m-351.5 303h0m-43 441.5h0m23-850.5h0m1 249h0m359 191h0m-152.5-362h0m-328 690.5h0m222.5-358h0m42-390h0m-178 204.5h0m-61.5 505.5h0m168-445h0m242.5-20h0m264.5 0h0m-101.5 65.5h0m-709.5-460h0m524 643h0m-165-34.5h0m92.5-306.5h0m285.5 146.5h0m-403.5-308.5h0m-219.5 761h0m-34.5-37.5h0m448-298h0m-464.5 314.5h0m685.5-510.5h0m-597-11.5h0m547.5 47.5h0m-193 24h0m106-139h0m-418.5 0h0m-4.5 643h0m253.5-486.5h0m-21-138.5h0m105 114h0m-165.5 20.5h0m-150-94.5h0m-8 621h0m263.5-670.5h0m75-130h0m220 284h0m-430.5-264.5h0m72 41h0m-69 337.5h0m254 14.5h0m-368 368.5h0m79.5-372.5h0m77.5-64.5h0m-82-337.5h0m165.5 39.5h0m-81 152.5h0m129 200h0m286-131h0m-661.5 471.5h0m237-649h0"/><path stroke="#FDAF74" d="M1042.5 1147.5h0m28-38.5h0m35.5 54h0m412-316h0m-268.5-266h0m226.5 326h0m-327.5-559h0m-1.5 837.5h0m255-348.5h0"/><path stroke="#000004" d="M871 481h0m532 56.5h0m-345.5 602h0m-177.5-763h0m600.5 44.5h0m-690.5 33.5h0m587.5 153.5h0m-589-362.5h0m81 247h0m522 50.5h0m-225 270h0m65-299h0m-367.5-254h0m676 287.5h0m-775-90h0m103-227.5h0m446.5 431h0m-630-191.5h0m751 343.5h0m-192-340.5h0m6.5 194h0m179.5-283h0m-768 18h0m791.5 452h0m-202.5-294.5h0m-22.5 216h0m-325-483h0m-91 13.5h0m484 183.5h0m163.5-49.5h0m-379.5 122h0m243.5 94h0m-332.5-335.5h0m404.5 429h0m262-79h0m-355.5 144.5h0m22-245h0m123 324.5h0m-274.5-168h0m-393-476h0m731 500h0m-384 447.5h0m269.5-599.5h0m315.5 77.5h0m-914.5-364h0m118-70.5h0m326.5 126.5h0m226.5 253h0m-474.5-334.5h0m425 208h0m-252.5 294h0m-223.5-470.5h0m391.5 155.5h0m-15.5 77h0m218.5-14h0m-89.5-147.5h0m-291 387h0m217.5 9.5h0m46.5 65.5h0m-294.5 334.5h0m84.5-805h0m-25.5 92.5h0m-91 142.5h0m475 97h0m-367.5-247h0m156 158.5h0m-213.5-116h0m95-96.5h0m175 330.5h0m-516.5-453h0m558 309.5h0m-301.5-155.5h0m-244-198.5h0m147.5 290.5h0m24.5 15h0m164 44.5h0m-53-153.5h0m120 264h0m-434-424.5h0m-9 12.5h0m258.5 65h0m107.5 386h0m-336.5-440h0m397 94.5h0m83.5 295.5h0m-287-61.5h0m298 73h0m-268-363.5h0m376.5 392h0m-292-278.5h0m-323-191h0m268.5 184.5h0m352.5 147.5h0m-198.5-176h0m-465-66h0m307 225.5h0m520.5 102h0m-137-109.5h0m-366.5-11h0m364-13.5h0m7.5 169.5h0m-197-293.5h0m328.5 278h0m-211.5 155h0m-100-422.5h0m-59-58h0m22 119.5h0m-254.5 96.5h0m106-84.5h0m-312.5-13.5h0m491 197.5h0m-371.5 427h0m26-854.5h0m110 264.5h0m504 134.5h0m-500-302.5h0m-172-86.5h0m480.5 216.5h0m-145.5-4.5h0m-75.5 27h0m75.5-47.5h0m-206.5-117.5h0m-184.5 39h0m409.5-1h0m-498-106h0m279 271h0m457.5-1.5h0m-763.5-278.5h0m725 250.5h0m-202.5 69.5h0m-430.5-347h0m434 132h0m124 129h0m-324 72.5h0m-481.5-192h0m717 196h0m-559.5-71.5h0m332 1.5h0m-244.5-140h0m110.5 747.5h0m-340-691.5h0m661 11.5h0m-480.5 62h0m163.5-222.5h0m180.5 97.5h0m76 4h0m150.5 315.5h0m282-95h0m-456 67h0m-406.5-198h0m874 195.5h0m-284.5-203h0m-410.5 654.5h0m-161-640.5h0m362.5 360h0m-318.5-546.5h0m291.5 518.5h0m-84-416.5h0m188 203.5h0m-163.5 31h0m-281-381h0m524.5 329.5h0m-150.5-212.5h0m86.5 112.5h0m-222.5 630.5h0m20.5 9.5h0m427-675.5h0m-225.5 400h0m132-116h0m-244.5 33h0m129.5-311h0m-417.5-70.5h0m498.5 338h0m-609-421h0m416 241.5h0m22-164.5h0m290.5 178h0m-621-262.5h0m50-47.5h0m434.5 389h0m5.5-44h0m-576.5-270.5h0m81 44h0m600.5 447.5h0m-247-279h0m-439-261h0m531.5 163h0m61.5 418.5h0m-735-386.5h0m241-213.5h0m-39.5 42.5h0m-53 19h0m-31-34.5h0m684 637.5h0m-658.5-606h0m562 349h0m-388.5-392.5h0m112.5 88h0m34 197.5h0m101.5 115h0m-372.5-350h0m362 84h0m-8.5-47.5h0m51 53h0m7.5 153h0m90.5-68h0m-693.5-24h0m222.5-75.5h0m586.5 152h0m-37.5 158h0m-343.5-261h0m35 103.5h0m-231-315.5h0m252 274.5h0m325 30.5h0m-382.5 70h0m-386-207.5h0m740.5 423.5h0m-150-442h0m76.5 383h0m45-301.5h0m18.5 291h0m-187-401.5h0m-67 67h0m-31-30h0m-71.5 729.5h0m199-750.5h0m-582.5 109.5h0m777.5 419.5h0m-449.5 247.5h0m-48-804.5h0m221 352h0m144 32h0m94.5 115h0m-373-277h0m430-48h0m171.5 98h0m-466.5-118.5h0m-94.5 125.5h0m-113.5-354.5h0m184 339.5h0m-177-329h0m-46.5-32.5h0m571.5 618.5h0m-29.5 48.5h0m-8.5-456h0m-621 58.5h0m349-93h0m323.5 318h0m-148 129.5h0m-168.5-410.5h0m426 203h0m-214.5 173.5h0m-50-276h0m-13.5 53h0m-476-228.5h0m745.5 274h0m-847.5-380h0m439.5 121.5h0m10 310.5h0m-42.5-207.5h0m2.5-25.5h0m55-94.5h0m196 169.5h0m-582-247h0m336.5 268h0m-373-280h0m551.5 326.5h0m-543.5-116.5h0m37.5-163.5h0m584.5 528h0m-192-507h0m0 479.5h0m-152-446.5h0m-139-81h0m566.5 239h0m-638-306h0m345.5 584h0m-461-537.5h0m390.5 505.5h0m10.5-7.5h0m-110.5-217h0m193.5-181h0m-97.5 47.5h0m115.5 380.5h0m-188 369.5h0m578-513h0m-441-204h0m-575.5-38.5h0m497 64.5h0m-1 164h0m118-276h0m-156 112h0m-189-166.5h0m-54.5 193.5h0m49.5-209.5h0m230 809h0m167-411h0m-456-425.5h0m6-43h0m599.5 251h0m-574.5-195h0m628 587h0m-61.5-29.5h0m-142-75.5h0m-496-478h0m307.5 200h0m109.5-48.5h0m264.5 68.5h0m-355 129.5h0m207-144h0m-70.5 319h0m152-86h0m-218.5 116.5h0m320.5-301.5h0m-397.5 76h0m153-117h0m9 271.5h0m-119-236h0m-158 12.5h0m576 92h0m2 92.5h0m-401-57.5h0m-362-187h0m605.5 52.5h0m277.5 104.5h0m-191.5-143.5h0m171.5 182h0m-362-272.5h0m-150.5 412.5h0m190.5 24.5h0m-559.5-604h0m328 327.5h0m355-160.5h0m-211-31.5h0m55.5 285h0m316-46.5h0m-319 47h0m-154-242.5h0m-311.5-63h0m259.5 277.5h0m331.5-35h0m-602.5-127h0m660 87.5h0m-8 338.5h0m-160.5-224h0m-430-444.5h0m390.5 141.5h0m-315-142h0m-88.5 102h0m351 468h0m-162.5-465.5h0m391 523.5h0m-556.5-630h0m132.5 362h0m43-258.5h0m58 147h0m-193 631.5h0m394.5-483.5h0m-140-186h0m-14.5 245.5h0m236-243h0m-600-138.5h0m376.5 65h0m-106 86.5h0m330 69.5h0m-270 172h0m39 94.5h0m29-91h0m-217.5 385h0m202-654.5h0m-166 133.5h0m416.5-148.5h0m-434 131h0m-207-254.5h0m66-5h0m463 300h0m-489-261.5h0m-35.5 166.5h0m-41-29.5h0m365.5 364.5h0m13-158h0m-65-154h0m113-147h0m89.5 212.5h0m96.5-102h0m-613-24h0m680.5 439.5h0m-382.5-296.5h0m-195-351h0m567 611h0m2 28.5h0m-615-409h0m419-81h0m420 250h0m-291-142h0m-282-160.5h0m451 330h0m-243.5-128h0m-80.5-94h0m-205 54.5h0m274 11h0m-548-238h0m687 291.5h0m-575.5-314h0m577.5 299.5h0m-215 253.5h0m-411.5-583.5h0m848.5 477h0m-190.5-291h0m-527-147h0m257.5 78.5h0m286 112h0m-420-21h0m-96.5 647h0m687-448.5h0m-435 104.5h0m-553.5-306h0m460.5 64.5h0m-209-207h0m250 396h0m-308.5-463h0m-72.5 59.5h0m-17 202.5h0m847.5 220.5h0m-133.5-162.5h0m-413.5-213h0m385 557.5h0m-410.5-360.5h0m-246-223h0m305 91.5h0m96.5-14h0m-221.5 739h0m463-502.5h0m-577-346h0m750 412.5h0m-444 129h0m-269.5-553.5h0m585.5 193h0m60.5 202.5h0m-699.5-386.5h0m536 410h0m88-222.5h0m-137 41h0m-291 78.5h0m-211-253.5h0m535 168h0m-179-80h0m-148 136h0m14.5-50.5h0m129.5-75h0m-418.5 38.5h0m351 134.5h0m205.5-139.5h0m-197.5-12.5h0m10.5 40.5h0m-500.5-113.5h0m699 169h0m-100.5-119h0m-54.5-31.5h0m16 282h0m10-234.5h0m-440.5-162h0m72.5-51h0m551 244.5h0m52.5-29.5h0m-442 108.5h0m182.5-95.5h0m-416.5-177h0m486.5 378h0m-474-416.5h0m397.5 235h0m-86.5-11h0m41 168.5h0m141 148.5h0m-215-284h0m69.5 175h0m179.5-253h0m-107-56.5h0m-447.5 94.5h0m648.5 236.5h0m-446.5 422.5h0m382.5-676h0m329.5 263.5h0m-711.5-450.5h0m436 238.5h0m-239-79.5h0m-369.5 90.5h0m311 664h0m-1-615.5h0m241-29.5h0m346 153h0m-543 132h0m155.5-44.5h0m-536-504.5h0m418 387h0m-318-422h0m562.5 651.5h0m-484-605h0m215.5 233.5h0m-349-189h0m305.5 278.5h0m290-73h0m-197 121h0m462.5 10h0m-147.5-140h0m-921.5-118.5h0m755.5 221.5h0m-423.5-321h0m180 352.5h0m-4-151h0m-2-35h0m-312.5-93h0m118-106h0m-9.5 4h0m-14.5-13h0m164 130.5h0m607 265h0m-1047.5-240h0m611.5-9.5h0m-323.5-165.5h0m535 219h0m-603.5 38h0m543.5 292h0m-23-87h0m-76.5-138.5h0m256 151.5h0m-380.5 51.5h0m173.5 75.5h0m143-395.5h0m-280.5 393h0m61.5-453h0m-67.5 29h0m-527.5 59.5h0m561.5 240.5h0m469-28h0m-419.5-150h0m-102.5 90.5h0m196.5-38h0"/><path stroke="#7B2382" d="M1312 402h0m-502-137.5h0m122.5 28.5h0m642.5 405h0m-329.5 123h0m4-70h0m160.5-206.5h0m-163 250.5h0m-83.5-429h0m54 308h0m-162 464.5h0m400-310h0m-657-365h0m420.5 170.5h0m-357-300h0m380 181h0m-56.5 312.5h0m-52.5-221.5h0m-254.5-198h0m814 212.5h0m-332.5 130h0m-79.5 52h0m-599.5-327.5h0m629.5 89.5h0m-334.5 559.5h0m-50-895.5h0m409 360h0m-537.5-147h0m20-182h0m668.5 672h0m58-392.5h0m-10-59h0m-149.5 300.5h0m-208.5-427h0m43 260.5h0m-121-173h0m153.5 11.5h0m-161 691.5h0m-304-693.5h0m592.5 228h0m288 14h0m-358-218h0m-277 89h0m350.5-68h0m-705.5-110.5h0m424 261h0m452.5 30.5h0m-61.5-233h0m-71.5 264.5h0m-103.5-295h0m-188 710h0m43-775h0m-65-2h0m105 313.5h0m1-220h0m124.5 214.5h0m-54.5 102.5h0m-81-58h0m97.5 100.5h0m11.5-13.5h0m145 42.5h0m107.5-99.5h0m-304-283h0m249 285.5h0m-177.5-198h0m333 173h0m-351-56.5h0m-124.5-242.5h0m-306.5-126h0m642.5 412h0m-890.5-293h0m511 27h0m26-72h0m314 93h0m-288.5 172h0m132.5-33.5h0m-540-106.5h0m267.5 632.5h0m-267.5-834.5h0m345.5 107.5h0m-262.5 107.5h0m354 88h0m243 225.5h0m-116.5-250.5h0m125.5 319.5h0m-354 310h0m-37-61h0m346-586h0m-145.5-160h0m66 156h0m186.5-25.5h0m94 104.5h0m-265.5 100h0m-34-303h0m-219 803h0m577.5-544.5h0m-228.5-214.5h0m-613-78h0m367 119.5h0m53 43.5h0m-71.5-184h0m-300.5-102.5h0m-91 262h0m573.5-37h0m137.5 100.5h0m-119.5 87.5h0m-605-428.5h0m72.5 174h0m663 78.5h0m-76.5 63h0m-621.5-280.5h0m313.5 854.5h0m462-458.5h0m-272.5-98h0m-35.5 233h0m-25 8.5h0m-225-223h0m63.5 625.5h0m-307.5-967.5h0m577.5 223h0m-361 634.5h0m165.5-611h0m63 295.5h0m-213-203.5h0m402 297h0m-17-406.5h0m-2.5 243.5h0m-256-292.5h0m152 184.5h0m40.5 60.5h0m-566-240h0m403-10h0m68.5 400h0m-108-286h0m-320.5-281.5h0m578.5 427h0m22.5-99.5h0m-375.5 16.5h0m77-19.5h0m402.5-79.5h0m-920.5-122.5h0m870.5 537.5h0m-378.5-435h0m27 709h0m-332-755.5h0m45 73h0m574.5 302h0m236-147h0m-484-222.5h0m130.5 387h0m280.5-104h0m-970.5-322h0m483 221h0m146.5-266h0m79 149h0m-457.5-128h0m775 270.5h0m-874-383h0m301.5 331h0m56.5-16h0m141.5 105h0m110 27h0m-556.5-431h0m440.5 514.5h0m-375.5-563.5h0m209.5 217h0m-264.5 29.5h0m37.5 34h0m454 31h0m-172.5 46.5h0m42 18h0m128.5-68.5h0m-80-153h0m-120 15h0m197.5 265.5h0m250 47.5h0m-269-50h0m-75.5-23h0m120.5 24.5h0m343 23h0m-500.5-25.5h0m352.5 72.5h0m-59-188h0m-809-143.5h0m629 132h0m238.5-32.5h0m-63 71h0m-5.5-48h0m-604.5-250.5h0m831 367.5h0m-364 154h0m161.5-62h0m-464.5 398.5h0m220.5-318h0m275-303.5h0m-739-233h0m47 203h0m482.5 316h0m-454.5-522h0m592 633h0m-645-610.5h0m597 408.5h0m-323-133.5h0m-4-2.5h0m191.5-200.5h0m-266.5 778h0m-192-643h0m499 0h0m-108.5 84.5h0m-131-25.5h0m139-105.5h0m96.5 90.5h0m-137.5 255.5h0m9 30h0m266.5-200.5h0m-319 511.5h0m181.5-356h0m133 114h0m-136.5-466.5h0m-108 58h0m-335.5-247h0m486.5 264h0m-460.5-229h0m425 428h0m45-259.5h0m-180-105h0m71.5 273h0m232-206.5h0m158 277.5h0m-523 522h0m-298.5-980.5h0m488.5 301.5h0m-197 673.5h0m402-703.5h0m24 35h0m-478 644.5h0m-173.5-918h0m289 122h0m284 135h0m114.5 195.5h0m-171.5-224h0m-44.5 164.5h0m59 0.5h0m-294 561h0m-258.5-929h0m530 190.5h0m-430-220h0m340.5 409h0m-183-257h0m-246.5 78.5h0m407.5-50h0m-146-91.5h0m41.5 64h0m483 212.5h0m-247-144h0m-567-247.5h0m-3 236.5h0m571.5 14h0m-373.5 656h0m113-321h0m-127.5-265h0m521 156h0m-85-225h0m207.5 167h0m-559.5-136h0m89 61.5h0m-111-226.5h0m26.5 55.5h0m120.5 3h0m-72 162.5h0m-502.5-192h0m466 14h0m354.5 93h0m-301-145.5h0m-380.5-36.5h0m335.5 829h0m459.5-436h0m-420.5-58.5h0m-405-184.5h0m416 132.5h0m50-54.5h0m159 85h0m-279-32h0m-48 533h0m244.5-325h0m-18.5-20.5h0m182.5-300h0m-609.5-92.5h0m427 40.5h0m88 117h0m-268.5-183.5h0m81.5 229h0m-559-205h0m196.5-141.5h0m594 331.5h0m-106.5-121h0m-439.5-150.5h0m370.5 538h0m-375-516.5h0m320.5 121.5h0m3-64h0m113 155h0m105 143.5h0m120-140h0m-278.5 24.5h0m161-35.5h0m-599.5-275h0m871 442h0m-395.5 112h0m-136.5-361.5h0m147.5-59h0m69.5 146h0m-52-124.5h0m-23 143h0m62 117h0m337.5-14.5h0m-579.5-313.5h0m201.5 420h0m48-31.5h0m-163.5-313h0m-62.5 764.5h0m112.5-359.5h0m5.5-5h0m-484-542h0m638.5 437.5h0m-168.5 71.5h0m90-259h0m51.5-27.5h0m-250-49h0m24-3.5h0m353 429h0m-189.5-252h0m154.5 284.5h0m141.5-282.5h0m-214.5-120.5h0m-103.5 191.5h0m-378.5-419.5h0m317.5 492.5h0m-588-381.5h0m705.5 198.5h0m-26-58h0m-502.5-238h0m619 125.5h0m-606.5-165.5h0m408.5 590h0m93.5-400h0m143 130h0m52 167.5h0m-164-25.5h0m-2.5 62h0m320.5-143h0m-500.5-27h0m511 17h0m-870.5-115.5h0m524.5-69h0m-22 92h0m99.5 350h0m-174.5-369h0m91 183h0m163.5-112.5h0m-137-124.5h0m64.5 384.5h0m-112.5-365.5h0m356 162.5h0m-677-71.5h0m71 557.5h0m269-384h0m362-85.5h0m-69-47.5h0m-1019.5-219h0m749 88h0m-297.5 718.5h0m441.5-653h0m-352-95.5h0m467.5 238.5h0m-605.5 460h0m71 23.5h0m-263-878.5h0m-33.5 153h0m121-135h0m217 290h0m18 53.5h0m-55.5-295h0m-293.5 106.5h0m47-190h0m469.5 264.5h0m169.5 381.5h0m-211-439.5h0m246 245h0m-306-41.5h0m-112.5-304.5h0m225 48.5h0m-279 702.5h0m173.5-751h0m63.5 355h0m109-176h0m-517-236h0m-42.5 168.5h0m60.5-186.5h0m767 333.5h0m-406.5-140h0m16.5 69.5h0m-75-68.5h0m245 102h0m-659-119.5h0m695.5 40h0m-580.5-245.5h0m530 125.5h0m-330 218.5h0m412-78.5h0m-216.5-127.5h0m-318-164.5h0m216 582.5h0m-46-200.5h0m-65.5-201.5h0m-282.5-142.5h0m-135 201h0m146 32h0m879.5 125h0m-21.5 28.5h0m-418-274h0m-284-121.5h0m302.5 262h0m-364-260.5h0m272 139h0m-328.5-65.5h0m479.5 455h0m-539.5-318h0m584.5 46h0m28 327.5h0m-479-525h0m144.5 773.5h0m176.5-328h0m37.5-19.5h0m-63.5-91.5h0m311.5-181h0m-469.5 625h0m-165.5-771.5h0m67-63.5h0m442 240.5h0m101 375.5h0m-249.5-101h0m249.5-250.5h0m-162.5 219h0m20.5-72.5h0m-185-79h0m207-104h0m-110.5-96h0m-123.5 131.5h0m-6 127.5h0m377-109.5h0m-333 22h0m-274.5-289.5h0m98.5 817.5h0m-254-640.5h0m252.5 679.5h0m181.5-729h0m-67.5 168h0m-270.5-92h0m664.5 24.5h0m-360 23.5h0m252.5-48.5h0m228.5 126h0m-402 160.5h0m-77.5-416h0m336 479h0m-169-251.5h0m321 35h0m-477.5 128.5h0m-251-512h0m261 138h0m-48.5 265h0m-169-399.5h0m-128 65h0m262 87.5h0m-219.5 8h0m657.5 101.5h0m-183-35.5h0m13 13h0m150.5 102.5h0m-323.5 236.5h0m-302-493h0m581.5 532h0m-58.5-346h0m-88 2h0m63.5 330.5h0m-42.5-310h0m-87-11.5h0m-32 11.5h0m-62 60.5h0m-207.5-313h0m648.5 401.5h0m-480.5 465h0m368.5-644.5h0m182 161.5h0m-503.5 146h0m185.5-53.5h0m-220 424h0m27.5-726.5h0m-28-41h0m544 253.5h0m-684.5-389h0m79 308h0m12.5-71h0m-163-220.5h0m595 437h0m-260 89h0m-206.5 298.5h0m179-697h0m-436.5 5h0m392-24h0m-40 416h0m90.5-386h0m-332-215h0m537.5 189.5h0m-182-10h0m-124 195.5h0m-255-319h0m586 310.5h0m8-22.5h0m-330.5 37h0m326.5-49h0m-332.5-109.5h0m-251-183.5h0m664 392h0m-706.5-278h0m531 340h0m-541.5-234.5h0m513.5 263h0m-162-144h0m-316-247.5h0m689 334.5h0m-286.5-226.5h0m430.5 189.5h0m-668.5-135h0m-236.5-195.5h0m44.5 63.5h0m680 330h0m-364.5-4h0m304.5-212h0m-221-16h0m-95.5 352.5h0m-325.5-370.5h0m364 309.5h0m28-368.5h0m141.5 301h0"/><path stroke="#D04371" d="M1039 1115.5h0m11-518.5h0m400 289h0m-187-352h0m176.5-89.5h0m-636-188.5h0m2-1.5h0m297 884.5h0m156.5-358.5h0m-290 339h0m-155-810.5h0m469 281h0m-217 566h0m-269-714.5h0m608.5 276h0m68.5-304h0m170 265h0m-600-96h0m290.5 46.5h0m-25.5-153h0m-681-61h0m880.5 491h0m-261.5-525h0m23.5 169h0m-112-171h0m359 326.5h0m-523 431h0m-192.5-633.5h0m896.5 89h0m-477.5 225h0m-40-239.5h0m108.5-77h0m89 51.5h0m-282.5 626h0m13 13.5h0m103-618.5h0m43.5-34h0m275.5-43h0m-434.5 43h0m406 298.5h0m-498.5-593.5h0m421 557h0m-22.5 22.5h0m-165.5-386.5h0m188 365h0m50.5-245h0m7 274.5h0m-200-52h0m90.5-279h0m-24-33h0m122.5 361.5h0m-160-379h0m-58-41h0m221 129h0m-140 59h0m-274-37.5h0m-439.5-145h0m540.5 337h0m-129 358h0m136.5-566.5h0m322 295.5h0m-392.5 261h0m413.5-636h0m-389.5 117.5h0m-294-267.5h0m425 246.5h0m-136 558.5h0m252-558h0m-305.5 30h0m422.5-140h0m-651.5 30h0m423 18.5h0m237 326.5h0m-453.5 316h0m128-329.5h0m99-387h0m95.5 225h0m-69.5 127h0m206-237h0m25.5 182h0m-169.5-219h0m-136.5 176.5h0m-31 83.5h0m139.5-219.5h0m-123-30.5h0m-90 58.5h0m464 151h0m-336-281h0m-62.5 381.5h0m507-161.5h0m-788-409.5h0m526 413.5h0m-274-185h0m138.5 286.5h0m9.5-44h0m-167.5 404.5h0m-286.5-891h0m503 344h0m-575.5-292h0m462.5 189.5h0m-431-39.5h0m86.5-170.5h0m584 557.5h0m-362 303.5h0m-12-766h0m170.5 479h0m-466.5-606h0m413.5 109.5h0m161.5 503h0m-495.5-585.5h0m659.5 458h0m-759.5-239.5h0m735.5 70h0m-374.5-182h0m-62 188.5h0m92 189.5h0m91-346h0m-29.5 30.5h0m97.5 270.5h0m-273.5-148h0m-180.5-289.5h0m236 368.5h0m220.5-136h0m16 49h0m-47-136.5h0m25 167.5h0m-160 205.5h0m372.5-245.5h0m-162 321h0m-40.5-355h0m-94 335.5h0m102-306.5h0m-320.5-198h0m5 790.5h0m338-643.5h0m10.5 360.5h0m-261-475h0m6.5 250h0m214 148h0m-154.5-353.5h0m88.5 1h0m372 277.5h0m-211.5-301.5h0m-535-27.5h0m262.5 225h0m-129.5 580h0m-216.5-916h0m577.5 575h0m-39-294h0m-115.5 8.5h0m-278 572h0m-98-712.5h0m374 296.5h0m-165 414.5h0m12.5-684h0m298 307.5h0m-244-95h0m291.5 190h0m-511.5-605.5h0m86 915.5h0m226-791.5h0m-174.5 241.5h0m-421-140.5h0m315-130h0m409 248.5h0m-204.5-46h0m100 33.5h0m-182.5 611h0m182.5-419h0m-246 381.5h0m663.5-497h0m28.5-32h0m-395 6.5h0m63-10.5h0m18.5 82.5h0m-47.5-86h0m344.5 51.5h0m-621.5-47.5h0m444.5 113h0m72-48.5h0m-235.5-75.5h0m94.5 250.5h0m-82.5-108.5h0m-20-192.5h0m-92.5 40h0m-199 521.5h0m623-486h0m-581-22.5h0m158.5-142h0m92 28.5h0m186.5 11.5h0m-270 99.5h0m-6-123.5h0m-184.5 128.5h0m333 160h0m-360.5 412h0m40.5-564.5h0m184 165h0m387.5-99h0m-404.5-257.5h0m-110.5 173.5h0m-244-256h0m477.5 346h0m223.5-13h0m-116 225.5h0m222.5-264h0m-483 208h0m103-18.5h0m361-135.5h0m-821-326h0m556.5 335.5h0m-289.5 432.5h0m191.5-607h0m143.5 348.5h0m-400.5-289.5h0m-72.5 584.5h0m336-644h0m-340.5 613h0m280-659.5h0m-130.5 79.5h0m315-38h0m29 415h0m-652-436h0m544.5 223h0m94 100h0m229.5-159h0m-615-146.5h0m249 35.5h0m82.5 273.5h0m42.5 94.5h0m72-13.5h0m-310.5-378.5h0m230.5 336.5h0m-335.5 360h0m401-746h0m-94 364.5h0m-20.5-352.5h0m291 219h0m-563.5 453.5h0m463.5-466h0m-431.5-118.5h0m-171.5-295h0m335 234h0m-171-32h0m-464.5-64.5h0m459 785.5h0m165.5-589.5h0m-3.5-86h0m-64 260.5h0m460.5-111h0m-325-209h0m-42.5 33.5h0m4-15.5h0m-16 140h0m-267 530.5h0m259-584.5h0m-191.5-144.5h0m249 129.5h0m-219 119.5h0m43 98h0m64-301.5h0m86 85h0m-1 25.5h0m-461-302.5h0m379.5 558h0m-22.5-332h0m456 101.5h0m-535 49.5h0m-206-402.5h0m391.5 209.5h0m-73.5-30h0m-238.5 738h0m164-490h0m516 13h0m-656.5 498h0m262.5-414h0m1.5-319h0m338.5 218h0m-337.5-187.5h0m76.5 352h0m-140-453h0m-2.5 303h0m-65.5-253h0m-101 748h0m580-570h0"/><path stroke="#F6735C" d="M1076.5 1123.5h0m293.5-562h0m173.5 157h0m-129-250h0m-317.5 82h0m416.5 306h0m-294-31h0m464-201h0m-491.5 88.5h0m216-50h0m-206-14.5h0m-154.5-77h0m21.5 10.5h0m286 77h0m-547-213.5h0m342-33h0m370 46.5h0m-439.5-88h0m622 301h0m-593.5-150.5h0m327.5 363.5h0m-57.5-189h0m-129-264h0m-140.5 783.5h0m293.5-389h0m100 1.5h0m-479 275h0m684-441h0m-364-145h0m-133-107h0m46.5 379.5h0m351.5-94h0m-413.5-283.5h0m-84.5 762h0m366-349.5h0m-101-269.5h0m98.5 310h0m-209-371.5h0m33.5 155h0m116 177h0m-263-220.5h0m218 93h0m-54-143.5h0m-17.5 23.5h0m106.5 124.5h0m-362 444.5h0m326.5-699h0m114.5 451h0m-418.5-487h0m246.5 155h0m-225.5 623.5h0m633-528h0m-46 40.5h0m-389.5 87.5h0m-13 35h0"/><path stroke="#FDAF74" d="M1022.5 1098h0m487.5-276h0m-403.5 354h0m332-329.5h0m84-15.5h0m-89.5 3h0m-47.5-152.5h0m122.5 218.5h0m-397 274h0m-109.5-38h0m419-327.5h0m-446.5 321.5h0m101-31h0m-13.5-0.5h0"/><path stroke="#000004" d="M1360.5 442h0m-59.5-32h0m-488 55h0m623-29h0m-156 285h0m-447-428h0m230 851.5h0m283-645h0m0 156h0m-90.5-30.5h0m-404-120h0m406-102h0m-30.5 180h0m-430-288.5h0m-111 101.5h0m623.5 53h0m-44.5 293h0m-457.5-429.5h0m475.5 491h0m9-267h0m32.5 208h0m158-203.5h0m5 23h0m-67 319.5h0m86.5-411h0m-398.5-110h0m536.5 307h0m-371.5-187.5h0m43.5 85h0m-218 576h0m237-592.5h0m87.5 174.5h0m-279.5-292.5h0m-518-18h0m909.5 125h0m-733-98h0m48.5-143h0m821 369h0m-494.5-86.5h0m-104-103h0m297 184h0m65.5 0.5h0m-74-216h0m-472.5-220h0m588.5 284.5h0m-439 44.5h0m496.5 14.5h0m-289.5-99h0m-168-127h0m400.5 535.5h0m-403.5-348.5h0m121.5-43.5h0m-225.5-226.5h0m377 171h0m-243.5 789.5h0m223.5-693h0m-375-284h0m104 268.5h0m597.5 108.5h0m-89.5 116.5h0m-749-277h0m654 66h0m-841.5-80h0m715 213.5h0m68.5 139h0m-208.5-309h0m-541.5-109h0m188 105h0m335 153h0m-404-185.5h0m97.5-175.5h0m580.5 604h0m-640.5-607h0m297.5 171.5h0m296.5 336.5h0m-91-287h0m127.5-106.5h0m-581-12h0m438 176.5h0m-455-322.5h0m840 363h0m-510.5-256.5h0m17 211h0m454 161h0m-492.5-281h0m364.5 409h0m-53.5-384.5h0m-393.5 721h0m156.5-792.5h0m-335.5-53h0m329 189h0m323.5 192h0m-114 164h0m-643-636.5h0m715 593.5h0m-44 85.5h0m-205-83h0m-90-397.5h0m353.5 410h0m35-134.5h0m-625-458.5h0m682.5 457.5h0m-446.5-205.5h0m116-144h0m42 70.5h0m-99 118.5h0m5 146h0m-64.5 43.5h0m91-342.5h0m-322-116.5h0m-147.5 155h0m680 424h0m-155-423.5h0m-483-159h0m309.5 388.5h0m-80-124h0m-230-313.5h0m-21.5 84h0m490 325h0m7-41.5h0m-304.5 551.5h0m386-395.5h0m-371-201h0m-54-308.5h0m201 428h0m317 240.5h0m-58.5-533h0m16.5 510.5h0m-570-504h0m209 11h0m98.5 383h0m30-38h0m114.5 72h0m-486.5-315h0m478.5-55.5h0m-416-97.5h0m530 141h0m-565-218h0m457.5 316h0m84.5 208h0m-74.5-165h0m-411.5-338.5h0m483.5 294h0m-470.5-310.5h0m385.5 522.5h0m200.5-217h0m120.5 33h0m-155 228.5h0m-636.5-515h0m697.5 408.5h0m-236-244h0m-239-144.5h0m153.5 354.5h0m-351.5-295h0m-254.5-6h0m280-154.5h0m404.5 468.5h0m235.5-165h0m-298-31h0m449 165.5h0m-745-383.5h0m315 539.5h0m-54.5-449.5h0m495 302.5h0m-1077.5-282h0m720 379.5h0m172.5-60.5h0m-177.5-193h0m323 142.5h0m-592-172h0m255.5 307h0m-649.5-439.5h0m485 300h0m-50-276.5h0m351.5 231h0m-113 160h0m25-314h0m-478-249.5h0m444.5 233.5h0m-462-40.5h0m298-10.5h0m58.5-55.5h0m-45.5 161.5h0m266 114.5h0m257 49.5h0m-552-221.5h0m285.5 0h0m-241.5 209.5h0m41.5 142h0m201-199.5h0m-515-320.5h0m191.5 878h0m133-807h0m-245.5 763.5h0m607.5-452.5h0m-389.5-78.5h0m84.5 154h0m201.5-295.5h0m-674.5 47.5h0m406 235h0m259-179.5h0m-289.5-22h0m-56 19.5h0m-333.5-39.5h0m695-60h0m-731 2.5h0m891.5 138.5h0m-384 128h0m-594.5-250h0m192-98h0m257-30.5h0m-10.5 295h0m53-33h0m137.5-38.5h0m-239.5-186h0m208 164.5h0m-502-56.5h0m664-38.5h0m-253 327h0m83.5-359.5h0m-154.5 27.5h0m-341-4.5h0m467-49.5h0m386.5 278h0m-153-216h0m-708-144.5h0m712 188.5h0m-57 359.5h0m-69.5-75.5h0m46.5-93h0m-351.5 427h0m52-752h0m-285-54h0m336.5 509.5h0m-15-25h0m-110-272.5h0m72-137.5h0m-82.5 192.5h0m281.5 157.5h0m-18-113.5h0m-442.5-381.5h0m359.5 258.5h0m228 384.5h0m-437.5 224h0m-159-761h0m130.5 758.5h0m133-756.5h0m129.5 77.5h0m-295.5-186h0m176.5 149.5h0m-256-158.5h0m468.5 580.5h0m260-133h0m-780-164h0m447.5-141h0m-175.5 171h0m181.5-171h0m208 502h0m-349.5-513h0m-217.5-132h0m128 910.5h0m306-318.5h0m16.5-297.5h0m-498-123h0m424 436.5h0m144.5-139h0m-49.5-129.5h0m-517.5-215.5h0m400.5 237h0m36.5-219h0m-202.5 804.5h0m-284.5-904.5h0m434 303.5h0m-362-206.5h0m466 369h0m-171-275.5h0m-25 127h0m-208.5-331h0m328 465.5h0m208.5 81.5h0m-789.5-317.5h0m465.5 87.5h0m298 3h0m-197.5-200h0m-204 208h0m266 9h0m-102-1h0m-86.5-56h0m530.5 113.5h0m-547 13h0m-255-297h0m290.5 290.5h0m216.5-103.5h0m80.5 309h0m-326.5-275h0m89-40h0m177.5-94h0m-407-211.5h0m-345.5 186.5h0m0-10h0m811.5 494.5h0m118.5-249.5h0m-220-158.5h0m20 278h0m-65.5-341h0m62 8h0m15 287.5h0m93-194.5h0m-819-141.5h0m485.5 186h0m155.5-198.5h0m412.5 219.5h0m-404-186.5h0m-196.5 173h0m466.5 131h0m-751.5-449h0m668 166h0m-683-200.5h0m52 143.5h0m600.5 238.5h0m68.5-159h0m7 15.5h0m-198.5 55h0m-407-254h0m7.5 13.5h0m212.5 271h0m353.5-114h0m-242.5 138h0m-420.5-296.5h0m0-45.5h0m642 347h0m-660-231h0m394.5 476.5h0m308-126.5h0m-413-212.5h0m-329-194.5h0m546 138.5h0m-415-165h0m-20 4.5h0m425.5 319h0m158-152.5h0m-544-169h0m411 561h0m111-205.5h0m-124 31h0m-90.5-228h0m-58 36.5h0m26 50.5h0m-56 248h0m44.5-48.5h0m101.5 60.5h0m155 89h0m21.5-448h0m-701.5-85h0m636.5 350.5h0m-135.5 87h0m98-219.5h0m-220.5 44.5h0m-222.5-311.5h0m307.5 391h0m-163-272.5h0m-218 71.5h0m561.5 371.5h0m-475-587h0m402.5 492.5h0m-275.5-401.5h0m15 42h0m-260-137h0m43.5 11.5h0m194.5 68h0m223.5 53h0m107.5 142.5h0m-584.5-168.5h0m445 164h0m-435.5-298h0m650.5 634.5h0m-356-252.5h0m45.5 79h0m130.5 140.5h0m246.5-274.5h0m-164.5 21.5h0m-454.5-357.5h0m314.5 362.5h0m-157.5-78.5h0m-201.5-136h0m-111 78.5h0m123.5-192h0m351 112.5h0m-344-94.5h0m573.5 308.5h0m-692-306h0m464 60.5h0m-346.5-78h0m-49.5 247.5h0m554.5 41.5h0m-566-88h0m359 155h0m-70.5 7.5h0m-135.5 469h0m700-479.5h0m-363-227.5h0m-164 78.5h0m111.5 268.5h0m147.5-224h0m-410 639h0m592-417.5h0m-710.5-223h0m195.5 674h0m300.5-718.5h0m-424-218h0m321.5 244h0m245 62.5h0m-25.5-93.5h0m16.5 436.5h0m-316.5-227.5h0m-412.5-189.5h0m134.5-256.5h0m427.5 513h0m-475.5-414.5h0m256.5 824h0m49.5-649h0m287 116h0m-294 98h0m287 175h0m21.5-476h0m-291.5 119.5h0m-52 106.5h0m16.5-263h0m-7.5 72.5h0m172.5 47.5h0m239.5 231h0m-934.5-279h0m625.5 170h0m-406-113h0m367.5 330.5h0m-149.5-281h0m238.5-3.5h0m240.5-42h0m-232 307h0m108.5 32h0m-526-442.5h0m-115.5 63.5h0m549.5 282h0m197-29.5h0m-444-364h0m66 158h0m547 134h0m-331.5 62.5h0m332-20h0m-247.5-233h0m228.5 192.5h0m-387-199.5h0m71 70.5h0m-126.5-67.5h0m-589.5-62.5h0m56 31.5h0m515 243h0m294.5-183.5h0m-589.5-184.5h0m-28 60.5h0m111-76h0m374 451.5h0m87.5-102h0m-233 40.5h0m-355-285.5h0m307.5-2.5h0m520.5 237h0m-525.5-146h0m-371.5-182.5h0m813.5 397.5h0m-804-219.5h0m556 228h0m-10-3.5h0m-189.5-360.5h0m296 121.5h0m16.5 54h0m-613.5-270h0m555 150h0m-315.5 248h0m148.5-264.5h0m-180.5 193.5h0m153.5-111h0m-369.5 23h0m826.5 169.5h0m-611-272.5h0m449 212h0m-671.5-205.5h0m637.5 32h0m-325.5 229h0m-360.5-364.5h0m670.5 323h0m43-119.5h0m-291.5 85h0m-342-165h0m6.5-107.5h0m402.5 81h0m-470-106.5h0m465 518h0m149-109.5h0m-158 102.5h0m-480.5-347.5h0m-67 8.5h0m590.5 132.5h0m64.5 163h0m-167.5-142h0m40.5 194.5h0m30-251.5h0m-182 47.5h0m301.5-113.5h0m17.5 413h0m-198-485h0m-339-146h0m593 286h0m-190-99h0m174.5 152.5h0m-170.5 9.5h0m-219-141h0m-9-40.5h0m183.5 350.5h0m-92.5 0h0m286.5-363h0m-615.5-131.5h0m848 412h0m-344-280h0m-87 139h0m397 153.5h0m-341-235h0m-679-62.5h0m450 172.5h0m-265-113h0m704 282h0m-124.5-243.5h0m-534.5-217.5h0m733 449.5h0m-60.5 158.5h0m-703-376.5h0m227.5 35.5h0m-152.5-280h0m-37 122.5h0m470 292.5h0m-546.5-439.5h0m472.5 496h0m-207.5 400h0m166-675h0m243.5-71h0m-326.5 718h0m86-638h0m-117.5 118.5h0m-151.5-330.5h0m-265.5 137.5h0m749 467.5h0m-557.5-577h0m596.5 316h0m23 314.5h0m-103.5-272h0m-112.5-82h0m-74.5-129h0m80.5 309.5h0m-398-370h0m-91-97h0m300 845.5h0m-211-749h0m-70.5-110h0m605 271h0m-78-96h0m-191.5 347.5h0m-15-444h0"/><path stroke="#7B2382" d="M1125.5 646.5h0m234.5-166.5h0m-41 31.5h0m-486.5-23.5h0m440-78h0m8 121h0m-181.5 679h0m177-796h0m28 6h0m-2.5 303.5h0m-402-454.5h0m548 327.5h0m40-129h0m-428 113.5h0m402.5 307h0m37-143.5h0m-605.5-374.5h0m122.5 767h0m-45.5-30.5h0m349-505.5h0m129.5-82h0m-72 211h0m-756-331.5h0m553.5 190h0m64.5-161h0m-97.5-6h0m380.5 464.5h0m-169-185.5h0m-102.5-125.5h0m229 244.5h0m-189.5-63.5h0m-180.5 434h0m406.5-355.5h0m-223.5-199.5h0m-21-187.5h0m26-74h0m15 322h0m373-54.5h0m-448-181.5h0m-456-209h0m39.5 255.5h0m539.5 102h0m-215-36h0m192.5 190.5h0m-511-253.5h0m512 90h0m257.5 135.5h0m-566 395.5h0m629-496h0m-773.5-266.5h0m186 797h0m140.5-419h0m266-173.5h0m-624-224h0m472.5 276.5h0m-231-44.5h0m133-233.5h0m175 145h0m-615.5-226h0m474.5 468.5h0m-398-437h0m748 401.5h0m-389-273h0m291.5 117.5h0m83.5 138h0m-752-417h0m683.5 443.5h0m-351-312.5h0m-89.5-38.5h0m-239 116.5h0m425 118.5h0m121.5-70h0m-12 198.5h0m-187-99h0m-31-221h0m531 199.5h0m-668 507.5h0m-171-782h0m397.5 264.5h0m288 114.5h0m-244 56.5h0m11.5-286h0m-383.5-219h0m628 455.5h0m-673-491.5h0m500 329.5h0m258.5 106h0m-353.5-77h0m351 72h0m-559-170h0m171.5 294.5h0m-189.5 350h0m256.5-406.5h0m312-30.5h0m-14-18h0m-91 70h0m-750.5-473.5h0m5 18.5h0m126-3h0m355.5 510.5h0m-405-561.5h0m673.5 242h0m-14 68.5h0m-280-32.5h0m368.5 189h0m-110.5-279h0m-63.5 443.5h0m-107-300h0m-120.5-167.5h0m-67.5 199h0m552 56h0m-808-365.5h0m396.5 478.5h0m39.5-261h0m-381.5-267.5h0m-312 161.5h0m1040.5 307h0m-496-51h0m-32-49.5h0m-266-203h0m437.5 154.5h0m267.5 119.5h0m-369 121.5h0m394-137h0m-64-155.5h0m-710.5 6h0m345 258.5h0m-314.5-507.5h0m492 427.5h0m-496-225h0m792 231.5h0m-354.5-237h0m-521-170h0m-17 65h0m119 25.5h0m-49.5 70.5h0m100.5-182h0m242 368.5h0m347.5 213h0m-721.5-400h0m11-4h0m823.5 183.5h0m-368.5-21.5h0m-83.5 195.5h0m-266.5-541.5h0m385.5 274h0m23.5-132h0m-26.5 58h0m-118.5 163.5h0m-259-290h0m563 159.5h0m-162 308.5h0m-54.5-295h0m100.5 198h0m50 130h0m-258.5-381.5h0m-277.5-59h0m658.5 155h0m-728-53h0m382 88h0m485.5 117.5h0m-823.5-396.5h0m706.5 363.5h0m-349.5-17h0m-371-424h0m143.5 107h0m334.5 118h0m-130.5-39h0m-500.5-15.5h0m405.5 187.5h0m-269.5-118h0m563 258.5h0m-73-49h0m-182.5-273.5h0m234 319.5h0m-371.5 383h0m321.5-697h0m-78.5 187.5h0m-352.5-193.5h0m276 188h0m-278-250h0m-14.5-54h0m528.5 558h0m-507.5-568h0m-7 236.5h0m460.5 85.5h0m49.5 249h0m-505-462.5h0m445 161.5h0m147 276h0m-292-252h0m71.5 242.5h0m434.5-137.5h0m-534-309.5h0m-516 41h0m799 262h0m245 31.5h0m-206-284.5h0m50.5 86.5h0m-376-149.5h0m376 390h0m-577-455.5h0m510.5 512h0m-139.5-350.5h0m179.5 392h0m-232.5 6.5h0m156.5-156h0m-603.5-219h0m-17-23.5h0m167-131h0m181 34.5h0m-32 46h0m-303 47h0m537.5-11.5h0m-245-37h0m429.5 114h0m-136.5-4.5h0m-251.5 89h0m174-93.5h0m167 50.5h0m-577-318.5h0m-84.5 274h0m509.5-42.5h0m-187 147h0m-281.5-294.5h0m-35.5 161h0m481.5 61.5h0m-90.5-186.5h0m20.5 473h0m184-2.5h0m-552-553h0m802.5 380h0m-208-114.5h0m-159-83.5h0m171-33h0m-39 461h0m-295.5 243h0m116-773h0m-441.5-68.5h0m32 190h0m799.5 153.5h0m-359.5 109h0m-349.5-444.5h0m513.5 321.5h0m-36.5 121h0m-282-223.5h0m-328.5-209h0m25.5 206h0m31.5-256h0m11 35.5h0m255 371h0m233 82h0m146.5-183h0m-134-69h0m107.5-11.5h0m178.5 199.5h0m-131.5-152.5h0m-677.5-262h0m323.5 99h0m476 332.5h0m-715.5-454h0m345 492h0m-409-320h0m-39-183h0m671.5 360.5h0m-463 531.5h0m-163.5-841.5h0m174 295.5h0m68.5-146h0m63-80.5h0m-359.5 164h0m470.5 20.5h0m268.5 136.5h0m-920.5-242h0m698 319h0m75-13h0m-58-199.5h0m13.5-67.5h0m282.5 180h0m-1039-245h0m706 218h0m-433-376h0m120 306.5h0m82-121h0m-7.5 736.5h0m-43-587.5h0m432 332.5h0m-349-257.5h0m23-217h0m-1 4h0m-364-187.5h0m542 227h0m37 205h0m179-165.5h0m-680-143.5h0m294 303.5h0m-263.5-443h0m463 319h0m139.5-22.5h0m-248.5-162.5h0m-167.5 231h0m-198.5-293.5h0m-26.5 188.5h0m-22.5-174h0m186 12h0m635.5 308.5h0m-560.5-113.5h0m385-18.5h0m-36 378h0m-387.5 246.5h0m102-733h0m308 96h0m137.5 201.5h0m-830-225.5h0m606 111h0m-92.5-152.5h0m393.5 218.5h0m-265 210h0m-114.5-75.5h0m6-237.5h0m148.5-127.5h0m-61.5 282.5h0m-23.5 36.5h0m-56-81h0m-190-99h0m-318.5-321.5h0m328 163h0m-20-44.5h0m-56 200.5h0m330.5-65.5h0m-242.5 159h0m-516-241h0m858 464.5h0m-411 238h0m613.5-424h0m-915-425.5h0m110.5 82.5h0m611 568h0m-170-414h0m200 387.5h0m-571-598.5h0m584 402h0m21.5 4.5h0m-237.5-186h0m-123 109h0m-337.5-123h0m482.5 136.5h0m47.5-134h0m-490-236.5h0m572.5 590h0m-111.5-416.5h0m156.5 294h0m-140 53.5h0m-586.5-300.5h0m615.5-20.5h0m110.5 408h0m-90.5-131.5h0m-589.5-492.5h0m547 506.5h0m-50.5-250h0m-254.5-20h0m27.5 82h0m-317-320h0m254 918h0m-182-751h0m24.5-7.5h0m641.5 88.5h0m-20 220.5h0m-667.5-471.5h0m249.5 178.5h0m569.5 193h0m-791.5-125.5h0m3-239.5h0m496 397.5h0m-492-241.5h0m247 786.5h0m362-759.5h0m-256 100.5h0m-1.5-57h0m91.5-5.5h0m23 322h0m-42.5-296h0m204 64h0m-697-306h0m126.5 11.5h0m727 384h0m-210-87.5h0m74.5-25h0m-428.5-32.5h0m68.5 130h0m64 60.5h0m-31.5-264.5h0m-199.5 726h0m163.5-509h0m216 82.5h0m285.5-98h0m-866-362h0m682.5 338.5h0m-126 86h0m-516.5-347h0m-14.5-59.5h0m247.5 62h0m69.5 256h0m48.5 197h0m-45-273.5h0m-339.5-51.5h0m455-47.5h0m-43-47.5h0m-332-18.5h0m396.5 206h0m-423-239h0m580.5 516.5h0m118.5-144.5h0m-700-444.5h0m115.5 39h0m536.5 283h0m-870.5-121.5h0m597-46h0m-17.5 244.5h0m-102-123.5h0m-38-153h0m222.5 112h0m351 197.5h0m-335-258.5h0m172 118h0m-596.5-136.5h0m602 192.5h0m209 39h0m-2.5 38.5h0m-240.5-193h0m-435.5 662h0m132.5-374h0m213.5-98.5h0m-235.5-72.5h0m-254-381h0m234.5 995h0m-275-934.5h0m124 836.5h0m-112.5-868h0m667 299.5h0m-457 7.5h0m310-25h0m-448.5-280.5h0m766.5 389.5h0m-658.5 462h0m66-510.5h0m68.5-166.5h0m-326-165h0m-173 108h0m512 17.5h0m177.5 245h0m-117.5-108.5h0m-106.5 126.5h0m112.5-95h0m-293-309.5h0m72.5 857.5h0m339.5-375.5h0m-503-227h0m687 234h0m-110.5-294.5h0m-271-106.5h0m-3 465h0m77.5-215.5h0m-149.5-244h0m-262-76.5h0m252.5 325h0m50 569h0m-345.5-712h0m785 285.5h0m-682.5-344h0m676.5 287.5h0m86 22h0m-138-212h0m-385 102.5h0m-368.5-308h0m805 457h0m-441-196.5h0m15 117h0m292.5 214h0m-355-312h0m243-83.5h0m-125.5 285h0m-243.5-434h0m391 257.5h0m-122.5-141.5h0m346.5 246.5h0m-321.5 137.5h0m66.5-238.5h0m-100.5-179.5h0m-267-141h0m241 297h0m488 125.5h0m-192.5 175.5h0m-53-479.5h0m-56 349h0m-312.5 411h0m-46.5-592h0m248.5 113h0m41.5-182h0m-533.5-201.5h0m528.5 299.5h0m-197-4.5h0m-266.5-316.5h0m491 275.5h0m-539-286h0m635 228.5h0m-9.5 242h0m-516-399h0m254.5 111.5h0m-262.5-162h0m207 74h0m615 276.5h0m-48 48.5h0m-340.5-266.5h0m-118-51.5h0m-66 210h0m162 214.5h0m-463.5-476.5h0m1.5 157.5h0m362.5 333h0"/><path stroke="#D04371" d="M1246.5 440.5h0m-258 679h0m275-383h0m80.5-262h0m39.5 20h0m-26 48.5h0m95 290h0m-292.5-71h0m112-371.5h0m-99.5 391.5h0m-156.5 373h0m373-418.5h0m-118-116.5h0m-127.5 6h0m38 74.5h0m19-201h0m254.5 402h0m-214-78h0m-33.5-459.5h0m283.5 74h0m-125.5 64.5h0m157.5-4.5h0m-698.5-203h0m268.5 838.5h0m264.5-555h0m-62.5-17h0m-55 35h0m74-94.5h0m168 23h0m-359-180.5h0m147.5 137h0m61.5 3.5h0m318 179.5h0m-222-251.5h0m-233 23h0m91-57.5h0m174.5 509h0m-300-95h0m11-18h0m281.5 128.5h0m-405.5 214.5h0m246.5-324h0m-22.5-197h0m83-154h0m132 455.5h0m-35.5-70.5h0m86-112h0m-192.5-240h0m-100 280h0m207-323h0m-463.5 708.5h0m172.5-534h0m116.5-245h0m343.5 304.5h0m-378.5 119.5h0m128.5-293h0m-249-137.5h0m151 138.5h0m-5 58h0m276.5 179h0m-128-210.5h0m250 117.5h0m10.5-39.5h0m-107 81.5h0m-500.5-338.5h0m-91 748h0m501.5-217h0m-253-527.5h0m103.5 188.5h0m15-61h0m165 37h0m131.5 173.5h0m-606-122.5h0m327 1h0m-33-25h0m-300.5 561h0m203.5-327.5h0m-191.5 407.5h0m445.5-623h0m-123.5-39.5h0m161 334.5h0m-211-355.5h0m86 35.5h0m54.5 309h0m-145.5-137.5h0m-177-117.5h0m253.5 124h0m-239 93h0m106.5-232h0m-82.5 261.5h0m137-300h0m42.5 312.5h0m104.5-11h0m175-114h0m-252-201h0m-41.5 57.5h0m98.5 293.5h0m82.5-30.5h0m-240.5-256.5h0m104.5 265.5h0m-288.5-484.5h0m-67.5 787.5h0m233-707.5h0m101.5 302h0m-479-506h0m305 110h0m-33.5 462h0m256 3.5h0m-135-358.5h0m-115.5 373h0m153-134.5h0m-202 447h0m-318-702h0m454 153h0m71.5 123.5h0m-160 61h0m-4.5-421h0m-243.5-59h0m554 291h0m-676-120h0m398 356.5h0m131.5-342.5h0m-109.5 329.5h0m42.5-50h0m302.5-52.5h0m-241.5-64h0m-492.5-373h0m-24.5 226.5h0m535.5-2.5h0m-6.5 75h0m22.5 233.5h0m-67.5-373h0m-245.5 707h0m-225.5-669h0m430 333.5h0m17.5-219.5h0m91-70.5h0m316 120.5h0m-293-101h0m-257.5 579.5h0m344.5-315.5h0m-141-226.5h0m214.5 143h0m-399-336h0m159 14.5h0m9 54h0m409.5 218.5h0m-325-97.5h0m147.5-57.5h0m-12 68h0m-218 118.5h0m5.5-178.5h0m0-29.5h0m-81 228h0m223.5 111.5h0m185.5-136h0m-175 119h0m24.5 15.5h0m-90.5-87h0m-364.5 391h0m367.5-446.5h0m112.5-127.5h0m-637.5-206.5h0m364.5 341.5h0m-93.5-219.5h0m-132 657h0m365-378h0m-361.5 340h0m-97-856.5h0m781.5 416.5h0m-34-18.5h0m-128.5-66h0m-257-134.5h0m-184 199.5h0m-294-337h0m405 265h0m52.5 56.5h0m138-163h0m-172.5 309h0m158.5-74.5h0m-266.5 525.5h0m197.5-706.5h0m81.5 165h0m-109 132.5h0m-39-455.5h0m-81 231h0m180.5-11h0m130.5 270h0m-217-54.5h0m245.5 117.5h0m170-269h0m-226 279.5h0m-240.5-428h0m126 362h0m182-274.5h0m-401-165h0m158.5 97.5h0m25-74.5h0m-170 109.5h0m12-115.5h0m-333.5-63h0m360.5 235.5h0m67.5 183h0m-535.5-340h0m590-22h0m376.5 247.5h0m-536 507.5h0m10-639.5h0m108-29h0m422 105h0m-290.5-127h0m-145.5-66h0m-132 767.5h0m325.5-695h0m90-8.5h0m-721.5-34h0m303-78.5h0m148 414.5h0m295.5-47h0m152.5-35.5h0m-219.5 201h0m-822-511h0m865.5 65h0m-379.5 91.5h0m97.5-132.5h0m-106 154.5h0m144.5 19h0m-19.5-200.5h0m333.5 345h0m-446.5-385h0m420 376.5h0m-687-430h0m-186.5 85h0m742 428h0m262.5-122.5h0m-24.5-26.5h0m-508-264.5h0m273.5 114h0m-43 222.5h0m-306 390h0m216-622.5h0m-266 602h0m319.5-510h0m-280-243h0m59 192h0m66.5 31.5h0m74-130.5h0m226 307h0m-158.5-227h0m-206.5 678h0m-7.5-815.5h0m541 303.5h0m36-26h0m-394-18.5h0m75-143.5h0m-1 41.5h0m-183.5 253h0m-172-213h0m271-17.5h0m-233.5 550.5h0m500.5-422.5h0m-136 131h0m-83-193.5h0m11.5 36h0m-27-30h0m90 54h0m-264-229.5h0m-491.5 16.5h0m439.5 739h0m-143.5-916h0m354.5 266.5h0m-153-18h0m-16 92h0m358-80.5h0m-277.5-8h0m-192.5 32.5h0m34.5 527.5h0m464.5-584h0m-280.5 231h0m43-46.5h0m-60 84.5h0m-39-427h0"/><path stroke="#F6735C" d="M1228.5 671h0m107-66.5h0m225 77.5h0m-762.5-423.5h0m382.5 387h0m242 162.5h0m34.5-220.5h0m-341.5 10.5h0m227-53.5h0m-180 557h0m511-499.5h0m-305-50.5h0m-52.5-62.5h0m16.5 254.5h0m365.5-58h0m-288 151.5h0m272.5-164h0m-389-304h0m-262.5 769.5h0m632.5-461.5h0m-366-135.5h0m-173 59h0m76.5 91h0m52.5 54h0m-566-348.5h0m220-83.5h0m154 798.5h0m-60.5 21h0m194.5-290.5h0m-18-257.5h0m-122.5 588h0m483-631h0m-197 51h0m64.5 124h0m-202 37h0m68.5-33h0m81.5-151h0m93 327.5h0m-140-142.5h0m203-226.5h0m-229 216h0m-281 351.5h0m674.5-382h0m-508.5-128h0m114.5-80h0m-289.5 600h0m365-562.5h0m-86.5 245.5h0m-169.5 339.5h0m73-533h0m-186.5 554h0m314.5-644h0m-259.5 625.5h0m637-481h0m-642 504h0m395-333.5h0m-460 298h0m516-228h0m-480.5 267h0m686-472.5h0m-82.5-48h0m-362.5-89.5h0m-166.5-135h0m-109.5 679h0m21 59h0m17.5-610.5h0"/><path stroke="#FDAF74" d="M1653 652h0m-239.5 150h0m21.5 53h0m-444 257h0"/><path stroke="#000004" d="M1264 525h0m28.5 258h0m-107.5-332.5h0m255.5 389.5h0m-193.5-35.5h0m75-401h0m-370.5-120.5h0m235.5 100.5h0m211 274h0m-231.5 88h0m122.5 41h0m-74 13h0m-372.5-540h0m18 117.5h0m627.5 508.5h0m-91.5-134h0m231.5-45h0m40.5-62h0m-23 28h0m-624-391h0m-128.5 4h0m367.5 267.5h0m247-78.5h0m-64.5 51.5h0m-216 65h0m171.5 13.5h0m-114.5-206.5h0m178 133.5h0m14 61.5h0m-229.5-237.5h0m-96 241.5h0m200-50.5h0m-247 668.5h0m-294-849.5h0m414 36.5h0m175 263h0m0.5 45h0m64-76.5h0m-594.5-248.5h0m276.5-39.5h0m-42.5-5.5h0m40.5 115h0m-44.5-9h0m-479.5-36h0m680-29.5h0m101.5 109.5h0m-129 217.5h0m-457-458.5h0m644.5 360h0m-37.5 81h0m-807.5-310.5h0m710 158.5h0m81.5 308h0m-505.5-613h0m262 505h0m501.5-48.5h0m-361.5-317.5h0m80.5 88.5h0m22 145h0m-395-316h0m152 524h0m365-350.5h0m-523.5 630.5h0m172-357h0m36.5-213.5h0m-47 36.5h0m98.5-49h0m441 172h0m-315-120h0m-101.5-161h0m55 403.5h0m-123-340.5h0m277.5 449.5h0m-113-70h0m-28.5-107h0m-711.5-279h0m859.5-21.5h0m-394 739.5h0m-58-581.5h0m-156.5-193.5h0m234.5 792h0m-2-726.5h0m-236-209.5h0m312.5 337h0m-156-85.5h0m15.5 32h0m246.5-134h0m61 98.5h0m99 89h0m-245-110.5h0m378 231h0m-759-452.5h0m14 61h0m-8.5 20h0m532.5 370h0m-224-365h0m-327.5-93h0m163.5 870h0m683-496.5h0m7.5 30.5h0m-35.5 28.5h0m-269-153h0m102.5-56h0m-223.5-21h0m-581.5 24.5h0m99.5-18h0m498.5 302.5h0m-397.5-465h0m521.5 228h0m-243.5-55.5h0m-302 1.5h0m479 14.5h0m-137-66h0m277.5 62h0m-254-56.5h0m48 340h0m-353.5-462.5h0m423 115.5h0m-165.5 42.5h0m226 53.5h0m-434-236h0m-120-25.5h0m526 470.5h0m-250.5-89.5h0m-65.5-114.5h0m478 53h0m-240.5-186.5h0m-152 64h0m377 87h0m-44.5-85h0m190 139.5h0m-582-125h0m-390.5-87.5h0m426 129h0m95.5-158.5h0m-4.5 110h0m-254.5-217h0m358 201h0m-310.5 654.5h0m123.5-758h0m369.5 469.5h0m-112-62h0m-161.5-409.5h0m438 345.5h0m-217-65h0m-174.5 198.5h0m-577-416h0m173.5 81.5h0m339 203h0m44.5-29.5h0m-121.5-40h0m36 12h0m-250.5-327h0m-20.5-12h0m312.5 301h0m437.5 23h0m-509.5-270h0m111.5 400h0m77-318.5h0m-126.5-70h0m-88 214.5h0m-325-293.5h0m644 408.5h0m-632.5-422h0m473.5 229h0m-395.5 12.5h0m339-133.5h0m-522.5 50h0m961 254h0m-282.5-236h0m-493-64h0m433 24.5h0m-286.5 142h0m-390.5-169h0m206.5-121.5h0m195.5 307h0m451.5 364h0m-184.5-558.5h0m184 143.5h0m-213 249h0m-475-465.5h0m355 121.5h0m330 114.5h0m-297-156h0m20 53.5h0m146 191.5h0m37.5-11.5h0m-288.5-255.5h0m-232-101h0m254 127h0m-440.5 93.5h0m163-183h0m439 417.5h0m-50.5 93.5h0m379.5-155h0m-499-300.5h0m58.5 482h0m-547-434h0m557-52.5h0m-117.5 764.5h0m57.5 2h0m158-568h0m-49.5-130h0m-2.5 386h0m-429.5-349.5h0m158.5-165.5h0m404.5 325.5h0m-495-276.5h0m419.5 209h0m140.5 321h0m46.5-374h0m-370.5-20.5h0m556.5 227h0m-980.5-225h0m180-65.5h0m624.5 28h0m-674.5 65.5h0m684 44h0m-255.5 31.5h0m279-44.5h0m-226.5 70h0m-493-101.5h0m413-142.5h0m116 491.5h0m112-440.5h0m-758 78h0m516 0h0m-327-243.5h0m-212 180.5h0m794 449.5h0m-611.5-396.5h0m509 234.5h0m162.5-173h0m-304 293.5h0m420.5-147h0m-441.5 33.5h0m11.5 52h0m-11-421.5h0m-348.5-2h0m352.5 156h0m486.5 219h0m-317.5-2.5h0m-522.5-401h0m-27-72h0m414 350h0m19.5-90.5h0m212-103.5h0m59.5 48.5h0m-174.5 335h0m-183.5-244h0m255.5 274.5h0m-530.5-300h0m-189-97.5h0m-50.5-37.5h0m441.5 64.5h0m430 275h0m198.5-57h0m-250.5-205.5h0m-72.5 393.5h0m-597-537h0m676.5 181.5h0m-175.5-123h0m57 300h0m10.5 40h0m-219.5-172h0m502 108.5h0m-320-245.5h0m-699 14h0m748.5 27h0m-571.5 50h0m192-236.5h0m238 461.5h0m22.5-84h0m67-90.5h0m187-83.5h0m196 191.5h0m-251.5-252h0m-640-90h0m646 345h0m202.5-19h0m-487.5-232h0m491 254h0m-818.5-331.5h0m462 106h0m148.5 473.5h0m-583-639.5h0m-15 127.5h0m382.5 280.5h0m215.5-259h0m-167-25.5h0m371 289h0m-260.5-29.5h0m50.5 177h0m-491.5-476h0m182.5 79.5h0m-368-159h0m502.5 492.5h0m-3.5-378.5h0m-376.5 25h0m552 476.5h0m-319.5 245.5h0m124-610.5h0m157.5-43h0m-379-167.5h0m441 94h0m-449 147.5h0m517.5 183h0m-445-378h0m149.5 476.5h0m126.5-280.5h0m327 100h0m-1000.5-265h0m600.5 175h0m-27-116.5h0m231 57.5h0m-5 307h0m-317-144h0m398.5 11.5h0m-241.5-246h0m-22.5-51.5h0m-16.5 256.5h0m-357-316.5h0m479.5 183.5h0m-537.5-96.5h0m223.5-67h0m426.5 517h0m-749.5-376h0m756 92.5h0m-302 222h0m29-85h0m-437-215.5h0m307 637h0m40-308.5h0m-356.5-334.5h0m7.5-199.5h0m474.5 296h0m-513-92.5h0m227.5 616.5h0m161-710h0m37-47h0m300.5 368h0m-487.5 377h0m481-254h0m-365.5-212h0m170-149h0m146.5 389h0m-423 264.5h0m-169.5-647.5h0m-55.5-60h0m520.5 193h0m-650-209.5h0m729 400h0m127.5-304h0m-387 107.5h0m212-157.5h0m36 58.5h0m-454.5-183.5h0m380 179h0m242.5 212.5h0m-311-114.5h0m-6 84.5h0m124.5-225.5h0m-166 314.5h0m298 40.5h0m-536 289h0m568-526h0m-633-326h0m459.5 288h0m-53.5-95h0m16.5 283.5h0m-405.5-483h0m99.5 304.5h0m294.5-23h0m-188-146h0m170 129.5h0m-175.5 695h0m281-505h0m-135-320h0m33.5 337.5h0m-442-242h0m313.5 306h0m-551.5-399h0m667.5 89.5h0m-109 62h0m-340.5-44.5h0m494 21.5h0m-257.5 608h0m-427-703h0m781.5 378.5h0m-224.5-458.5h0m152 392h0m-517-478h0m669.5 574h0m169-235.5h0m-483-188.5h0m66 442h0m-94-455.5h0m216.5 202h0m267.5 24h0m-828.5-342.5h0m549 438.5h0m-129-256h0m99 193.5h0m-709.5-202h0m-3-30.5h0m269.5-104.5h0m431 313.5h0m348 22.5h0m-487.5-156.5h0m219.5 2.5h0m63 17h0m-290-35h0m-81.5 31.5h0m394.5 317.5h0m-623.5-450h0m839 239h0m-191.5-23.5h0m-346-253h0m-552.5 65.5h0m754 190h0m-48.5-188h0m-325 683.5h0m395-630h0m82.5 44h0m-120.5-32.5h0m79 388h0m-336.5-507.5h0m-340.5-1h0m405 110.5h0m47 170h0m20.5 116.5h0m-232.5 377h0m535-381.5h0m-682-505.5h0m643.5 297h0m-612-219.5h0m593.5 484.5h0m-130-357h0m-234.5-28h0m-32.5-61.5h0m326.5 332.5h0m98-179.5h0m-380.5-74.5h0m-77.5 717.5h0m76.5-523.5h0m389.5-58h0m-323.5-224h0m-367.5-37h0m284 108.5h0m305 47.5h0m-331.5-70.5h0m453.5 84h0m-325.5 261h0m77-189.5h0m-487.5-64.5h0m465.5 228h0m-631.5-331h0m728 208.5h0m-543-110.5h0m-196-99h0m388-68h0m368.5 196.5h0m-266 71.5h0m-29-184.5h0m-157.5-141.5h0m-134.5 231h0m679 422h0m44.5-363h0m-238.5 200h0m31.5 35h0m-68-210.5h0m-22-75.5h0m133.5 158h0m-517-333h0m622 577h0m-105.5-285.5h0m-41-99h0m-136 125h0m-99-141h0m133.5-146h0m-327.5-48.5h0m-43 211.5h0m300 133.5h0m197.5-238.5h0m-31.5 162h0m195 13h0m-313.5 192.5h0m-353-465.5h0m454.5 171h0m-44-1h0m-143.5 155.5h0m557.5 76h0m4.5-15h0m-353.5-322h0m-661.5 43h0m389.5 94.5h0m274.5 27.5h0m372.5 169.5h0m-504-288h0m92.5-28h0m-594 0.5h0m616.5 218h0m-175.5 8h0m148.5 192h0m430.5-137.5h0m-433.5 141.5h0m-186.5-473.5h0m47.5 316.5h0m-221-418h0m365 162h0m101.5 324h0m44.5-137h0m-257 194.5h0m69-252h0m-601.5-140.5h0m723.5 181.5h0m36 11.5h0m79 252h0m-655-591.5h0m656 243h0m-141.5 148.5h0m-441-399.5h0m35.5 2h0m602 296h0m-600-230h0m263.5 351.5h0"/><path stroke="#7B2382" d="M855.5 402h0m473.5 75h0m-530.5-23.5h0m262.5 723h0m-65-52.5h0m522-652.5h0m-278 355h0m-79.5-26h0m-304.5-473h0m346 160.5h0m131.5 0h0m365.5 126h0m-171-62.5h0m-701.5-91h0m689 88.5h0m-168-66.5h0m-725.5-85h0m541 151.5h0m162.5-86.5h0m-14-32h0m-496.5-167.5h0m376.5 375h0m-356-354.5h0m535 312.5h0m-131 219.5h0m244-354.5h0m-230.5-106h0m242 369h0m-418.5-293h0m608 152.5h0m-546 0.5h0m336 37.5h0m-232-180.5h0m-3.5 227h0m365.5 38h0m-188 147h0m-193-299.5h0m110.5-23.5h0m-505-12h0m562 262.5h0m97.5-183h0m-367.5-176.5h0m321.5 134.5h0m-116-52.5h0m-405-248h0m243 579h0m-101 348.5h0m153.5-495h0m-38-98.5h0m92-44h0m-10.5-6.5h0m55-34h0m-444-234.5h0m-30 28.5h0m-51-30h0m117.5 10h0m323 98.5h0m218 81h0m-315.5-114h0m-440 78.5h0m616 70h0m-507-62h0m133-131h0m348 417.5h0m7.5-205h0m-81.5-78.5h0m-16 389.5h0m-436-551.5h0m629.5 444h0m-495.5-475.5h0m461.5 562.5h0m-92-219h0m-580.5-112h0m304 645h0m272.5-527h0m294 123h0m85-43h0m-501 509h0m391-693.5h0m-101 46h0m157.5 204h0m-128-222.5h0m-44.5 35h0m-97 214.5h0m347-119h0m-757-407h0m0.5 112h0m255.5 160h0m503 135h0m-411-219h0m29.5 119.5h0m201-82h0m-394.5 40.5h0m576.5 136.5h0m-738.5-410.5h0m244.5 594.5h0m4-490.5h0m18.5 285.5h0m477.5 85h0m-974-235h0m409.5-36h0m164 96.5h0m-70-183.5h0m-133.5-2h0m527.5 371.5h0m-336.5 71h0m-53-18h0m-178.5 360.5h0m73.5-771h0m239 92.5h0m52.5 82.5h0m-273.5 72.5h0m-480.5-162h0m631 323.5h0m225.5-285h0m-296 293.5h0m-252-542.5h0m653 483.5h0m-337.5-289h0m-19-79.5h0m-611.5 33.5h0m-14 16h0m427.5 198h0m117-73.5h0m60-160.5h0m240 446h0m-6.5 96.5h0m-212.5-553.5h0m165.5 437h0m-523-461.5h0m446 477.5h0m-460.5-536.5h0m89-33h0m37 896.5h0m474-274.5h0m-158-235h0m-18.5 109h0m116.5-18.5h0m-565.5-389.5h0m-68.5-30.5h0m315.5 65.5h0m-26 132h0m47 139h0m-141.5 500.5h0m-94.5-793h0m-68.5-28.5h0m525 456h0m-375-443.5h0m-164-81.5h0m762 473.5h0m-84 96h0m19-236h0m-269 54.5h0m-402.5-345.5h0m721.5 262h0m-711.5-298h0m5-19h0m83.5 81.5h0m509.5 586h0m-65-352h0m-173 55h0m-332-325h0m162.5 294h0m-341.5-80.5h0m470-116.5h0m166.5 335h0m-64.5-351.5h0m-132 51.5h0m57 355h0m357-219.5h0m153 131.5h0m-259.5 142.5h0m249.5-213.5h0m-826.5-345h0m302.5 939.5h0m-304.5-961h0m856 394.5h0m-891-312h0m421.5 193.5h0m-399.5-262.5h0m279.5 938.5h0m-156.5-850h0m352 83h0m-1.5-42.5h0m-395-137h0m220 163.5h0m47 297.5h0m323 46h0m-103-32.5h0m-569-243.5h0m595.5 219.5h0m-542.5-464h0m304 541h0m-119.5 349.5h0m-275-660.5h0m545 56h0m-189.5 67.5h0m20 186.5h0m275.5-139.5h0m-225-72.5h0m277.5-25h0m-218.5-74.5h0m-199 674.5h0m60-518.5h0m255.5 27.5h0m-279.5 473.5h0m79.5-639.5h0m185.5-24.5h0m218.5 292.5h0m-436.5-353h0m158.5 41h0m164 448.5h0m-350.5-252.5h0m530-29.5h0m-277.5 98.5h0m156 49.5h0m-689.5-506.5h0m636 307.5h0m-357-114.5h0m-445.5 45h0m448 691h0m-339.5-663.5h0m552 119.5h0m-155-74.5h0m-369.5-80.5h0m104.5-162h0m446 278.5h0m-245.5-98.5h0m-310.5-193h0m324 909h0m-343.5-948h0m90.5 53h0m454 240h0m-81-13.5h0m-33.5 84.5h0m-27 223.5h0m256-428h0m-283.5-41h0m-382 68h0m116-147h0m410.5 116h0m-220.5 712h0m-186-855.5h0m567 339.5h0m-424.5 544.5h0m-277-847h0m482.5 141.5h0m-398-58.5h0m440 339.5h0m-132 76.5h0m-103-207h0m-300-122h0m143-171.5h0m367.5 498.5h0m-59-20h0m64-40.5h0m-508.5-455h0m568.5 201.5h0m-79 250.5h0m-41-386h0m-183.5 782h0m617.5-501h0m-360-263.5h0m179 202.5h0m-691.5-311h0m231.5 297h0m175-207.5h0m153 343h0m-417-431.5h0m77.5 899h0m460-285h0m152.5-157.5h0m-833.5-250.5h0m-93-70h0m500 44.5h0m123.5 353.5h0m181.5-51h0m18-200h0m-198 241h0m-445-488.5h0m291.5 236h0m-17.5 62.5h0m215 252.5h0m-184.5-246.5h0m508 57.5h0m-566.5 566h0m183-402h0m215-301h0m-630.5-244h0m200 74.5h0m469 339.5h0m-124-292h0m-330.5 1.5h0m64 193.5h0m378.5 100.5h0m-216 141.5h0m-101-136h0m-261.5-435h0m371 500.5h0m-20 22.5h0m77-82h0m-79.5 26h0m182-144h0m-237-166h0m-228.5 133h0m62-3h0m451-59h0m-429.5-75h0m-34 86h0m394.5-70.5h0m185 281.5h0m-334 76h0m6-93h0m-47-263.5h0m-41 54h0m115 160.5h0m-232-291h0m198.5 475.5h0m138-375.5h0m-86 170h0m-555-364h0m674.5 285.5h0m-10.5-6.5h0m23 300h0m-407-253.5h0m124.5 28.5h0m-407.5-115.5h0m701-38.5h0m-320.5-62.5h0m174.5 53.5h0m-349.5 707.5h0m276-681.5h0m29 78h0m-137 154h0m5.5-254h0m-322.5 52h0m441-1h0m-56 56.5h0m31-57.5h0m-159.5 106h0m-10 600h0m44-477.5h0m229.5-239.5h0m-264.5 94.5h0m170-15.5h0m-421.5-170.5h0m-65.5-88.5h0m668 243h0m-163-11h0m82 137.5h0m-84.5-77.5h0m-680-203h0m590.5 154.5h0m-184 587.5h0m227-360h0m-178.5-215.5h0m-155-292.5h0m646.5 465.5h0m-444.5-170h0m-33.5 549h0m327.5-548h0m-49 19.5h0m-571-322h0m504 523h0m-184.5 382h0m-230-772h0m633.5 82.5h0m-259.5-97.5h0m389 310.5h0m-331-292h0m-545-137h0m283 893h0m56-775.5h0m196.5 84h0m153.5 425.5h0m-627.5-385.5h0m278.5 631.5h0m-302.5-702.5h0m828 159h0m-595.5-25.5h0m390 335.5h0m-346.5 293.5h0m42-564h0m513.5 26h0m-855.5-210h0m86-100h0m537.5 466.5h0m-145-85.5h0m-408-242.5h0m383.5-51h0m260 87h0m-294 169h0m-66 79h0m-23.5 428.5h0m155-381h0m-353.5-570.5h0m-112 10h0m519 341.5h0m-237.5-235.5h0m67.5 13h0m-228-59h0m183 203.5h0m-257.5-217h0m163 230.5h0m463 334.5h0m-63.5-10h0m-273-291.5h0m174-102h0m-364-216.5h0m576 273h0m-416.5 86h0m-358-319.5h0m369 83h0m-515.5-0.5h0m571 123.5h0m53.5 230.5h0m117 53h0m-286-375h0m-260-122h0m333 366.5h0m4.5-4.5h0m-284-393h0m544.5 461h0m-78-213.5h0m-361.5-247h0m-136.5-23.5h0m-5.5 9h0m240.5 169h0m125 97.5h0m23.5 172.5h0m55 34.5h0m-661-327h0m1065.5 219.5h0m-323.5-179h0m-481.5-107h0m307 270h0m-379.5-300h0m3 72.5h0m72-142h0m-227.5 210.5h0m499.5 745h0m-363-688.5h0m551.5 301h0m-252 315.5h0m458.5-383h0m-488-147h0m650 67.5h0m-482.5-303h0m-137.5 756h0m-34 68h0m492-423h0m-200 66.5h0m223.5-118h0m-270-177.5h0m272 157h0m-695-283h0m659.5 87h0m120 233h0m-591.5 403h0m217-589.5h0m85.5-74.5h0m-73 9h0m82 208.5h0m-125-148h0m-421-46h0m290-38.5h0m495.5 262h0m-486.5-41.5h0m-41-310.5h0m-4 96h0m438.5 106h0m-75 27.5h0m-71.5 98h0m-100.5 135.5h0m-174-302h0m-15.5 614.5h0m94-683.5h0m-6 12.5h0m186.5 252.5h0m151.5-193.5h0m-21.5 84h0m18-7.5h0m-325.5-136h0m137 30h0m136.5 373h0m-157-400h0m-127.5 303.5h0m7-69.5h0m17.5 32h0m-579-322.5h0m673 23h0m107.5 150h0m-247 226.5h0m-23.5 408.5h0m233.5-538.5h0m-203-290.5h0m111.5 412h0m-274 313h0m264-321.5h0m199-253.5h0m-585.5-220h0m816 399h0m-292.5-207h0m-510-167h0m351 237.5h0m102-25h0m-230.5 677h0m-202-975h0m575 273h0m-53.5 169h0m213-2.5h0m-491 125.5h0m-85 290h0m-174.5-793.5h0m171 216h0m-245.5-41.5h0m345-78h0m-68.5-31h0m203.5 344h0m-452.5-474h0m335 116.5h0m246.5 137h0m-119-60.5h0m-377-166.5h0m456.5 209.5h0m45.5 409.5h0m-236-291.5h0m166.5 75h0m271.5-8h0m-721-424.5h0m599.5 349h0m58.5 108.5h0m-621-379.5h0m-50 9.5h0m447 178h0m-94 326h0m-626.5-378h0m679 364.5h0m-510-349.5h0m735.5-1h0m-52 388h0m-172.5-341.5h0m108 8h0m-251.5 51h0m239.5 98.5h0m175.5 76h0m-466.5-394h0m197.5 27h0m-196.5 752.5h0m271.5-606.5h0m-548.5-160.5h0m270 63h0m57.5 392.5h0"/><path stroke="#D04371" d="M1012.5 1102h0m316-544h0m-102.5 122.5h0m263.5-103.5h0m14-78h0m-174.5 150h0m-44.5-68h0m93-55.5h0m-224.5 279h0m-530-421h0m538.5-16h0m42 255h0m317-59h0m184.5 86.5h0m-179-111.5h0m-4.5-37.5h0m-296 246h0m133-208.5h0m71.5 273.5h0m-199.5-348.5h0m-429.5-227.5h0m761.5 503.5h0m-738-458h0m637.5 538h0m13.5 51.5h0m-635-390.5h0m490.5 8h0m-126.5 120.5h0m148.5-57.5h0m-456-158.5h0m580 500.5h0m-165.5-132h0m-104-174.5h0m-89.5-249h0m169 27.5h0m-237.5 223h0m55.5-18h0m533 142h0m-168 120h0m-159-131h0m-219 442.5h0m286.5-633h0m228 182.5h0m-291.5-147h0m56.5 123.5h0m8.5-169h0m-142-55.5h0m-52 206.5h0m-83.5-245.5h0m133.5 208.5h0m-153.5-246.5h0m72.5 435h0m171.5-229h0m-714.5-194.5h0m682.5 383.5h0m-468.5-399h0m450 373h0m48 29.5h0m-287.5 364.5h0m605-483h0m-657 457.5h0m199.5-414h0m216.5-40.5h0m-242 155.5h0m154-357.5h0m-49.5 129.5h0m-180.5 13h0m177.5-88.5h0m45 313h0m-58-405.5h0m-93-4.5h0m539 198h0m-860-371h0m224.5 891.5h0m25.5 57.5h0m394-381h0m-363.5-230.5h0m340 301h0m-201-461.5h0m181 402.5h0m-244-228h0m-120.5-38.5h0m111 237h0m530-96.5h0m-304.5 141h0m97.5-298h0m-87.5-37h0m-153-87.5h0m-149.5 735h0m180.5-647h0m-41.5 217.5h0m115.5-151h0m82.5 317.5h0m-287-279h0m99-121h0m26.5-32h0m125.5 115h0m-633-105.5h0m478 317h0m30.5-281.5h0m340 228h0m20-56.5h0m-590.5-145h0m38-96h0m203.5 52h0m182 374.5h0m217-239h0m-218.5 311.5h0m-169-382h0m176 306.5h0m-809.5-456.5h0m608.5 315.5h0m-9 102h0m366.5-177h0m-469-298h0m158 142h0m-208-49.5h0m6.5 45.5h0m166.5 42h0m-96.5-133.5h0m-83 197.5h0m385.5-33.5h0m-354 258h0m162-290h0m-126 297.5h0m119-256h0m68.5 42h0m-101-128.5h0m-202.5 674.5h0m610-483h0m-544-276.5h0m10.5 42.5h0m113.5 86h0m277-9.5h0m-212.5 57h0m-217.5 26h0m334-181.5h0m-592 73h0m505 179h0m-18.5 81h0m-99 55h0m443-199h0m-209.5 222.5h0m12.5-377.5h0m-9.5 485h0m-24-125.5h0m-310.5-250.5h0m78 254.5h0m-344.5-488.5h0m390 430h0m-55.5-219.5h0m110 124h0m86.5-73h0m-45 68.5h0m-550.5-321h0m644 130h0m-34 390h0m-307.5-269.5h0m538.5 138h0m-347.5-176h0m82.5-14h0m-451-259h0m298 456.5h0m-74 51.5h0m150.5-361.5h0m-72 75h0m-60-75h0m491 270h0m-240.5 211.5h0m-134-500h0m69.5 127h0m165.5 26h0m-379.5 579.5h0m47-480.5h0m481-15h0m-172.5-191.5h0m29 73h0m-472 44h0m86 276h0m-49.5-234h0m76.5 233.5h0m-105 285h0m93.5-540h0m339.5 16.5h0m-406.5-146h0m415.5 301.5h0m-212 54h0m190 72.5h0m-460 267h0m350.5-599.5h0m-477.5-217.5h0m407 152.5h0m-22.5 158h0m142.5 210h0m-348.5 343h0m392-280h0m182.5-215h0m-801-394h0m346.5 476h0m66.5-194.5h0m392 76.5h0m-969.5-263.5h0m367 198.5h0m63.5-246.5h0m178.5 133.5h0m181 74.5h0m5 379h0m-448 193h0m231.5-349.5h0m108.5-145.5h0m-175 17.5h0m-11-114h0m231 296.5h0m258.5-183h0m-1062.5-255h0m607 22h0m-388.5-156.5h0m781.5 450.5h0m-102 157h0m-818.5-434.5h0m555.5 306h0m-148 385h0m217.5-478h0m196 191h0m-380-461h0m-110 766h0m234.5-721h0m110.5 330.5h0m-25-238.5h0m-361.5 582h0m358.5-660.5h0m-521-130.5h0m806 306h0m-528.5-236h0m286.5 417h0m-41.5-328h0m41 114.5h0m-323 566h0m133-361.5h0m290.5 39h0m-73-303.5h0m-257 270h0m124-160h0m-259.5 516.5h0m331.5-536h0m-197 223h0m47.5-379.5h0m-334-171.5h0m440 245h0m-38 280.5h0m48 22.5h0m-59-312.5h0m192.5 335h0m-209.5-303.5h0m-125.5 89.5h0m289 61.5h0m105-211.5h0m-896.5-74.5h0m558 192.5h0m130-10.5h0m30.5 55.5h0m-45.5-185h0m141.5 30.5h0m53 315.5h0m-374-241h0m20 604h0m-296.5-918h0m518 193h0m-512-74h0m592 529h0m-71.5-263.5h0m-235 0.5h0m50 77h0m1.5 47.5h0m-64 378.5h0"/><path stroke="#F6735C" d="M1199.5 538.5h0m5.5 149.5h0m208 145.5h0m-64-234.5h0m133.5 301.5h0m-230-465.5h0m-99 392h0m388.5-300.5h0m-218-97.5h0m51 346.5h0m-747-392h0m706 224h0m63 223.5h0m204-120h0m-171-16.5h0m15.5-120.5h0m-201.5-27.5h0m260.5 362h0m-347.5-526h0m397 297h0m-547.5 469h0m495-567h0m-273.5-204.5h0m57 179h0m22.5 31.5h0m-186.5-127h0m390.5-14.5h0m-504 652h0m149.5-642.5h0m157.5-73.5h0m-301.5-30.5h0m226.5 74h0m5.5-2h0m-31 300.5h0m-233 422h0m334-636h0m135 383h0m-472 233h0m170-768h0m-178 765.5h0m536-573h0m-230 8.5h0m188.5 333.5h0m-208.5-290.5h0m-106.5-21h0m454 81.5h0m-483 455h0m328-254h0m-42.5-36.5h0m-146.5-263h0m204.5 63.5h0m-158 22h0m285.5 24h0m-167.5 56h0m-430 393h0m508-286h0m-329-75h0m8.5-380.5h0m363.5 326.5h0m-22.5-135h0m-365.5 191h0m495.5-126h0m-418 136h0m-186 336h0m196.5-638.5h0m-6.5 275h0m301-265h0m-303-50.5h0m-81 374h0m-125.5-284h0m266 221h0m-96.5-377h0m-38 459h0m38.5-338h0m-44 622h0"/><path stroke="#FDAF74" d="M1000.5 1145.5h0m236-697.5h0m-129.5 764h0m201-708.5h0m-215 618.5h0m31.5 43.5h0m306.5-279.5h0m-118.5-397h0m-334 599.5h0m68.5 65h0"/><path stroke="#000004" d="M882 316h0m20 19.5h0m515.5 332h0m-187 152.5h0m46-383h0m-289.5-156.5h0m698.5 359h0m-336 13h0m-283.5-63h0m-139.5-336h0m-44.5 3h0m411 439h0m44-52h0m116 194h0m-593.5-488h0m-33.5-46h0m509.5 227.5h0m100 363h0m-224.5-439h0m-332-132.5h0m250 284.5h0m514.5 99.5h0m-485-181h0m184.5 108.5h0m352-19.5h0m-833-363.5h0m522 496h0m-109.5 48h0m250.5 72h0m-616.5-606h0m159 904h0m221-755.5h0m73 292h0m313-81h0m-527 46.5h0m55.5-180.5h0m-83.5 143h0m111 48h0m158.5 44.5h0m-737.5-292.5h0m132.5 40h0m152.5-234h0m538 667.5h0m-578.5-590.5h0m356 377h0m-428-325h0m-141.5 24.5h0m628 24h0m-518-139h0m-115.5 192.5h0m808.5 143h0m-491 489.5h0m489.5-687.5h0m-164 79.5h0m51.5 328h0m-53.5-259h0m-466.5-231.5h0m601.5 308.5h0m-231.5-220.5h0m-72.5 5h0m261 284h0m238-18h0m-347-125.5h0m-223 568.5h0m-161.5-837.5h0m-254 87.5h0m294-89.5h0m183.5 134h0m5 209h0m315.5 194.5h0m-77.5-75.5h0m-7.5 24.5h0m-146.5 19h0m230-181h0m-392.5 503.5h0m98-306.5h0m185-236.5h0m-225 578h0m-269.5-661.5h0m404-64h0m-451-178.5h0m23 216.5h0m815 192h0m-199-24.5h0m-306.5-233.5h0m-257.5 14h0m280 382h0m83.5-63.5h0m390-26h0m-402.5-189.5h0m61.5-143.5h0m-63.5 18h0m122 186.5h0m-240-111h0m439 274h0m-500.5-207h0m85 64h0m-201-308h0m123 287.5h0m212 14.5h0m170 58.5h0m244-9.5h0m-186-157h0m-68.5 65h0m-17 124.5h0m-44.5-63h0m-594-331.5h0m556.5 263.5h0m-463.5-232.5h0m312 362.5h0m142 93.5h0m332-94h0m-819.5-397h0m12-3h0m36.5 50h0m0 87h0m-28.5-82.5h0m55-48.5h0m749 407.5h0m-845-402h0m257 326h0m275-174.5h0m115.5-28h0m-526.5-134.5h0m346 560h0m243 20h0m-581.5-589h0m404.5 452.5h0m-164.5-233.5h0m24 142.5h0m61-194h0m405.5 189h0m-834.5-244h0m338.5 217.5h0m35.5 224.5h0m-589.5-404.5h0m390-87.5h0m448.5 148h0m-119.5 289.5h0m164.5-312.5h0m-124 160.5h0m22.5-89.5h0m-83.5 25h0m-509-107.5h0m325.5-104h0m-246 23.5h0m318.5 316.5h0m292.5-203h0m-29 400.5h0m-227.5-132.5h0m-395.5-367.5h0m627 493h0m99-212.5h0m-758.5-414h0m427 552.5h0m-264.5-528h0m291 127.5h0m232 190h0m-33 26h0m-322 192h0m251.5-251h0m-237 203.5h0m-361.5-434.5h0m683.5 598h0m-403.5-566.5h0m75 103h0m-367.5-7.5h0m296 148h0m314.5 1.5h0m-140-247.5h0m-311-37.5h0m156.5 98.5h0m360 407.5h0m-678.5-374h0m-142-13h0m616 416h0m-44.5-262.5h0m131-116h0m-173.5-2h0m434.5 245.5h0m-803-286.5h0m571.5 361.5h0m-95-353.5h0m253 116.5h0m-240.5-119h0m178.5 148h0m-838-190.5h0m153 100h0m559.5-37h0m-164.5 377.5h0m114.5-224.5h0m-666.5-211h0m593.5 401h0m462-181.5h0m-376.5-135.5h0m-92.5-126h0m46.5 14.5h0m185.5 23h0m-671.5-123.5h0m143 17h0m418.5 232.5h0m-558.5-233.5h0m386 399h0m24.5 119.5h0m186.5-68h0m-214 15.5h0m-11 78.5h0m97-316h0m-48.5 87h0m-415.5-343.5h0m652 624.5h0m24.5-470h0m-608.5-151h0m-25.5 32h0m444 315h0m-313-305.5h0m173.5 323.5h0m349.5-83h0m-617.5-208h0m368.5 36.5h0m-278.5-89h0m197.5 168h0m55 351.5h0m-421.5-543.5h0m150.5-19h0m533 569h0m-258-388.5h0m-8-72.5h0m-112 164.5h0m116 145.5h0m78-290h0m-123.5 403.5h0m-360-289.5h0m869 139h0m-365-188.5h0m196.5 41h0m-667.5-222h0m247.5 241.5h0m460.5 227h0m-480 472h0m-109.5-849h0m77 172h0m106 604.5h0m559-426.5h0m-194.5 182.5h0m140.5-251.5h0m-366-58h0m-138.5 40.5h0m534 33.5h0m-543-270.5h0m246 77h0m-519.5-210.5h0m305.5 350.5h0m102.5-228.5h0m40 282.5h0m-48.5-288h0m-77.5 165h0m270-74.5h0m-741.5 38h0m370 100.5h0m-258.5-109.5h0m531.5 178.5h0m186-90.5h0m-32-60.5h0m-377 79h0m298.5-100.5h0m-150.5 349h0m328.5-172h0m-69.5-154h0m-691-249h0m332 201h0m522 174.5h0m-617-208h0m604 202h0m-809-287h0m14-109h0m801 454.5h0m-916-222h0m41-162.5h0m702.5 280.5h0m-601-332.5h0m433 320.5h0m148-6h0m-266 162h0m-386-204.5h0m575.5 225.5h0m45.5-315h0m25 508h0m-182-158h0m-617.5-344h0m70.5-138h0m18 49h0m449 442h0m280 65h0m-137.5-344.5h0m-319.5 47.5h0m-137-245h0m403.5 89h0m-484 90.5h0m372-131.5h0m-320.5-62.5h0m518.5 473.5h0m75.5-237h0m-272-48.5h0m-63.5 1h0m33.5-143h0m312 186.5h0m-373-176.5h0m-352-70h0m628.5 279.5h0m-288-168.5h0m348 268.5h0m-280-260h0m91.5 372.5h0m41.5-219h0m-196-143.5h0m372 480.5h0m-430.5-359h0m634 116h0m-514 153.5h0m275.5-245.5h0m-170.5-96.5h0m72-16.5h0m-52.5 155h0m25-131h0m-520.5-188.5h0m7.5 217h0m84.5-139h0m418 330.5h0m-506.5-213h0m50.5-182h0m611.5 192.5h0m-769.5-3.5h0m416.5 102.5h0m-13.5 36.5h0m6-274.5h0m372 178h0m-97 165h0m304-23h0m-896-181h0m603-19.5h0m-155 28h0m-234 662.5h0m413-558.5h0m294.5 54.5h0m-533.5-47h0m-347-342.5h0m22 135.5h0m107-144.5h0m-150 234.5h0m829.5 209h0m-391.5-100.5h0m375.5 23.5h0m-523-75h0m-277-186.5h0m67 0h0m368.5 161.5h0m-75 98h0m333 216.5h0m-440 343h0m281.5-468h0m-356.5 440.5h0m63.5-559h0m591.5 22h0m-795-227h0m541.5 312.5h0m50.5-288.5h0m-111 417.5h0m-87-469h0m246 209h0m-86.5-169h0m-261 46h0m-102.5 707h0m322.5-414.5h0m-404.5-470h0m226.5 101h0m-86 273h0m316.5 106h0m42-214.5h0m-619.5-35h0m30-203h0m-107.5 184.5h0m717.5-16.5h0m-403 86.5h0m-255.5-308h0m261 185h0m113.5 120h0m79-114h0m-183 700h0m357-267.5h0m-299-233h0m-273.5-241.5h0m429.5 24h0m-23 38h0m95.5 335.5h0m-288.5-334.5h0m171 24.5h0m-349.5-248.5h0m478.5 366h0m269.5 77.5h0m-435.5 56h0m-306.5-488.5h0m534.5 290.5h0m-352.5-129.5h0m186.5 159.5h0m-463-56h0m60.5-169h0m161.5 826h0m210.5-672.5h0m-143.5-134h0m-235-38.5h0m-26-21.5h0m-36 223.5h0m483.5 158h0m-441-291.5h0m433 258h0m139.5 16h0m-583-404h0m564 261h0m-632-31h0m-20-200.5h0m388.5 71.5h0m124 83h0m-211-15h0m-284 21h0m510 126.5h0m-170.5-76h0m-58.5 683.5h0m274-456.5h0m-246.5-136h0m26-153.5h0m20.5 88h0m-17.5 63.5h0m76.5-193h0m-71.5 217h0m163-130h0m111 239.5h0m288-9.5h0m-357-275h0m-563.5 40.5h0m23 8.5h0m881 157.5h0m-223-97h0m-248 15h0m183.5-100.5h0m-397.5 659h0m264.5-648h0m122 276.5h0m-227.5 460h0m178-567.5h0m225 112.5h0m-711.5-253.5h0m478 16.5h0m-55.5 228.5h0m-362-432h0m-39.5-8h0m595.5 305.5h0m-393-78h0m-63 579.5h0m457.5-486h0m-99.5 105h0m-525.5-195.5h0m10-9h0m498.5 107h0m100 251.5h0m-805-420h0m783 48h0m-544.5-115.5h0m435 439.5h0m127-233h0m-376-41.5h0m596.5 48.5h0m-692-331h0m351.5 179h0m122.5 115h0m205.5 133h0m-828-175h0m581.5 166h0m84.5-128h0m-281 133h0m171.5-219.5h0m-192.5-120h0m188 183.5h0m21.5-64h0m266.5 131.5h0m-285.5 130.5h0m-460.5-436.5h0m628.5 257.5h0m-318-134.5h0m-14.5 391h0m461-118h0m-365.5 100h0m349.5-96.5h0m-296 41.5h0m-185-39.5h0m-307-428.5h0m449 173.5h0m-138 381.5h0m-104 333h0m550.5-522h0m53 61h0m-370-275.5h0m2.5 155h0m6-193.5h0m-48 433.5h0m403-198h0m-1042-227.5h0m539 258.5h0m21.5-27.5h0m5.5-118.5h0m-422-51.5h0m502.5-40h0m1.5 393.5h0m-96.5-10.5h0m228.5-106h0m39.5-290h0m-368 785h0m-118-872.5h0m216 502h0m-164.5-259.5h0m-122-152.5h0m574 418h0m-683-526h0m560 518.5h0m156.5-351.5h0m-531.5-217.5h0m267.5 131.5h0m-427.5-103.5h0m482 529h0m-117-164h0m354-70h0m-886-185.5h0m135-81.5h0m34 208h0m688-23.5h0m-626-209.5h0m618.5 286.5h0m-307-112h0m1.5-69h0m-85 203h0m-281-66.5h0m849 83.5h0m-311.5-159h0m-342 668.5h0m219.5-294.5h0m-375.5-551h0m636.5 612.5h0m-513 230h0m-148.5-826.5h0m-1.5 0h0m14 41h0m-148.5 165.5h0m179.5-250.5h0m300.5 212.5h0m332 75.5h0m-337.5-29h0m-317.5-112.5h0m429.5 20.5h0m-437-18h0m384 86h0m81.5 110h0m-54-203.5h0m-90.5 337.5h0m255 121h0m-1.5 23h0m-226.5-455.5h0m205 141.5h0m-544-166h0m797.5 330h0m-666-468.5h0"/><path stroke="#7B2382" d="M1112 564.5h0m130-139h0m140 230.5h0m-677-180h0m434.5 101h0m-284-199h0m2 13.5h0m443 169.5h0m-206.5 8h0m-241-177h0m209.5 172.5h0m123-226.5h0m-373 107.5h0m-181-37h0m539 23h0m-131 125.5h0m513.5 141.5h0m-313.5-98h0m-212.5 559h0m501-654.5h0m-211.5-27.5h0m-75 75h0m-125 639.5h0m248.5-340h0m-42.5-350.5h0m-154.5 298h0m-484-418h0m399-37h0m318.5 310.5h0m-257-260.5h0m340.5 48.5h0m32.5 292h0m-609.5-425h0m329.5 142.5h0m411 198h0m-298.5 37h0m22 42.5h0m-330-393h0m527.5 379.5h0m-321.5-253h0m60.5 302.5h0m-90.5 14.5h0m-144-210.5h0m203-6h0m196-17h0m-121 95.5h0m-139.5-231h0m-24 41h0m-322-80.5h0m356 176h0m299.5-92.5h0m107 249.5h0m-266-85.5h0m-421.5-321.5h0m205 505.5h0m-516.5-357.5h0m632 98h0m-417-252.5h0m436.5 151h0m-143.5 734h0m-176-58h0m547.5-622h0m-420-105.5h0m164.5-11.5h0m-179 165.5h0m457 166h0m-376 73.5h0m-55.5-342h0m329 454h0m-246-498.5h0m49.5 94.5h0m-47 245h0m100 68h0m-334.5-546h0m587.5 425.5h0m-123.5-158.5h0m-638-91h0m749.5 67.5h0m-374-88h0m-202.5-126h0m310 478.5h0m-461.5-475.5h0m482 199.5h0m359 132h0m-501.5-279h0m-269.5-28.5h0m-63-39.5h0m484.5 308.5h0m131.5 97.5h0m-573-441.5h0m840 387.5h0m-540-143h0m-118 66h0m653.5 35h0m-407.5-5h0m-342.5-320h0m259.5 173h0m-159.5 709.5h0m384-574h0m91.5 137.5h0m-375-354h0m317 130h0m-148 77.5h0m102 37h0m-728-224h0m692.5 307h0m-673.5-301h0m284-126.5h0m-194.5 15h0m309.5 105.5h0m-234 132h0m456.5 317.5h0m-349.5 267h0m217.5-663.5h0m-362-202h0m435 204h0m183 114h0m-527.5-247h0m98.5 253h0m-47-237h0m560.5 541.5h0m-685-611.5h0m830 452h0m-431 6.5h0m329-6h0m-431-294h0m121 338h0m-75.5 90h0m322.5-371h0m-114.5 79.5h0m-105.5-83h0m334 251h0m-802-401h0m718.5 432h0m61-23h0m-976-330.5h0m744 336h0m-216.5-309h0m206 259.5h0m-104 87h0m-62-379h0m274 47.5h0m-346 763h0m-68.5-47h0m117.5-741h0m-87.5 108h0m106 162h0m37-252h0m-27.5-9.5h0m234 285.5h0m-19-22h0m-218 70.5h0m397-64h0m-108-138.5h0m-590.5-159.5h0m560 421h0m-295-251.5h0m420 161h0m-804.5-263.5h0m502 294h0m184 133.5h0m-276-337h0m-298.5-179h0m37.5-91h0m244 210h0m130 214.5h0m-397-468.5h0m482.5 415.5h0m137.5 193.5h0m175.5-209h0m-18.5 31.5h0m-244.5-248.5h0m-72 318.5h0m96.5-189.5h0m-88.5 120h0m294.5 27.5h0m-83 17h0m94.5 11.5h0m-221 149.5h0m-636.5-544.5h0m424 31h0m-37.5 488h0m-501-366h0m648 278.5h0m142 94h0m-261-337h0m-205.5 34.5h0m496.5-25.5h0m-648.5-6h0m646.5 81.5h0m-849-221h0m1014.5 331h0m-192.5 130.5h0m-637-546h0m223.5 286h0m312-120.5h0m-195-79h0m512 264h0m-550-206h0m-115.5 723.5h0m-97-861.5h0m247.5 320.5h0m78.5 151h0m153-92.5h0m-121-85h0m-98-168h0m-242.5-132h0m349.5 284.5h0m-348-303h0m-104.5 8h0m91.5 13.5h0m-98 21.5h0m420 64.5h0m-375-62.5h0m352.5 181.5h0m190.5-75.5h0m-416 735h0m12.5-589.5h0m318-30.5h0m-216-141.5h0m560 236h0m-886.5-341h0m558 320h0m-516-210.5h0m244 62h0m346 378h0m-144-377h0m411 188h0m-163 45h0m-27-189.5h0m169.5 102.5h0m-487.5 88.5h0m-16-137h0m200.5 26.5h0m-269 11.5h0m-3.5 509.5h0m593-466h0m2.5 46.5h0m-412.5-168h0m-141.5-87.5h0m49 96h0m334-35h0m-85.5 360.5h0m-492.5-607.5h0m501.5 333h0m-184.5-15.5h0m-480-298h0m145 13.5h0m579.5 435h0m161-70.5h0m-603.5 534.5h0m-245.5-854h0m493 85h0m-40 69h0m43.5 149h0m-397-331h0m374 420.5h0m-501-457.5h0m735.5 449.5h0m-664-365h0m280-1h0m120.5 404.5h0m-651-282h0m625-9.5h0m83.5 26.5h0m326.5 166.5h0m-363-40h0m33-106h0m-95.5-2h0m40 1h0m-49.5 209h0m-193 442.5h0m425-318.5h0m-155-93.5h0m0-310.5h0m-131.5 196h0m165.5 21.5h0m-12 14.5h0m25.5-101.5h0m-698-185h0m917.5 354.5h0m-154.5 149.5h0m-570-558.5h0m324 311h0m-98.5-158h0m411 396.5h0m-549.5-604.5h0m567 262h0m-512.5 584h0m-159.5-845h0m298 136h0m-288-144.5h0m470.5 365h0m-525.5-311.5h0m383 342h0m157.5 72.5h0m-126.5-269h0m477 236.5h0m-840.5-182.5h0m461-14.5h0m-89.5 185h0m433.5 9.5h0m-376-199h0m220.5 368.5h0m-282.5-363h0m20.5-35h0m-263-189.5h0m708 371h0m-565-266.5h0m549.5 278.5h0m-383.5-267h0m-606 79.5h0m654 78.5h0m-99.5-195.5h0m-354-124h0m17 7h0m349.5 155.5h0m-192 147h0m464-100.5h0m-201 256.5h0m-446.5-204.5h0m386.5 349.5h0m78.5-320.5h0m-522.5-60.5h0m128.5-225.5h0m396 316.5h0m227 169.5h0m-501 430h0m305.5-360.5h0m-538-480.5h0m405.5 378.5h0m151-209h0m-13 94h0m313 46h0m-29.5 80h0m-675.5-434h0m-128.5 45h0m819 300h0m-740.5-298h0m567.5 267.5h0m-256-10.5h0m256.5 51h0m-106.5 61h0m-132 164h0m73.5-285h0m128.5 329.5h0m-68.5-361.5h0m-432-202h0m204 196.5h0m-74.5 63.5h0m183.5-101.5h0m-85.5 258h0m355.5-158h0m-290 122h0m-62.5-265.5h0m-394-165h0m743 220h0m-282.5 255h0m146-223.5h0m-87 40.5h0m-270 16h0m149.5-145h0m286.5 465h0m229-230h0m-563 440h0m330-241h0m-621-357.5h0m439.5 254h0m148.5-213.5h0m-189.5 148.5h0m-426.5-236.5h0m38.5 19h0m343-77.5h0m14-0.5h0m494 240.5h0m-934.5-189h0m766 97h0m-299 2.5h0m-116 44.5h0m-131.5 547h0m156-683.5h0m43.5 186.5h0m265.5 259.5h0m76-430h0m-495.5 109.5h0m360-35h0m-22 159h0m-184-155h0m-345-228.5h0m267.5 8h0m292 402h0m-108.5-106.5h0m-57.5-71h0m-22.5-215.5h0m111 107h0m-85 353h0m-360.5-420h0m309.5 267.5h0m-245.5-356h0m-85-73h0m796.5 443h0m-184-49h0m-391.5 496.5h0m27.5-764h0m101.5 261.5h0m331 72.5h0m-456.5-112h0m-207-278h0m188.5 249h0m228 252.5h0m-208-200h0m18-180h0m-216.5-157.5h0m696 469h0m-257-200.5h0m-369-280h0m-97-19h0m246.5 120.5h0m234 359.5h0m-23.5 44h0m-299.5 410.5h0m316-753.5h0m-429-181h0m572.5 190h0m190 293h0m-462.5-118.5h0m-4-133h0m-355-222h0m505 268.5h0m-79 224h0m44.5-207h0m-533-249.5h0m646.5 555h0m-213.5-192h0m81 151.5h0m21.5-89h0m31.5-266.5h0m202 257.5h0m-73.5-133h0m-278 251h0m337-260h0m-324.5-109h0m92-55h0m-32.5 165h0m-469-65h0m712 399.5h0m-267.5-438.5h0m-444.5-202h0m692.5 205.5h0m216 201.5h0m-432 136h0m-52.5 31.5h0m128-94.5h0m1.5 125.5h0m-125-272.5h0m-551-179.5h0m613.5 200.5h0m22 193.5h0m-38.5-356h0m-240.5 717h0m197-573.5h0m76.5 133h0m4 11h0m-244-119h0m354.5 220.5h0m-133-376.5h0m-403.5-117h0m137.5 765h0m427.5-512.5h0m-272 26.5h0m139-57h0m-559.5-286.5h0m65.5 206.5h0m831.5 223.5h0m-523.5 486.5h0m-506.5-777h0m663.5 204.5h0m-230 525.5h0m136.5-696.5h0m-63.5 10.5h0m-328-209.5h0m357 239.5h0m45.5 137.5h0m-101 599.5h0m312.5-529.5h0m-122 28h0m386.5-27h0m-249.5 148.5h0m-616-528h0m153.5-63h0m-117.5 98h0m292 0h0m154.5 145.5h0m-114.5-65.5h0m-558 3h0m342-92.5h0m61 780.5h0m453.5-252h0m-323-313h0m86.5-68.5h0m204.5-6.5h0m-50.5 82.5h0m-116.5 55.5h0m-33.5-109h0m-218-201.5h0m-100-49h0m620 410.5h0m-713-410h0m437 298h0m-414-226h0m274 292.5h0m-266.5-289.5h0m801.5 306h0m-103 68h0m29 30h0m-210-156h0m-561-68.5h0m-188-92.5h0m211-159h0m645.5 583.5h0m-722.5-581h0m339.5 157.5h0m45 8.5h0m-314-144.5h0m626 229h0m-279.5-93h0m-375.5 56.5h0m315 117h0m-4-164h0m-468-27h0m18 71h0m181.5-142h0m623 242h0m-200 170h0m-431-461h0m843.5 372h0m-585.5-77h0m-13.5 622h0m459-518h0"/><path stroke="#D04371" d="M1533 495h0m-285.5-47.5h0m-373 64.5h0m6.5-241.5h0m421.5 331.5h0m-172 507.5h0m238.5-268h0m-484.5-428.5h0m253 782h0m222.5-525h0m-113.5 149h0m-43-138h0m242-181.5h0m-182.5 119.5h0m205 183.5h0m-8.5 36.5h0m-352 305h0m-15 29.5h0m384-647h0m-361 673h0m414.5-659.5h0m-105.5 138h0m-360-323h0m454.5 179.5h0m-343 80.5h0m-81-132h0m-315-2.5h0m190.5 630.5h0m30.5 5.5h0m221.5-529.5h0m-203 515.5h0m120 85.5h0m-4.5-552.5h0m117.5-89.5h0m-106 274h0m68.5 7h0m-27.5-14h0m258-15h0m14 18.5h0m-331 324.5h0m190.5-694h0m-40 325.5h0m-197.5-356h0m219.5 133.5h0m-21.5 8h0m-225.5 558h0m298-602.5h0m-542-215h0m319 896.5h0m201-673.5h0m-334 602.5h0m-106-763.5h0m131 768.5h0m638-438h0m-352 63.5h0m286.5-83.5h0m-796-215h0m562.5 151h0m-202.5 23h0m116-14h0m138 104h0m-114.5-335h0m347 290.5h0m-525-270.5h0m308.5 413h0m-142-4.5h0m-64-6h0m131.5-176h0m-83-96h0m14-58h0m-667-98.5h0m597.5 298.5h0m56-230.5h0m69 373.5h0m-242 311.5h0m67.5-564h0m260.5 164.5h0m-195.5-315.5h0m244.5 154h0m-151.5 36h0m-242.5 536.5h0m442.5-295h0m-156-332.5h0m-739-120.5h0m843.5 521.5h0m-345.5 233.5h0m6-590h0m68.5 87.5h0m67-236h0m-109-3.5h0m155 287h0m-37-249h0m-402.5-61.5h0m440 132.5h0m-389-262h0m219 385.5h0m121.5-103.5h0m69 273h0m-78-262h0m-213.5-10.5h0m161.5 277h0m249.5 64h0m-659.5-586h0m220 836h0m641-449h0m-388-126.5h0m388.5 63.5h0m-494.5-265h0m434.5 330.5h0m-441 112.5h0m153-40.5h0m-364.5-500h0m717.5 433h0m-145.5-217h0m-222.5-61.5h0m10 327.5h0m-188.5 429h0m-418.5-736.5h0m622 206h0m98.5 172.5h0m-220-104.5h0m38-2h0m-202.5 396h0m260.5-673h0m-128.5 202h0m-89 540.5h0m461-667h0m-415.5 62h0m571.5 29.5h0m-730.5 525.5h0m81 17h0m217.5-387h0m384.5-70.5h0m-528-80h0m-240-194.5h0m459.5 96h0m0 10h0m-23.5-83h0m-195.5 714h0m375.5-313h0m-439.5 321h0m198.5-588.5h0m-129.5 647.5h0m-211.5-909h0m228.5 320.5h0m2.5 566.5h0m91-595.5h0m-327-301.5h0m-272 166.5h0m681.5 7.5h0m47 72.5h0m-183 288.5h0m329 77h0m-419-325.5h0m369 332.5h0m-107.5-279h0m-109.5-281.5h0m276.5 219.5h0m-1-22h0m-228.5-152.5h0m214.5 98.5h0m-439 648h0m371-317.5h0m-153.5-320h0m28 73h0m152-143.5h0m-418.5 694.5h0m37-21h0m339.5-554h0m115.5 196h0m-907-355.5h0m851.5 424.5h0m-294-170h0m-10.5 117.5h0m231.5-29.5h0m-183-79.5h0m-17.5-305h0m285.5 104.5h0m-425 728.5h0m237-720h0m-180.5 109h0m574 99h0m-273.5 59h0m-402-173h0m464.5 339h0m-239.5-52.5h0m-447-362h0m688 335h0m-224-256h0m-45 148.5h0m-393-473h0m618.5 582.5h0m-61-318.5h0m74.5 315h0m-470.5 281.5h0m125.5-466.5h0m230-88.5h0m223.5 141.5h0m-304-86h0m-473.5-344h0m716 571h0m-720.5-336h0m408.5 199.5h0m-83.5-289.5h0m133 370.5h0m78.5-324h0m209.5 246h0m-302-267h0m63.5 7h0m189 471.5h0m-318.5-146.5h0m107-220h0m-269.5 614.5h0m91.5-773h0m133.5 116h0m-70.5 123h0m-170-376.5h0m193 366h0m-28.5-21.5h0m46-106h0m111-5h0m-260 37.5h0m-58.5-270h0m251 357.5h0m80 44.5h0m120 180.5h0m-92.5-349.5h0m-88 284.5h0m-257 363h0m159.5-315.5h0m16-288h0m-31 601.5h0m281-622.5h0m-122.5 61h0m-2.5-75.5h0m179.5 418.5h0m-401.5 264h0m350.5-285h0m-47-177.5h0m-19-148h0m-37.5 6.5h0m-225-209.5h0m194.5 343h0m379-4h0m-650.5 443h0m667.5-482h0m-1042.5-223h0m519 168h0m214.5 140.5h0m-291-357h0m-233 112h0m306 322.5h0m95-200h0m-157.5 523h0m0.5 47.5h0m195-585h0m-353.5-315h0m352 390h0m-171.5-74.5h0m544.5 42h0m-209.5-243h0m-57.5 326h0m95.5-282h0m-217 306h0"/><path stroke="#F6735C" d="M1469.5 459h0m-149 101h0m-549.5-101.5h0m276 671.5h0m372-277.5h0m-243.5-503h0m237 495h0m72-29.5h0m-133.5 38h0m-169-28h0m9-187.5h0m505.5-15.5h0m-346-93h0m-59 129.5h0m-31-306h0m-21.5 205.5h0m60 88.5h0m-194 575.5h0m193-838.5h0m-443.5 97h0m532.5 63h0m148-49h0m-335 47h0m255.5 280h0m-25.5-3h0m-353.5 278.5h0m55.5 55h0m371.5-648h0m-343.5 293.5h0m93.5-371h0m130.5 114.5h0m17.5 194h0m-229.5 55h0m154.5-223.5h0m73 80h0m-396 479.5h0m115-474h0m23.5 552.5h0m8.5-570.5h0m-40.5 572h0m302.5-372h0m-180.5-457.5h0m446 206h0m-551.5 79.5h0m493.5-5h0m-749.5-169.5h0m765 132.5h0m-349-215.5h0m92.5 260.5h0m-68-85h0m-224-2h0m187.5 173.5h0m-383.5-370.5h0m164.5 724.5h0m580-482h0"/><path stroke="#FDAF74" d="M1447.5 812.5h0m-402.5 285h0m324-647h0m-276 714h0m-56.5-26.5h0m44.5 4h0m293.5-514h0m-383 490h0m496-303h0m-481 333h0m129.5 29h0"/><path stroke="#000004" d="M340 306h0"/><path stroke="#000004" d="M342.667 307.833h0"/><path stroke="#000004" d="M345.333 309.667h0"/><path stroke="#000004" d="M348 311.5h0"/><path stroke="#D04371" d="M340.5 306.5h0"/><path stroke="#D04371" d="M343.25 308.25h0"/><path stroke="#D04371" d="M346 310h0"/><path stroke="#000004" d="M435.5 561.2h0"/><path stroke="#000004" d="M438.329 563.571h0"/><path stroke="#000004" d="M441.157 565.943h0"/><path stroke="#000004" d="M443.986 568.314h0"/><path stroke="#000004" d="M446.814 570.686h0"/><path stroke="#000004" d="M449.643 573.057h0"/><path stroke="#000004" d="M452.471 575.429h0"/><path stroke="#000004" d="M455.3 577.8h0"/><path stroke="#D04371" d="M436.5 562h0"/><path stroke="#F6735C" d="M439.071 564.143h0"/><path stroke="#D04371" d="M441.643 566.286h0"/><path stroke="#D04371" d="M444.214 568.429h0"/><path stroke="#D04371" d="M446.786 570.571h0"/><path stroke="#7B2382" d="M449.357 572.714h0"/><path stroke="#D04371" d="M451.929 574.857h0"/><path stroke="#D04371" d="M454.5 577h0"/><path stroke="#000004" d="M504 674h0"/><path stroke="#000004" d="M507.76 676.54h0"/><path stroke="#000004" d="M511.52 679.08h0"/><path stroke="#000004" d="M515.28 681.62h0"/><path stroke="#000004" d="M519.04 684.16h0"/><path stroke="#000004" d="M522.8 686.7h0"/><path stroke="#D04371" d="M506 676.5h0"/><path stroke="#D04371" d="M510 679.167h0"/><path stroke="#FDAF74" d="M514 681.833h0"/><path stroke="#7B2382" d="M518 684.5h0"/><path stroke="#000004" d="M363.5 702.9h0"/><path stroke="#000004" d="M367.28 705.42h0"/><path stroke="#000004" d="M371.06 707.94h0"/><path stroke="#000004" d="M374.84 710.46h0"/><path stroke="#000004" d="M378.62 712.98h0"/><path stroke="#000004" d="M382.4 715.5h0"/><path stroke="#D04371" d="M366 704.5h0"/><path stroke="#D04371" d="M370.333 707.5h0"/><path stroke="#F6735C" d="M374.667 710.5h0"/><path stroke="#7B2382" d="M379 713.5h0"/><path stroke="#000004" d="M582.1 711h0"/><path stroke="#000004" d="M589.3 713.7h0"/><path stroke="#000004" d="M593.05 716.083h0"/><path stroke="#000004" d="M596.8 718.467h0"/><path stroke="#000004" d="M600.55 720.85h0"/><path stroke="#000004" d="M604.3 723.233h0"/><path stroke="#000004" d="M608.05 725.617h0"/><path stroke="#000004" d="M611.8 728h0"/><path stroke="#D04371" d="M590 714.2h0"/><path stroke="#D04371" d="M593.333 716.3h0"/><path stroke="#F6735C" d="M596.667 718.4h0"/><path stroke="#D04371" d="M600 720.5h0"/><path stroke="#D04371" d="M603.333 722.6h0"/><path stroke="#7B2382" d="M606.667 724.7h0"/><path stroke="#D04371" d="M610 726.8h0"/><path stroke="#000004" d="M377 789.2h0"/><path stroke="#000004" d="M379.7 791h0"/><path stroke="#000004" d="M382.4 792.8h0"/><path stroke="#000004" d="M385.1 794.6h0"/><path stroke="#7B2382" d="M645.5 873h0"/></g><g stroke="#000" stroke-width="4.4" fill="none" stroke-linecap="butt"><path d="M222.4 142.7V1304.7M220.2 1302.5H1829"/><path d="M208 155.6H222.4"/><path d="M208 366.0H222.4"/><path d="M208 576.4H222.4"/><path d="M208 786.8H222.4"/><path d="M208 997.2H222.4"/><path d="M208 1207.6H222.4"/><path d="M632.0 1302.5V1316.8"/><path d="M1193.0 1302.5V1316.8"/><path d="M1754.0 1302.5V1316.8"/></g><text x="195.2" y="173.4" font-size="51" text-anchor="end">15</text><text x="195.2" y="383.8" font-size="51" text-anchor="end">10</text><text x="195.2" y="594.2" font-size="51" text-anchor="end">5</text><text x="195.2" y="804.6" font-size="51" text-anchor="end">0</text><text x="195.2" y="1015.0" font-size="51" text-anchor="end">-5</text><text x="195.2" y="1225.4" font-size="51" text-anchor="end">-10</text><text x="632.0" y="1366" font-size="51" text-anchor="middle">0</text><text x="1193.0" y="1366" font-size="51" text-anchor="middle">10</text><text x="1754.0" y="1366" font-size="51" text-anchor="middle">20</text><text x="1019.5" y="101" font-size="72.5" font-weight="bold" text-anchor="middle" textLength="238.5" lengthAdjust="spacingAndGlyphs">SFT2D1</text><text x="1021.4" y="1435" font-size="62.3" text-anchor="middle" textLength="223" lengthAdjust="spacingAndGlyphs">UMAP_1</text><text transform="translate(95.1 722.6) rotate(-90)" x="0" y="0" font-size="62.5" text-anchor="middle" textLength="233" lengthAdjust="spacingAndGlyphs">UMAP_2</text><rect x="1885.1" y="578.5" width="63.8" height="318.1" fill="url(#mg)"/><g stroke="#fff" stroke-width="1.6"><path d="M1885.1 651.7H1897.8M1936.2 651.7H1948.9"/><path d="M1885.1 733.9H1897.8M1936.2 733.9H1948.9"/><path d="M1885.1 815.7H1897.8M1936.2 815.7H1948.9"/><path d="M1885.1 897.4H1897.8M1936.2 897.4H1948.9"/></g><rect x="1897.8" y="896" width="38.4" height="2" fill="#000"/><text x="1977" y="669.5" font-size="51">1.5</text><text x="1977" y="751.7" font-size="51">1.0</text><text x="1977" y="833.5" font-size="51">0.5</text><text x="1977" y="915.5" font-size="51">0.0</text></svg></body></html>
